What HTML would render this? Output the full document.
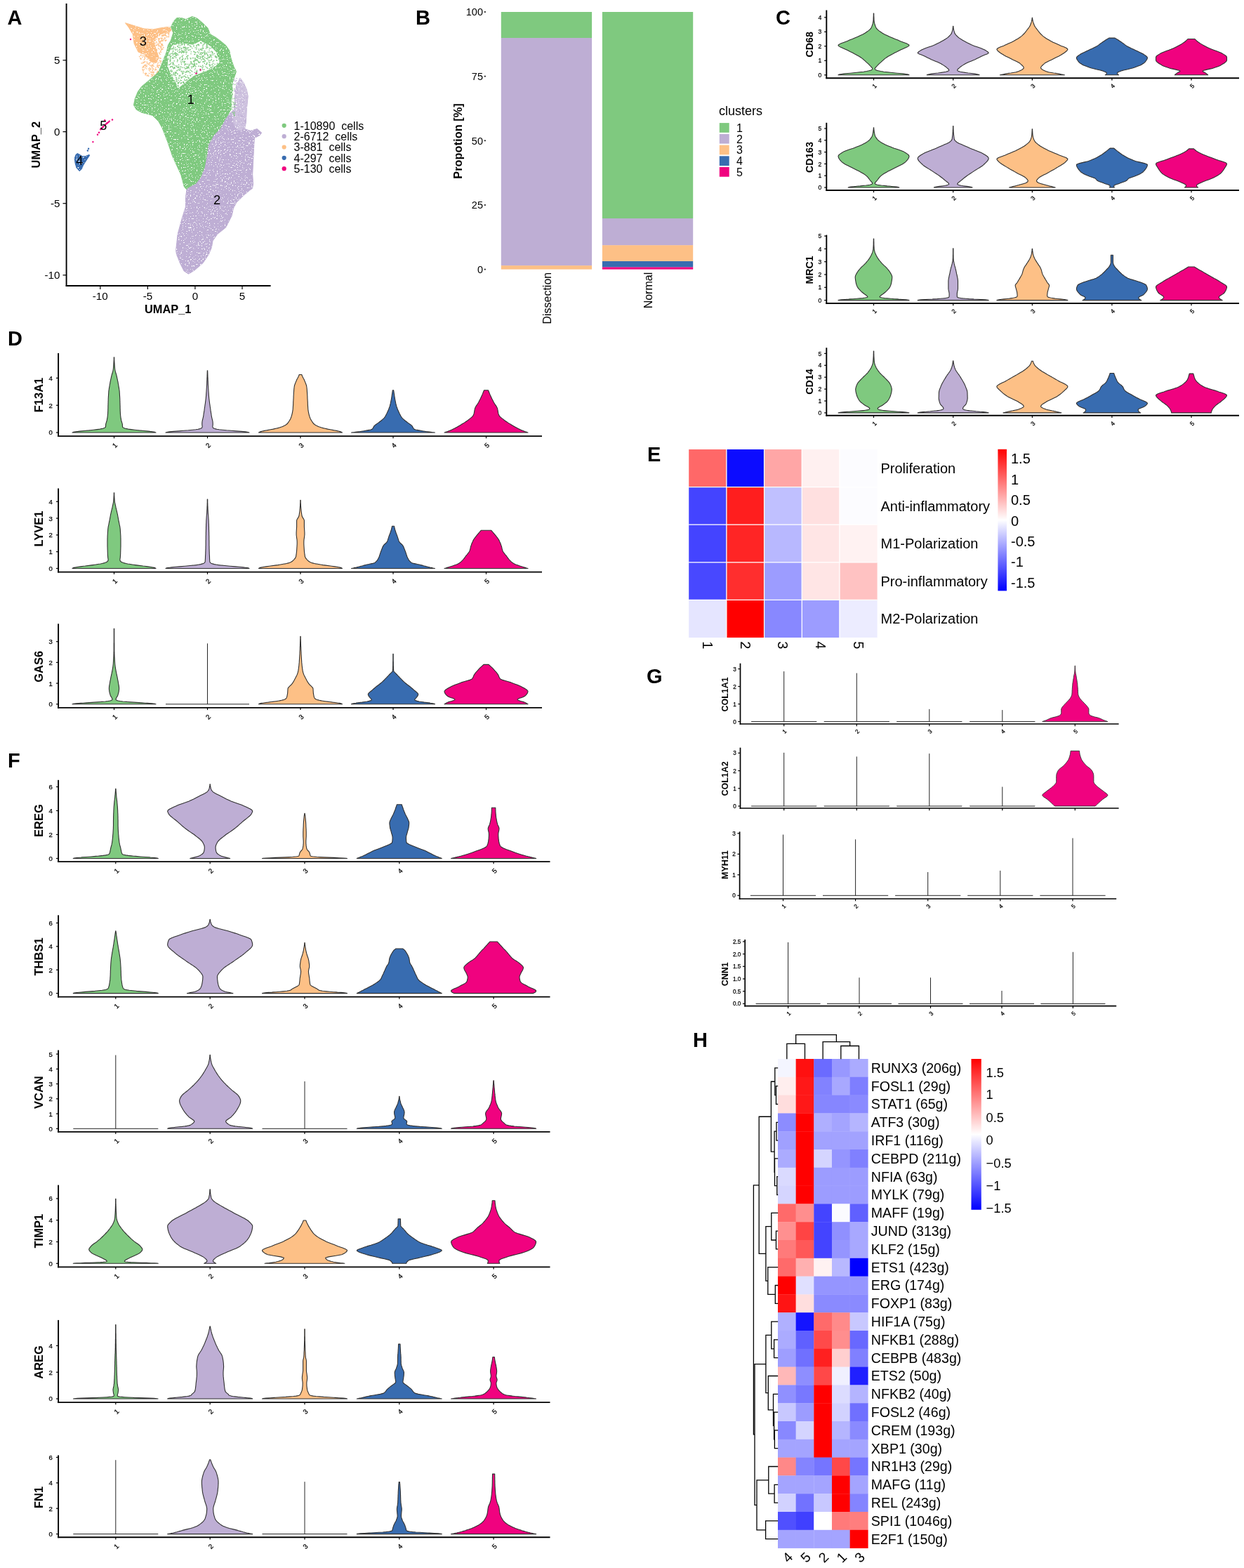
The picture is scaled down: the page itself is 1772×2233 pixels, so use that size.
<!DOCTYPE html><html><head><meta charset="utf-8"><title>Figure</title><style>html,body{margin:0;padding:0;background:#fff;}svg{display:block;}</style></head><body><svg width="1772" height="2233" viewBox="0 0 1772 2233" font-family="'Liberation Sans', Arial, Helvetica, sans-serif"><rect width="1772" height="2233" fill="#fff"/>
<text x="10.5" y="35" font-size="29" font-weight="bold">A</text>
<text x="592" y="35" font-size="29" font-weight="bold">B</text>
<text x="1105" y="35" font-size="29" font-weight="bold">C</text>
<text x="11" y="492" font-size="29" font-weight="bold">D</text>
<text x="922" y="656.5" font-size="29" font-weight="bold">E</text>
<text x="11" y="1093" font-size="29" font-weight="bold">F</text>
<text x="921" y="973" font-size="29" font-weight="bold">G</text>
<text x="987" y="1491" font-size="29" font-weight="bold">H</text>
<defs><filter id="spkf" x="0" y="0" width="1" height="1" color-interpolation-filters="sRGB"><feTurbulence type="fractalNoise" baseFrequency="0.55" numOctaves="2" seed="5"/><feColorMatrix type="matrix" values="0 0 0 0 1  0 0 0 0 1  0 0 0 0 1  14 0 0 0 -9.0"/></filter></defs>
<path d="M223.8 62.5h1.4v1.4h-1.4zM217.6 98.0h1.4v1.4h-1.4zM226.0 64.8h1.4v1.4h-1.4zM211.3 97.1h1.4v1.4h-1.4zM204.2 79.1h1.4v1.4h-1.4zM229.4 63.0h1.4v1.4h-1.4zM231.7 67.2h1.4v1.4h-1.4zM219.2 57.4h1.4v1.4h-1.4zM223.2 101.7h1.4v1.4h-1.4zM234.4 56.5h1.4v1.4h-1.4zM217.3 92.6h1.4v1.4h-1.4zM226.2 69.4h1.4v1.4h-1.4zM215.8 101.4h1.4v1.4h-1.4zM224.5 102.3h1.4v1.4h-1.4zM214.0 102.4h1.4v1.4h-1.4zM226.7 54.5h1.4v1.4h-1.4zM200.0 83.1h1.4v1.4h-1.4zM239.9 46.7h1.4v1.4h-1.4zM203.5 93.7h1.4v1.4h-1.4zM223.6 94.3h1.4v1.4h-1.4zM208.6 87.6h1.4v1.4h-1.4zM204.1 95.1h1.4v1.4h-1.4zM212.6 96.0h1.4v1.4h-1.4zM216.4 107.2h1.4v1.4h-1.4zM234.2 47.4h1.4v1.4h-1.4zM202.3 97.9h1.4v1.4h-1.4zM223.3 106.2h1.4v1.4h-1.4zM218.2 101.4h1.4v1.4h-1.4zM239.7 50.6h1.4v1.4h-1.4zM207.5 79.5h1.4v1.4h-1.4zM217.4 105.0h1.4v1.4h-1.4zM224.8 94.7h1.4v1.4h-1.4zM200.1 77.4h1.4v1.4h-1.4zM225.2 92.8h1.4v1.4h-1.4zM228.0 73.2h1.4v1.4h-1.4zM222.5 87.6h1.4v1.4h-1.4zM220.6 106.8h1.4v1.4h-1.4zM225.1 106.9h1.4v1.4h-1.4zM240.5 44.9h1.4v1.4h-1.4zM202.8 89.4h1.4v1.4h-1.4zM222.7 60.4h1.4v1.4h-1.4zM224.8 68.2h1.4v1.4h-1.4zM228.6 73.7h1.4v1.4h-1.4zM217.5 104.5h1.4v1.4h-1.4zM225.7 88.2h1.4v1.4h-1.4zM232.2 67.0h1.4v1.4h-1.4zM219.3 60.4h1.4v1.4h-1.4zM224.7 105.7h1.4v1.4h-1.4zM223.3 52.7h1.4v1.4h-1.4zM236.1 56.6h1.4v1.4h-1.4zM221.5 98.6h1.4v1.4h-1.4zM213.1 98.4h1.4v1.4h-1.4zM226.5 75.0h1.4v1.4h-1.4zM222.0 98.6h1.4v1.4h-1.4zM225.0 82.6h1.4v1.4h-1.4zM228.7 86.7h1.4v1.4h-1.4zM234.8 53.7h1.4v1.4h-1.4zM234.4 50.1h1.4v1.4h-1.4zM221.5 63.8h1.4v1.4h-1.4zM235.2 57.7h1.4v1.4h-1.4zM231.5 56.7h1.4v1.4h-1.4zM222.7 70.1h1.4v1.4h-1.4zM205.9 79.1h1.4v1.4h-1.4zM207.0 103.4h1.4v1.4h-1.4zM219.1 57.6h1.4v1.4h-1.4zM211.7 99.0h1.4v1.4h-1.4zM210.0 106.3h1.4v1.4h-1.4zM214.8 107.9h1.4v1.4h-1.4zM245.3 44.1h1.4v1.4h-1.4zM220.3 60.8h1.4v1.4h-1.4zM210.7 91.2h1.4v1.4h-1.4zM230.4 57.5h1.4v1.4h-1.4zM225.0 64.7h1.4v1.4h-1.4zM205.7 104.1h1.4v1.4h-1.4zM225.6 102.6h1.4v1.4h-1.4zM215.8 105.7h1.4v1.4h-1.4zM223.0 86.8h1.4v1.4h-1.4zM207.1 105.1h1.4v1.4h-1.4zM229.8 57.7h1.4v1.4h-1.4zM231.8 49.6h1.4v1.4h-1.4zM239.4 52.1h1.4v1.4h-1.4zM206.5 92.9h1.4v1.4h-1.4zM210.5 107.6h1.4v1.4h-1.4zM230.8 63.5h1.4v1.4h-1.4zM213.9 97.6h1.4v1.4h-1.4zM214.8 105.1h1.4v1.4h-1.4zM216.9 96.8h1.4v1.4h-1.4zM208.7 89.5h1.4v1.4h-1.4zM227.7 59.5h1.4v1.4h-1.4zM205.2 92.3h1.4v1.4h-1.4zM228.4 86.2h1.4v1.4h-1.4zM225.5 63.0h1.4v1.4h-1.4zM234.9 49.6h1.4v1.4h-1.4zM226.1 59.4h1.4v1.4h-1.4zM222.2 52.1h1.4v1.4h-1.4zM220.4 97.4h1.4v1.4h-1.4zM208.6 94.2h1.4v1.4h-1.4zM227.1 82.0h1.4v1.4h-1.4zM208.3 80.5h1.4v1.4h-1.4zM230.1 50.0h1.4v1.4h-1.4zM231.6 48.6h1.4v1.4h-1.4zM203.3 87.8h1.4v1.4h-1.4zM211.2 107.7h1.4v1.4h-1.4zM234.3 50.0h1.4v1.4h-1.4zM217.6 97.5h1.4v1.4h-1.4zM216.6 102.3h1.4v1.4h-1.4zM199.2 82.2h1.4v1.4h-1.4zM223.0 105.6h1.4v1.4h-1.4zM239.7 46.6h1.4v1.4h-1.4zM237.5 51.4h1.4v1.4h-1.4zM216.5 99.5h1.4v1.4h-1.4zM239.9 48.4h1.4v1.4h-1.4zM222.8 63.8h1.4v1.4h-1.4zM227.3 76.7h1.4v1.4h-1.4zM228.8 57.9h1.4v1.4h-1.4zM222.0 63.4h1.4v1.4h-1.4zM235.9 46.5h1.4v1.4h-1.4zM239.2 45.4h1.4v1.4h-1.4zM221.9 105.1h1.4v1.4h-1.4zM222.1 58.9h1.4v1.4h-1.4zM203.6 94.7h1.4v1.4h-1.4zM200.6 75.2h1.4v1.4h-1.4zM229.3 62.0h1.4v1.4h-1.4zM226.2 102.3h1.4v1.4h-1.4zM228.9 64.7h1.4v1.4h-1.4zM214.1 93.2h1.4v1.4h-1.4zM226.5 85.4h1.4v1.4h-1.4zM228.2 67.6h1.4v1.4h-1.4zM222.5 103.3h1.4v1.4h-1.4zM206.6 79.2h1.4v1.4h-1.4zM226.7 50.0h1.4v1.4h-1.4zM228.6 70.9h1.4v1.4h-1.4zM199.6 83.4h1.4v1.4h-1.4zM225.2 61.3h1.4v1.4h-1.4zM229.8 68.5h1.4v1.4h-1.4zM208.0 103.9h1.4v1.4h-1.4zM205.3 81.1h1.4v1.4h-1.4zM239.0 47.7h1.4v1.4h-1.4zM212.8 92.0h1.4v1.4h-1.4zM233.4 54.8h1.4v1.4h-1.4zM224.8 67.9h1.4v1.4h-1.4zM208.9 83.7h1.4v1.4h-1.4zM207.5 104.2h1.4v1.4h-1.4zM220.1 99.0h1.4v1.4h-1.4zM218.3 90.1h1.4v1.4h-1.4zM225.7 58.0h1.4v1.4h-1.4zM206.0 82.2h1.4v1.4h-1.4zM197.9 79.8h1.4v1.4h-1.4zM214.3 97.3h1.4v1.4h-1.4zM229.0 56.4h1.4v1.4h-1.4zM236.0 50.1h1.4v1.4h-1.4zM209.8 89.4h1.4v1.4h-1.4zM218.3 93.8h1.4v1.4h-1.4zM213.4 88.6h1.4v1.4h-1.4zM223.9 51.0h1.4v1.4h-1.4zM239.4 47.4h1.4v1.4h-1.4zM221.3 95.7h1.4v1.4h-1.4zM213.4 98.4h1.4v1.4h-1.4zM208.6 107.0h1.4v1.4h-1.4zM200.3 83.3h1.4v1.4h-1.4zM228.8 61.7h1.4v1.4h-1.4zM243.3 40.9h1.4v1.4h-1.4zM215.2 102.4h1.4v1.4h-1.4zM223.5 92.4h1.4v1.4h-1.4zM202.8 99.2h1.4v1.4h-1.4zM205.1 83.4h1.4v1.4h-1.4zM216.2 95.2h1.4v1.4h-1.4zM229.1 70.0h1.4v1.4h-1.4zM202.1 80.8h1.4v1.4h-1.4zM216.6 91.4h1.4v1.4h-1.4zM225.9 92.0h1.4v1.4h-1.4zM229.6 69.3h1.4v1.4h-1.4zM228.9 53.6h1.4v1.4h-1.4zM228.5 65.8h1.4v1.4h-1.4zM204.4 84.7h1.4v1.4h-1.4zM203.1 94.5h1.4v1.4h-1.4zM199.9 78.5h1.4v1.4h-1.4zM224.1 89.5h1.4v1.4h-1.4zM216.9 107.3h1.4v1.4h-1.4zM205.9 87.0h1.4v1.4h-1.4zM215.9 93.0h1.4v1.4h-1.4zM217.4 88.1h1.4v1.4h-1.4zM206.6 91.4h1.4v1.4h-1.4zM206.3 96.0h1.4v1.4h-1.4zM220.0 57.0h1.4v1.4h-1.4zM230.6 62.2h1.4v1.4h-1.4zM230.4 53.6h1.4v1.4h-1.4zM207.2 94.1h1.4v1.4h-1.4zM203.5 102.9h1.4v1.4h-1.4zM205.2 87.6h1.4v1.4h-1.4zM223.5 91.4h1.4v1.4h-1.4zM218.4 102.3h1.4v1.4h-1.4zM224.8 54.7h1.4v1.4h-1.4zM224.0 100.7h1.4v1.4h-1.4zM222.4 71.6h1.4v1.4h-1.4zM212.9 100.7h1.4v1.4h-1.4zM223.2 93.6h1.4v1.4h-1.4zM222.0 55.2h1.4v1.4h-1.4zM228.2 82.6h1.4v1.4h-1.4zM231.8 50.7h1.4v1.4h-1.4zM231.0 69.6h1.4v1.4h-1.4zM230.4 62.7h1.4v1.4h-1.4zM225.2 54.2h1.4v1.4h-1.4zM229.7 50.6h1.4v1.4h-1.4zM233.9 53.0h1.4v1.4h-1.4zM234.6 48.7h1.4v1.4h-1.4zM219.6 106.1h1.4v1.4h-1.4zM211.4 90.5h1.4v1.4h-1.4zM203.4 100.6h1.4v1.4h-1.4zM202.3 95.7h1.4v1.4h-1.4zM228.9 66.5h1.4v1.4h-1.4zM215.5 94.8h1.4v1.4h-1.4zM225.5 56.8h1.4v1.4h-1.4zM227.4 58.1h1.4v1.4h-1.4zM217.9 102.7h1.4v1.4h-1.4zM225.8 55.4h1.4v1.4h-1.4zM224.8 95.7h1.4v1.4h-1.4zM205.3 92.1h1.4v1.4h-1.4zM227.7 86.5h1.4v1.4h-1.4zM208.3 92.1h1.4v1.4h-1.4zM236.8 52.2h1.4v1.4h-1.4zM204.2 88.3h1.4v1.4h-1.4zM200.1 83.0h1.4v1.4h-1.4zM237.6 46.3h1.4v1.4h-1.4zM227.1 60.9h1.4v1.4h-1.4zM225.5 54.4h1.4v1.4h-1.4zM225.0 101.3h1.4v1.4h-1.4zM219.5 107.2h1.4v1.4h-1.4zM244.3 39.2h1.4v1.4h-1.4zM227.2 64.9h1.4v1.4h-1.4zM231.1 64.6h1.4v1.4h-1.4zM231.5 57.3h1.4v1.4h-1.4zM226.8 92.7h1.4v1.4h-1.4zM233.7 49.3h1.4v1.4h-1.4zM206.4 106.2h1.4v1.4h-1.4zM219.2 60.5h1.4v1.4h-1.4zM211.8 103.8h1.4v1.4h-1.4zM231.1 50.6h1.4v1.4h-1.4zM220.6 56.3h1.4v1.4h-1.4zM243.6 38.7h1.4v1.4h-1.4zM234.3 56.9h1.4v1.4h-1.4zM204.2 93.6h1.4v1.4h-1.4zM233.4 49.4h1.4v1.4h-1.4zM227.8 72.5h1.4v1.4h-1.4zM228.0 88.8h1.4v1.4h-1.4zM204.5 98.3h1.4v1.4h-1.4zM200.9 89.3h1.4v1.4h-1.4zM212.0 89.1h1.4v1.4h-1.4zM215.3 92.2h1.4v1.4h-1.4zM208.1 97.2h1.4v1.4h-1.4zM232.7 49.3h1.4v1.4h-1.4zM226.0 74.6h1.4v1.4h-1.4zM202.4 78.4h1.4v1.4h-1.4zM235.4 47.0h1.4v1.4h-1.4zM216.1 106.8h1.4v1.4h-1.4zM229.1 62.4h1.4v1.4h-1.4zM229.6 54.8h1.4v1.4h-1.4zM231.6 55.4h1.4v1.4h-1.4zM224.1 105.5h1.4v1.4h-1.4zM228.5 53.6h1.4v1.4h-1.4z" fill="#FDC086"/>
<path d="M247.8 29.7 L252 25.5 L258.4 25.5 L264.7 27.6 L274.1 23.4 L281.5 26.6 L289.9 33.9 L296.2 40.2 L299.4 48.7 L306.8 52.9 L315.2 59.2 L321.5 64.4 L326.7 71.8 L328.8 82.3 L333 95 L336.5 102 L333 112 L330.9 118.6 L330 137.1 L329 155.7 L321.6 169.6 L314.2 183.5 L305 192.8 L297.5 206.7 L295.7 220.6 L292 239.1 L286.4 253 L279 262.3 L269 267.5 L266 270 L262.3 265.8 L257.9 249.1 L245.6 222.3 L238.9 202.3 L231.1 182.3 L225.8 172.8 L217.3 164.4 L210 162.3 L201.6 160.2 L194.2 156 L190.5 149.7 L192.1 141.2 L196.3 130.7 L201.6 123.4 L207.9 118.1 L214.2 112.8 L220.5 107.6 L225.8 102.3 L228.9 95 L233.1 84.4 L237.3 73.9 L239.4 64.4 L243.6 57.1 L246.8 46.6 L243.6 38.1Z" fill="#7FC97F" stroke="#7FC97F" stroke-width="1.0" stroke-linejoin="round"/>
<path d="M342 111.1 L347 118 L351.3 127.8 L353.2 137.1 L351.3 155.7 L350.4 174.2 L348.5 183.5 L356.9 186.3 L366.2 183.5 L372.7 189.1 L369.9 192.8 L362.4 196.5 L361.5 211.3 L360.6 229.9 L359.7 248.4 L360.6 262 L359.5 268.2 L349 276.4 L336.6 288.6 L332.5 296.8 L330 307.5 L321.8 323.8 L309.6 333.6 L303 343 L301.4 352.5 L297.3 362.3 L289.1 374.6 L276.8 385.2 L268.6 390.1 L262.1 386 L256.4 374.6 L251.5 362.3 L250.6 356.6 L253.1 333.6 L258.8 312.4 L264.5 294.4 L264.5 280.5 L266 270 L269 267.5 L279 262.3 L286.4 253 L292 239.1 L295.7 220.6 L297.5 206.7 L305 192.8 L314.2 183.5 L321.6 169.6 L329 160 L333.7 155.7 L334.6 137.1 L336.5 123.2Z" fill="#BEAED4" stroke="#BEAED4" stroke-width="1.0" stroke-linejoin="round"/>
<path d="M178.5 32.7 L189.2 36 L204.8 40.9 L218.4 41.9 L228.2 39.9 L241.8 38 L243.8 43.8 L234 46.8 L224.3 50.7 L218.4 58.4 L222.3 70.1 L226.2 81.8 L222.3 89.6 L214.5 87.7 L206.8 77.9 L197 74 L191.2 62.3 L189.2 48.7 L183.4 39Z" fill="#FDC086" stroke="#FDC086" stroke-width="1.0" stroke-linejoin="round"/>
<path d="M110 218.4 L113.7 220.3 L117 222.6 L121.2 222.6 L127.3 220.3 L127.7 221.2 L121.2 231.1 L118.4 235.7 L116.5 240.4 L113.2 243.7 L109 239 L107.2 232.9 L106.2 225.5 L108.1 220.3Z" fill="#386CB0" stroke="#386CB0" stroke-width="1.0" stroke-linejoin="round"/>
<clipPath id="clc"><path d="M247.8 29.7 L252 25.5 L258.4 25.5 L264.7 27.6 L274.1 23.4 L281.5 26.6 L289.9 33.9 L296.2 40.2 L299.4 48.7 L306.8 52.9 L315.2 59.2 L321.5 64.4 L326.7 71.8 L328.8 82.3 L333 95 L336.5 102 L333 112 L330.9 118.6 L330 137.1 L329 155.7 L321.6 169.6 L314.2 183.5 L305 192.8 L297.5 206.7 L295.7 220.6 L292 239.1 L286.4 253 L279 262.3 L269 267.5 L266 270 L262.3 265.8 L257.9 249.1 L245.6 222.3 L238.9 202.3 L231.1 182.3 L225.8 172.8 L217.3 164.4 L210 162.3 L201.6 160.2 L194.2 156 L190.5 149.7 L192.1 141.2 L196.3 130.7 L201.6 123.4 L207.9 118.1 L214.2 112.8 L220.5 107.6 L225.8 102.3 L228.9 95 L233.1 84.4 L237.3 73.9 L239.4 64.4 L243.6 57.1 L246.8 46.6 L243.6 38.1Z"/><path d="M342 111.1 L347 118 L351.3 127.8 L353.2 137.1 L351.3 155.7 L350.4 174.2 L348.5 183.5 L356.9 186.3 L366.2 183.5 L372.7 189.1 L369.9 192.8 L362.4 196.5 L361.5 211.3 L360.6 229.9 L359.7 248.4 L360.6 262 L359.5 268.2 L349 276.4 L336.6 288.6 L332.5 296.8 L330 307.5 L321.8 323.8 L309.6 333.6 L303 343 L301.4 352.5 L297.3 362.3 L289.1 374.6 L276.8 385.2 L268.6 390.1 L262.1 386 L256.4 374.6 L251.5 362.3 L250.6 356.6 L253.1 333.6 L258.8 312.4 L264.5 294.4 L264.5 280.5 L266 270 L269 267.5 L279 262.3 L286.4 253 L292 239.1 L295.7 220.6 L297.5 206.7 L305 192.8 L314.2 183.5 L321.6 169.6 L329 160 L333.7 155.7 L334.6 137.1 L336.5 123.2Z"/><path d="M178.5 32.7 L189.2 36 L204.8 40.9 L218.4 41.9 L228.2 39.9 L241.8 38 L243.8 43.8 L234 46.8 L224.3 50.7 L218.4 58.4 L222.3 70.1 L226.2 81.8 L222.3 89.6 L214.5 87.7 L206.8 77.9 L197 74 L191.2 62.3 L189.2 48.7 L183.4 39Z"/><path d="M110 218.4 L113.7 220.3 L117 222.6 L121.2 222.6 L127.3 220.3 L127.7 221.2 L121.2 231.1 L118.4 235.7 L116.5 240.4 L113.2 243.7 L109 239 L107.2 232.9 L106.2 225.5 L108.1 220.3Z"/></clipPath>
<rect x="100" y="15" width="280" height="385" fill="#fff" filter="url(#spkf)" clip-path="url(#clc)"/>
<path d="M245.7 65.5 L259.4 62.3 L275.2 64.4 L285.7 59.2 L296.2 64.4 L306.8 73.9 L312 88.6 L301.5 97.1 L291 101.3 L275.2 107.6 L264.7 116 L254.2 124.4 L250 115 L243.6 104.4 L239.5 93.9 L240.5 78.1Z" fill="#fff" stroke="#fff" stroke-width="1.5" stroke-linejoin="round"/>
<path d="M276.3 86.4h1.4v1.4h-1.4zM260.2 100.7h1.4v1.4h-1.4zM246.3 97.1h1.4v1.4h-1.4zM257.4 88.5h1.4v1.4h-1.4zM277.3 67.2h1.4v1.4h-1.4zM246.6 66.1h1.4v1.4h-1.4zM259.3 84.5h1.4v1.4h-1.4zM258.9 73.6h1.4v1.4h-1.4zM243.9 93.9h1.4v1.4h-1.4zM280.1 100.9h1.4v1.4h-1.4zM252.4 104.9h1.4v1.4h-1.4zM271.9 94.0h1.4v1.4h-1.4zM283.3 88.7h1.4v1.4h-1.4zM260.6 73.5h1.4v1.4h-1.4zM253.9 91.6h1.4v1.4h-1.4zM266.0 96.5h1.4v1.4h-1.4zM301.9 73.3h1.4v1.4h-1.4zM279.0 90.2h1.4v1.4h-1.4zM259.5 109.0h1.4v1.4h-1.4zM302.6 86.8h1.4v1.4h-1.4zM242.0 83.3h1.4v1.4h-1.4zM270.3 106.6h1.4v1.4h-1.4zM245.5 72.4h1.4v1.4h-1.4zM248.9 79.9h1.4v1.4h-1.4zM263.7 102.5h1.4v1.4h-1.4zM298.9 92.0h1.4v1.4h-1.4zM294.3 89.1h1.4v1.4h-1.4zM294.7 96.6h1.4v1.4h-1.4zM280.2 85.3h1.4v1.4h-1.4zM282.9 82.7h1.4v1.4h-1.4zM271.2 88.0h1.4v1.4h-1.4zM291.5 76.9h1.4v1.4h-1.4zM266.6 94.5h1.4v1.4h-1.4zM266.1 78.9h1.4v1.4h-1.4zM274.8 87.1h1.4v1.4h-1.4zM251.1 77.7h1.4v1.4h-1.4zM248.2 95.9h1.4v1.4h-1.4zM280.9 63.2h1.4v1.4h-1.4zM306.3 79.0h1.4v1.4h-1.4zM279.7 90.6h1.4v1.4h-1.4zM276.1 92.0h1.4v1.4h-1.4zM288.7 83.4h1.4v1.4h-1.4zM264.1 97.1h1.4v1.4h-1.4zM288.0 92.5h1.4v1.4h-1.4zM244.7 82.4h1.4v1.4h-1.4zM267.4 94.9h1.4v1.4h-1.4zM270.3 99.1h1.4v1.4h-1.4zM250.1 78.6h1.4v1.4h-1.4zM275.7 64.7h1.4v1.4h-1.4zM303.9 85.5h1.4v1.4h-1.4zM249.0 76.7h1.4v1.4h-1.4zM275.7 91.1h1.4v1.4h-1.4zM251.4 69.5h1.4v1.4h-1.4zM284.6 97.7h1.4v1.4h-1.4zM285.0 60.1h1.4v1.4h-1.4zM268.2 110.1h1.4v1.4h-1.4zM260.3 103.6h1.4v1.4h-1.4zM287.4 70.5h1.4v1.4h-1.4zM274.6 94.4h1.4v1.4h-1.4zM257.3 100.6h1.4v1.4h-1.4zM280.4 84.8h1.4v1.4h-1.4zM246.4 67.8h1.4v1.4h-1.4zM294.3 64.4h1.4v1.4h-1.4zM244.8 68.7h1.4v1.4h-1.4zM295.1 78.9h1.4v1.4h-1.4zM291.0 81.0h1.4v1.4h-1.4zM250.0 75.2h1.4v1.4h-1.4zM281.0 80.7h1.4v1.4h-1.4zM271.0 83.1h1.4v1.4h-1.4zM270.3 98.9h1.4v1.4h-1.4zM260.9 117.5h1.4v1.4h-1.4zM298.5 77.6h1.4v1.4h-1.4zM255.5 83.4h1.4v1.4h-1.4zM291.2 72.1h1.4v1.4h-1.4zM260.5 115.9h1.4v1.4h-1.4zM255.6 68.9h1.4v1.4h-1.4zM264.2 69.8h1.4v1.4h-1.4zM279.4 65.0h1.4v1.4h-1.4zM277.3 83.1h1.4v1.4h-1.4zM263.6 73.7h1.4v1.4h-1.4zM251.6 76.3h1.4v1.4h-1.4zM287.1 80.2h1.4v1.4h-1.4zM249.0 104.6h1.4v1.4h-1.4zM244.2 75.4h1.4v1.4h-1.4zM297.7 68.0h1.4v1.4h-1.4zM263.8 105.7h1.4v1.4h-1.4zM252.9 121.0h1.4v1.4h-1.4zM275.2 72.5h1.4v1.4h-1.4zM271.3 66.1h1.4v1.4h-1.4zM290.3 74.8h1.4v1.4h-1.4zM264.9 73.8h1.4v1.4h-1.4zM282.9 71.5h1.4v1.4h-1.4zM275.8 93.7h1.4v1.4h-1.4zM257.6 109.0h1.4v1.4h-1.4zM266.2 101.4h1.4v1.4h-1.4zM279.9 78.1h1.4v1.4h-1.4zM266.5 63.1h1.4v1.4h-1.4zM250.6 114.3h1.4v1.4h-1.4zM261.4 101.7h1.4v1.4h-1.4zM245.5 95.0h1.4v1.4h-1.4zM264.4 90.8h1.4v1.4h-1.4zM259.6 61.7h1.4v1.4h-1.4zM260.6 72.5h1.4v1.4h-1.4zM246.8 105.3h1.4v1.4h-1.4zM258.5 84.3h1.4v1.4h-1.4zM247.2 75.8h1.4v1.4h-1.4zM287.1 80.8h1.4v1.4h-1.4zM268.2 101.5h1.4v1.4h-1.4zM289.7 73.9h1.4v1.4h-1.4zM300.8 80.9h1.4v1.4h-1.4zM284.5 69.5h1.4v1.4h-1.4zM249.5 70.6h1.4v1.4h-1.4zM260.0 82.8h1.4v1.4h-1.4zM240.2 78.1h1.4v1.4h-1.4zM285.2 69.3h1.4v1.4h-1.4zM300.3 95.5h1.4v1.4h-1.4zM291.0 74.4h1.4v1.4h-1.4zM269.9 103.1h1.4v1.4h-1.4zM253.1 118.6h1.4v1.4h-1.4zM293.5 63.1h1.4v1.4h-1.4zM289.4 83.7h1.4v1.4h-1.4zM258.4 63.3h1.4v1.4h-1.4zM308.3 85.7h1.4v1.4h-1.4zM284.4 87.6h1.4v1.4h-1.4zM269.4 91.6h1.4v1.4h-1.4zM256.9 93.9h1.4v1.4h-1.4zM278.1 74.0h1.4v1.4h-1.4zM241.8 81.3h1.4v1.4h-1.4zM268.2 70.8h1.4v1.4h-1.4zM260.6 66.4h1.4v1.4h-1.4zM255.1 73.5h1.4v1.4h-1.4zM276.0 87.1h1.4v1.4h-1.4zM307.5 80.8h1.4v1.4h-1.4zM259.8 116.6h1.4v1.4h-1.4zM247.9 95.0h1.4v1.4h-1.4zM262.3 111.9h1.4v1.4h-1.4zM250.0 102.0h1.4v1.4h-1.4zM282.2 88.2h1.4v1.4h-1.4zM245.9 76.7h1.4v1.4h-1.4zM264.3 71.1h1.4v1.4h-1.4zM241.8 76.1h1.4v1.4h-1.4zM252.1 104.3h1.4v1.4h-1.4zM270.9 64.9h1.4v1.4h-1.4zM261.6 88.7h1.4v1.4h-1.4zM264.5 68.6h1.4v1.4h-1.4zM245.5 90.1h1.4v1.4h-1.4zM269.9 70.0h1.4v1.4h-1.4zM286.2 74.1h1.4v1.4h-1.4zM255.7 66.6h1.4v1.4h-1.4zM300.3 77.2h1.4v1.4h-1.4zM251.2 100.1h1.4v1.4h-1.4zM249.9 109.9h1.4v1.4h-1.4zM261.8 69.7h1.4v1.4h-1.4zM299.2 78.8h1.4v1.4h-1.4zM264.9 94.2h1.4v1.4h-1.4zM265.0 113.0h1.4v1.4h-1.4zM279.8 99.4h1.4v1.4h-1.4zM274.4 90.8h1.4v1.4h-1.4zM249.1 77.4h1.4v1.4h-1.4zM280.9 62.7h1.4v1.4h-1.4zM288.9 68.3h1.4v1.4h-1.4zM270.3 70.1h1.4v1.4h-1.4zM296.3 85.8h1.4v1.4h-1.4zM258.5 101.6h1.4v1.4h-1.4zM275.9 85.5h1.4v1.4h-1.4zM262.7 86.7h1.4v1.4h-1.4zM259.5 87.0h1.4v1.4h-1.4zM279.6 80.6h1.4v1.4h-1.4zM261.6 88.2h1.4v1.4h-1.4zM288.0 98.1h1.4v1.4h-1.4zM259.6 95.6h1.4v1.4h-1.4zM308.8 89.5h1.4v1.4h-1.4zM285.9 77.4h1.4v1.4h-1.4zM288.2 87.3h1.4v1.4h-1.4zM243.7 101.6h1.4v1.4h-1.4zM265.2 96.2h1.4v1.4h-1.4zM268.5 92.8h1.4v1.4h-1.4zM279.7 83.9h1.4v1.4h-1.4zM245.9 69.4h1.4v1.4h-1.4zM256.3 63.7h1.4v1.4h-1.4zM277.1 74.2h1.4v1.4h-1.4zM274.0 94.4h1.4v1.4h-1.4zM254.3 95.7h1.4v1.4h-1.4zM245.8 91.7h1.4v1.4h-1.4zM281.4 62.7h1.4v1.4h-1.4zM278.6 105.2h1.4v1.4h-1.4zM294.1 65.0h1.4v1.4h-1.4zM266.7 68.8h1.4v1.4h-1.4zM295.4 66.5h1.4v1.4h-1.4zM255.1 82.2h1.4v1.4h-1.4zM253.3 77.4h1.4v1.4h-1.4zM290.4 85.8h1.4v1.4h-1.4zM249.9 107.2h1.4v1.4h-1.4zM262.9 108.5h1.4v1.4h-1.4zM246.5 82.3h1.4v1.4h-1.4zM282.6 64.0h1.4v1.4h-1.4zM287.9 74.4h1.4v1.4h-1.4zM251.8 87.2h1.4v1.4h-1.4zM300.2 96.3h1.4v1.4h-1.4zM251.2 94.4h1.4v1.4h-1.4zM259.1 103.3h1.4v1.4h-1.4zM265.9 67.0h1.4v1.4h-1.4zM303.0 93.4h1.4v1.4h-1.4zM263.0 67.4h1.4v1.4h-1.4zM251.0 112.1h1.4v1.4h-1.4zM288.3 83.6h1.4v1.4h-1.4zM273.0 67.9h1.4v1.4h-1.4zM300.7 83.7h1.4v1.4h-1.4zM243.0 79.4h1.4v1.4h-1.4zM253.5 117.2h1.4v1.4h-1.4zM250.0 81.5h1.4v1.4h-1.4zM272.4 96.0h1.4v1.4h-1.4zM266.4 81.0h1.4v1.4h-1.4zM287.6 75.6h1.4v1.4h-1.4zM257.8 90.8h1.4v1.4h-1.4zM257.0 95.4h1.4v1.4h-1.4zM284.8 99.8h1.4v1.4h-1.4zM264.5 76.2h1.4v1.4h-1.4zM260.1 108.4h1.4v1.4h-1.4zM292.8 91.4h1.4v1.4h-1.4zM284.9 80.8h1.4v1.4h-1.4zM278.6 84.5h1.4v1.4h-1.4zM241.8 79.9h1.4v1.4h-1.4zM273.4 81.9h1.4v1.4h-1.4zM255.6 73.0h1.4v1.4h-1.4zM263.5 66.4h1.4v1.4h-1.4zM271.3 87.1h1.4v1.4h-1.4zM280.0 77.6h1.4v1.4h-1.4zM259.9 78.0h1.4v1.4h-1.4zM291.8 94.2h1.4v1.4h-1.4zM307.6 80.1h1.4v1.4h-1.4zM243.3 69.3h1.4v1.4h-1.4zM264.1 109.2h1.4v1.4h-1.4zM242.4 89.8h1.4v1.4h-1.4zM304.7 75.8h1.4v1.4h-1.4zM249.6 75.3h1.4v1.4h-1.4zM290.1 71.9h1.4v1.4h-1.4zM267.3 70.7h1.4v1.4h-1.4zM285.9 70.5h1.4v1.4h-1.4zM282.4 62.6h1.4v1.4h-1.4zM262.9 66.5h1.4v1.4h-1.4zM251.4 93.3h1.4v1.4h-1.4zM261.8 107.5h1.4v1.4h-1.4zM286.0 84.5h1.4v1.4h-1.4zM288.2 79.9h1.4v1.4h-1.4zM241.6 85.1h1.4v1.4h-1.4zM262.4 90.4h1.4v1.4h-1.4zM282.1 74.5h1.4v1.4h-1.4zM262.0 63.6h1.4v1.4h-1.4zM249.0 66.9h1.4v1.4h-1.4zM298.4 85.7h1.4v1.4h-1.4zM277.7 96.7h1.4v1.4h-1.4zM278.9 101.3h1.4v1.4h-1.4zM282.4 79.5h1.4v1.4h-1.4zM292.9 74.6h1.4v1.4h-1.4zM295.5 78.0h1.4v1.4h-1.4zM271.3 75.9h1.4v1.4h-1.4zM273.0 101.2h1.4v1.4h-1.4zM295.4 81.6h1.4v1.4h-1.4zM294.0 63.3h1.4v1.4h-1.4zM241.8 90.9h1.4v1.4h-1.4zM278.9 69.5h1.4v1.4h-1.4zM307.8 81.8h1.4v1.4h-1.4zM248.5 69.2h1.4v1.4h-1.4zM295.7 73.6h1.4v1.4h-1.4zM285.0 80.4h1.4v1.4h-1.4zM297.3 88.1h1.4v1.4h-1.4zM245.4 106.4h1.4v1.4h-1.4zM242.2 100.5h1.4v1.4h-1.4zM241.8 95.1h1.4v1.4h-1.4zM254.1 74.2h1.4v1.4h-1.4zM257.0 86.4h1.4v1.4h-1.4zM254.7 70.9h1.4v1.4h-1.4zM253.5 95.5h1.4v1.4h-1.4zM302.5 75.2h1.4v1.4h-1.4zM258.5 79.5h1.4v1.4h-1.4zM249.4 103.0h1.4v1.4h-1.4zM282.1 87.7h1.4v1.4h-1.4zM253.0 116.5h1.4v1.4h-1.4zM264.3 109.5h1.4v1.4h-1.4zM248.6 106.6h1.4v1.4h-1.4zM244.6 68.6h1.4v1.4h-1.4zM288.5 63.3h1.4v1.4h-1.4zM254.9 110.4h1.4v1.4h-1.4zM275.2 72.8h1.4v1.4h-1.4zM269.6 64.3h1.4v1.4h-1.4zM261.0 116.2h1.4v1.4h-1.4zM246.3 90.0h1.4v1.4h-1.4zM247.5 86.0h1.4v1.4h-1.4zM250.7 103.2h1.4v1.4h-1.4zM248.4 106.8h1.4v1.4h-1.4zM274.9 64.8h1.4v1.4h-1.4zM263.8 90.5h1.4v1.4h-1.4zM306.2 80.7h1.4v1.4h-1.4zM253.4 122.1h1.4v1.4h-1.4zM257.8 69.2h1.4v1.4h-1.4zM240.5 91.4h1.4v1.4h-1.4zM267.9 94.6h1.4v1.4h-1.4zM288.9 101.1h1.4v1.4h-1.4zM278.1 94.1h1.4v1.4h-1.4zM267.2 78.6h1.4v1.4h-1.4zM266.3 83.1h1.4v1.4h-1.4zM268.0 66.9h1.4v1.4h-1.4zM256.4 98.2h1.4v1.4h-1.4zM265.6 73.4h1.4v1.4h-1.4zM252.2 65.1h1.4v1.4h-1.4zM289.4 79.0h1.4v1.4h-1.4zM285.8 94.1h1.4v1.4h-1.4zM301.3 91.5h1.4v1.4h-1.4zM254.9 99.5h1.4v1.4h-1.4zM293.0 82.7h1.4v1.4h-1.4zM290.7 83.7h1.4v1.4h-1.4zM276.8 98.4h1.4v1.4h-1.4zM288.1 78.9h1.4v1.4h-1.4zM284.5 93.7h1.4v1.4h-1.4zM254.0 98.3h1.4v1.4h-1.4zM257.2 118.2h1.4v1.4h-1.4zM272.8 105.6h1.4v1.4h-1.4zM276.5 89.2h1.4v1.4h-1.4zM253.9 66.8h1.4v1.4h-1.4zM276.6 92.6h1.4v1.4h-1.4zM298.3 73.3h1.4v1.4h-1.4zM250.2 112.4h1.4v1.4h-1.4zM271.8 100.2h1.4v1.4h-1.4zM265.9 113.1h1.4v1.4h-1.4zM248.8 74.1h1.4v1.4h-1.4zM245.0 81.2h1.4v1.4h-1.4zM297.5 92.2h1.4v1.4h-1.4zM289.4 87.4h1.4v1.4h-1.4zM294.2 67.3h1.4v1.4h-1.4zM288.3 81.9h1.4v1.4h-1.4zM276.4 73.2h1.4v1.4h-1.4zM265.1 80.1h1.4v1.4h-1.4zM252.4 95.5h1.4v1.4h-1.4zM291.2 75.7h1.4v1.4h-1.4zM261.6 73.5h1.4v1.4h-1.4zM252.4 85.7h1.4v1.4h-1.4zM270.5 81.9h1.4v1.4h-1.4zM290.7 77.1h1.4v1.4h-1.4zM267.9 100.7h1.4v1.4h-1.4zM298.1 80.9h1.4v1.4h-1.4zM266.2 96.1h1.4v1.4h-1.4zM265.2 101.9h1.4v1.4h-1.4zM262.0 62.0h1.4v1.4h-1.4zM294.0 82.7h1.4v1.4h-1.4zM276.7 90.6h1.4v1.4h-1.4zM272.0 88.3h1.4v1.4h-1.4zM300.3 85.1h1.4v1.4h-1.4zM270.3 90.2h1.4v1.4h-1.4zM288.3 94.4h1.4v1.4h-1.4zM246.2 72.1h1.4v1.4h-1.4zM293.8 95.1h1.4v1.4h-1.4zM290.6 89.6h1.4v1.4h-1.4zM268.6 96.4h1.4v1.4h-1.4zM262.4 92.0h1.4v1.4h-1.4zM257.9 74.9h1.4v1.4h-1.4zM260.8 74.4h1.4v1.4h-1.4zM301.7 94.5h1.4v1.4h-1.4zM275.6 85.5h1.4v1.4h-1.4zM241.1 77.7h1.4v1.4h-1.4zM301.5 74.5h1.4v1.4h-1.4zM277.6 82.3h1.4v1.4h-1.4zM272.1 90.1h1.4v1.4h-1.4zM281.1 81.8h1.4v1.4h-1.4zM297.4 70.7h1.4v1.4h-1.4zM241.1 78.4h1.4v1.4h-1.4zM277.3 84.7h1.4v1.4h-1.4zM279.7 79.0h1.4v1.4h-1.4zM257.8 110.6h1.4v1.4h-1.4zM259.2 104.9h1.4v1.4h-1.4zM297.5 97.0h1.4v1.4h-1.4zM241.6 86.4h1.4v1.4h-1.4zM285.2 60.6h1.4v1.4h-1.4zM282.0 69.4h1.4v1.4h-1.4zM297.4 90.7h1.4v1.4h-1.4zM259.4 71.4h1.4v1.4h-1.4zM268.4 101.4h1.4v1.4h-1.4zM256.6 118.0h1.4v1.4h-1.4zM288.7 67.7h1.4v1.4h-1.4zM259.3 72.9h1.4v1.4h-1.4zM281.0 78.7h1.4v1.4h-1.4zM279.3 67.6h1.4v1.4h-1.4zM305.7 79.0h1.4v1.4h-1.4zM265.8 100.2h1.4v1.4h-1.4zM254.1 93.9h1.4v1.4h-1.4zM244.3 88.4h1.4v1.4h-1.4zM291.9 86.1h1.4v1.4h-1.4zM288.2 65.0h1.4v1.4h-1.4zM259.1 80.6h1.4v1.4h-1.4zM293.6 90.6h1.4v1.4h-1.4zM282.1 93.5h1.4v1.4h-1.4zM257.6 117.1h1.4v1.4h-1.4zM300.7 72.5h1.4v1.4h-1.4zM286.5 60.7h1.4v1.4h-1.4zM262.3 87.4h1.4v1.4h-1.4zM255.9 107.0h1.4v1.4h-1.4zM250.7 110.1h1.4v1.4h-1.4zM259.7 62.0h1.4v1.4h-1.4zM279.2 63.7h1.4v1.4h-1.4zM282.0 88.2h1.4v1.4h-1.4zM239.8 91.7h1.4v1.4h-1.4zM244.6 100.6h1.4v1.4h-1.4zM247.2 96.0h1.4v1.4h-1.4zM263.8 82.4h1.4v1.4h-1.4zM287.0 68.3h1.4v1.4h-1.4zM262.2 113.7h1.4v1.4h-1.4zM302.8 89.5h1.4v1.4h-1.4zM274.5 93.2h1.4v1.4h-1.4zM246.1 88.6h1.4v1.4h-1.4zM249.6 93.2h1.4v1.4h-1.4zM275.3 81.9h1.4v1.4h-1.4zM252.1 84.3h1.4v1.4h-1.4zM252.6 65.8h1.4v1.4h-1.4zM255.3 115.7h1.4v1.4h-1.4zM280.1 103.5h1.4v1.4h-1.4zM254.5 107.6h1.4v1.4h-1.4zM248.8 75.0h1.4v1.4h-1.4zM239.6 83.6h1.4v1.4h-1.4zM276.2 76.9h1.4v1.4h-1.4zM280.7 73.0h1.4v1.4h-1.4zM290.6 61.5h1.4v1.4h-1.4zM255.7 97.4h1.4v1.4h-1.4zM298.4 80.2h1.4v1.4h-1.4zM298.1 88.2h1.4v1.4h-1.4zM307.8 84.9h1.4v1.4h-1.4zM267.8 63.2h1.4v1.4h-1.4zM255.7 106.5h1.4v1.4h-1.4zM288.2 67.4h1.4v1.4h-1.4zM263.1 66.7h1.4v1.4h-1.4zM252.2 72.0h1.4v1.4h-1.4zM273.3 90.6h1.4v1.4h-1.4zM252.2 99.2h1.4v1.4h-1.4zM244.2 105.4h1.4v1.4h-1.4zM263.5 68.2h1.4v1.4h-1.4zM293.2 66.3h1.4v1.4h-1.4zM281.6 86.5h1.4v1.4h-1.4zM302.6 77.3h1.4v1.4h-1.4zM256.2 113.5h1.4v1.4h-1.4zM254.7 70.6h1.4v1.4h-1.4zM271.6 73.2h1.4v1.4h-1.4zM266.7 109.8h1.4v1.4h-1.4zM267.8 63.1h1.4v1.4h-1.4zM262.8 97.2h1.4v1.4h-1.4zM298.2 85.4h1.4v1.4h-1.4zM282.7 88.0h1.4v1.4h-1.4zM262.5 71.6h1.4v1.4h-1.4zM263.8 113.9h1.4v1.4h-1.4zM283.7 76.9h1.4v1.4h-1.4zM243.9 75.5h1.4v1.4h-1.4zM289.9 86.9h1.4v1.4h-1.4zM246.4 103.1h1.4v1.4h-1.4zM251.1 75.5h1.4v1.4h-1.4zM254.1 116.9h1.4v1.4h-1.4zM266.9 90.8h1.4v1.4h-1.4zM299.6 68.2h1.4v1.4h-1.4zM256.1 80.9h1.4v1.4h-1.4zM244.9 94.3h1.4v1.4h-1.4zM302.0 91.7h1.4v1.4h-1.4zM243.0 99.1h1.4v1.4h-1.4zM264.4 101.6h1.4v1.4h-1.4zM284.7 82.5h1.4v1.4h-1.4zM276.5 102.6h1.4v1.4h-1.4zM305.3 90.7h1.4v1.4h-1.4zM288.6 94.6h1.4v1.4h-1.4zM270.9 107.6h1.4v1.4h-1.4zM261.7 66.5h1.4v1.4h-1.4zM248.1 96.7h1.4v1.4h-1.4zM266.7 107.4h1.4v1.4h-1.4zM285.4 76.1h1.4v1.4h-1.4zM294.5 76.8h1.4v1.4h-1.4zM278.1 85.5h1.4v1.4h-1.4zM258.1 68.1h1.4v1.4h-1.4zM296.8 80.6h1.4v1.4h-1.4zM247.8 91.9h1.4v1.4h-1.4zM292.7 68.7h1.4v1.4h-1.4zM259.6 83.0h1.4v1.4h-1.4zM251.3 78.0h1.4v1.4h-1.4zM261.4 86.7h1.4v1.4h-1.4zM245.4 74.7h1.4v1.4h-1.4zM266.8 83.1h1.4v1.4h-1.4zM252.6 118.2h1.4v1.4h-1.4zM260.9 67.5h1.4v1.4h-1.4zM294.1 88.8h1.4v1.4h-1.4zM279.2 102.2h1.4v1.4h-1.4zM293.7 75.8h1.4v1.4h-1.4zM277.0 76.6h1.4v1.4h-1.4zM284.6 74.7h1.4v1.4h-1.4zM299.3 95.3h1.4v1.4h-1.4zM257.2 73.6h1.4v1.4h-1.4zM242.5 94.1h1.4v1.4h-1.4zM268.3 111.4h1.4v1.4h-1.4zM245.6 77.9h1.4v1.4h-1.4zM295.4 83.7h1.4v1.4h-1.4zM262.9 83.6h1.4v1.4h-1.4zM297.7 80.7h1.4v1.4h-1.4zM251.2 115.7h1.4v1.4h-1.4zM277.2 92.2h1.4v1.4h-1.4zM247.3 80.0h1.4v1.4h-1.4zM242.2 85.0h1.4v1.4h-1.4zM287.4 96.0h1.4v1.4h-1.4zM267.6 95.7h1.4v1.4h-1.4zM257.8 113.9h1.4v1.4h-1.4zM248.6 102.3h1.4v1.4h-1.4zM293.9 90.8h1.4v1.4h-1.4zM247.1 104.5h1.4v1.4h-1.4zM290.1 98.3h1.4v1.4h-1.4zM257.9 61.8h1.4v1.4h-1.4zM257.8 71.6h1.4v1.4h-1.4zM254.1 63.6h1.4v1.4h-1.4zM297.5 81.4h1.4v1.4h-1.4zM289.8 62.1h1.4v1.4h-1.4zM300.2 79.1h1.4v1.4h-1.4zM247.7 75.7h1.4v1.4h-1.4zM241.7 87.2h1.4v1.4h-1.4zM245.6 72.3h1.4v1.4h-1.4zM284.5 80.1h1.4v1.4h-1.4zM262.1 95.4h1.4v1.4h-1.4zM253.6 110.5h1.4v1.4h-1.4zM253.0 113.5h1.4v1.4h-1.4zM298.0 93.3h1.4v1.4h-1.4z" fill="#7FC97F"/>
<path d="M342 111.1 L347 118 L351.3 127.8 L353.2 137.1 L351.3 155.7 L350.4 174.2 L348.5 183.5 L340 186 L333 178 L329 160 L333.7 155.7 L334.6 137.1 L336.5 123.2Z" fill="#fff" opacity="0.25"/>
<path d="M343.7 165.1h1.3v1.3h-1.3zM342.6 140.2h1.3v1.3h-1.3zM340.7 154.7h1.3v1.3h-1.3zM333.2 176.2h1.3v1.3h-1.3zM339.8 119.6h1.3v1.3h-1.3zM339.2 161.9h1.3v1.3h-1.3zM345.8 144.4h1.3v1.3h-1.3zM336.2 124.0h1.3v1.3h-1.3zM337.8 131.1h1.3v1.3h-1.3zM332.4 166.0h1.3v1.3h-1.3zM340.8 143.1h1.3v1.3h-1.3zM332.5 163.5h1.3v1.3h-1.3zM341.9 163.3h1.3v1.3h-1.3zM346.1 164.8h1.3v1.3h-1.3zM346.1 157.9h1.3v1.3h-1.3zM334.2 136.7h1.3v1.3h-1.3zM331.6 158.0h1.3v1.3h-1.3zM336.6 178.6h1.3v1.3h-1.3zM348.3 144.4h1.3v1.3h-1.3zM331.4 169.2h1.3v1.3h-1.3zM339.7 172.6h1.3v1.3h-1.3zM342.0 148.5h1.3v1.3h-1.3zM345.8 182.1h1.3v1.3h-1.3zM346.4 138.9h1.3v1.3h-1.3zM348.5 174.1h1.3v1.3h-1.3zM348.9 169.9h1.3v1.3h-1.3zM350.5 150.5h1.3v1.3h-1.3zM343.6 177.5h1.3v1.3h-1.3zM339.9 158.6h1.3v1.3h-1.3zM350.9 138.8h1.3v1.3h-1.3zM339.2 154.4h1.3v1.3h-1.3zM343.9 163.8h1.3v1.3h-1.3zM339.6 140.2h1.3v1.3h-1.3zM344.8 164.3h1.3v1.3h-1.3zM333.6 159.4h1.3v1.3h-1.3zM345.3 145.7h1.3v1.3h-1.3zM342.9 114.2h1.3v1.3h-1.3zM347.8 172.8h1.3v1.3h-1.3zM343.8 166.5h1.3v1.3h-1.3zM333.1 161.1h1.3v1.3h-1.3zM332.2 171.5h1.3v1.3h-1.3zM341.8 172.6h1.3v1.3h-1.3zM340.4 157.1h1.3v1.3h-1.3zM342.8 170.9h1.3v1.3h-1.3zM341.5 131.8h1.3v1.3h-1.3zM348.9 171.8h1.3v1.3h-1.3zM339.3 118.8h1.3v1.3h-1.3zM344.3 125.3h1.3v1.3h-1.3zM338.5 117.9h1.3v1.3h-1.3zM346.3 174.8h1.3v1.3h-1.3zM336.9 132.7h1.3v1.3h-1.3zM347.2 120.7h1.3v1.3h-1.3zM345.4 155.5h1.3v1.3h-1.3zM340.9 144.4h1.3v1.3h-1.3zM337.9 156.4h1.3v1.3h-1.3zM344.2 179.9h1.3v1.3h-1.3zM346.4 170.7h1.3v1.3h-1.3zM345.1 174.8h1.3v1.3h-1.3zM338.6 177.0h1.3v1.3h-1.3zM338.8 163.7h1.3v1.3h-1.3z" fill="#BEAED4"/>
<path d="M330.6 127.3h1.25v1.25h-1.25zM331.1 128.6h1.25v1.25h-1.25zM329.8 134.8h1.25v1.25h-1.25zM334.3 146.0h1.25v1.25h-1.25zM334.0 151.8h1.25v1.25h-1.25zM333.6 164.1h1.25v1.25h-1.25zM333.1 125.9h1.25v1.25h-1.25zM330.6 133.2h1.25v1.25h-1.25zM329.5 123.6h1.25v1.25h-1.25zM333.8 160.2h1.25v1.25h-1.25zM331.0 152.2h1.25v1.25h-1.25zM333.2 158.5h1.25v1.25h-1.25zM333.3 139.6h1.25v1.25h-1.25zM329.9 155.1h1.25v1.25h-1.25zM330.9 144.6h1.25v1.25h-1.25zM331.2 139.9h1.25v1.25h-1.25zM334.2 119.9h1.25v1.25h-1.25zM332.0 145.8h1.25v1.25h-1.25zM332.1 161.1h1.25v1.25h-1.25zM331.4 159.8h1.25v1.25h-1.25zM332.8 162.6h1.25v1.25h-1.25zM329.8 122.6h1.25v1.25h-1.25zM330.8 159.4h1.25v1.25h-1.25zM329.4 125.2h1.25v1.25h-1.25zM333.0 163.8h1.25v1.25h-1.25zM330.3 134.6h1.25v1.25h-1.25zM332.8 148.0h1.25v1.25h-1.25zM333.1 151.3h1.25v1.25h-1.25zM330.6 125.0h1.25v1.25h-1.25zM329.5 148.0h1.25v1.25h-1.25zM330.4 125.1h1.25v1.25h-1.25zM334.2 145.5h1.25v1.25h-1.25zM332.3 146.1h1.25v1.25h-1.25zM332.4 148.2h1.25v1.25h-1.25zM330.9 114.8h1.25v1.25h-1.25zM329.7 112.1h1.25v1.25h-1.25zM331.2 118.9h1.25v1.25h-1.25zM329.9 137.5h1.25v1.25h-1.25zM334.2 147.8h1.25v1.25h-1.25zM330.7 152.2h1.25v1.25h-1.25z" fill="#7FC97F"/>
<path d="M333.3 114.4h1.25v1.25h-1.25zM333.9 129.8h1.25v1.25h-1.25zM335.8 131.6h1.25v1.25h-1.25zM336.0 114.1h1.25v1.25h-1.25zM337.0 126.5h1.25v1.25h-1.25zM336.5 110.9h1.25v1.25h-1.25zM336.5 120.7h1.25v1.25h-1.25zM336.7 149.5h1.25v1.25h-1.25zM335.7 123.3h1.25v1.25h-1.25zM332.4 118.9h1.25v1.25h-1.25zM336.9 117.3h1.25v1.25h-1.25zM335.7 138.7h1.25v1.25h-1.25zM335.7 118.4h1.25v1.25h-1.25zM333.1 114.2h1.25v1.25h-1.25zM337.3 128.5h1.25v1.25h-1.25zM335.6 137.9h1.25v1.25h-1.25zM333.5 112.6h1.25v1.25h-1.25zM332.4 152.0h1.25v1.25h-1.25zM333.0 157.5h1.25v1.25h-1.25zM334.2 145.5h1.25v1.25h-1.25zM333.1 148.8h1.25v1.25h-1.25zM333.6 127.7h1.25v1.25h-1.25zM335.0 114.9h1.25v1.25h-1.25zM333.6 149.2h1.25v1.25h-1.25zM333.8 128.4h1.25v1.25h-1.25z" fill="#BEAED4"/>
<g fill="#F0027F"><circle cx="132.4" cy="202.1" r="1.2"/><circle cx="139" cy="191.8" r="1.2"/><circle cx="141" cy="188.8" r="1.2"/><circle cx="143.2" cy="184.3" r="1.2"/><circle cx="145" cy="182.5" r="1.2"/><circle cx="147" cy="180.5" r="1.2"/><circle cx="148.5" cy="179" r="1.2"/><circle cx="150" cy="177.5" r="1.2"/><circle cx="151.5" cy="176.3" r="1.2"/><circle cx="153" cy="175" r="1.2"/><circle cx="154.5" cy="174" r="1.2"/><circle cx="155.8" cy="172.6" r="1.2"/><circle cx="149.2" cy="171.2" r="1.2"/><circle cx="160" cy="170.5" r="1.2"/><circle cx="146" cy="181.2" r="1.2"/><circle cx="152.2" cy="175.5" r="1.2"/><circle cx="144.3" cy="183.5" r="1.2"/><circle cx="285.5" cy="99.5" r="1.2"/><circle cx="279.5" cy="104.5" r="1.2"/><circle cx="186" cy="56" r="1.2"/></g>
<g fill="#386CB0"><circle cx="126.1" cy="211.7" r="1.2"/><circle cx="124.9" cy="214.5" r="1.2"/></g>
<text x="271.9" y="148.3" font-size="18.2" text-anchor="middle">1</text>
<text x="309.1" y="291.2" font-size="18.2" text-anchor="middle">2</text>
<text x="203.7" y="65.4" font-size="18.2" text-anchor="middle">3</text>
<text x="113.2" y="235.2" font-size="18.2" text-anchor="middle">4</text>
<text x="147.4" y="185.2" font-size="18.2" text-anchor="middle">5</text>
<line x1="94.6" y1="5" x2="94.6" y2="408" stroke="#000" stroke-width="1.9"/>
<line x1="93.7" y1="407" x2="385.6" y2="407" stroke="#000" stroke-width="1.9"/>
<line x1="142.8" y1="407" x2="142.8" y2="412" stroke="#000" stroke-width="1.2"/>
<text x="142.8" y="426.9" font-size="15.2" text-anchor="middle">-10</text>
<line x1="210.4" y1="407" x2="210.4" y2="412" stroke="#000" stroke-width="1.2"/>
<text x="210.4" y="426.9" font-size="15.2" text-anchor="middle">-5</text>
<line x1="277.9" y1="407" x2="277.9" y2="412" stroke="#000" stroke-width="1.2"/>
<text x="277.9" y="426.9" font-size="15.2" text-anchor="middle">0</text>
<line x1="345" y1="407" x2="345" y2="412" stroke="#000" stroke-width="1.2"/>
<text x="345" y="426.9" font-size="15.2" text-anchor="middle">5</text>
<line x1="89.5" y1="85.8" x2="94.6" y2="85.8" stroke="#000" stroke-width="1.2"/>
<text x="85.5" y="91.4" font-size="15.2" text-anchor="end">5</text>
<line x1="89.5" y1="187.6" x2="94.6" y2="187.6" stroke="#000" stroke-width="1.2"/>
<text x="85.5" y="193.2" font-size="15.2" text-anchor="end">0</text>
<line x1="89.5" y1="289.7" x2="94.6" y2="289.7" stroke="#000" stroke-width="1.2"/>
<text x="85.5" y="295.3" font-size="15.2" text-anchor="end">-5</text>
<line x1="89.5" y1="391.8" x2="94.6" y2="391.8" stroke="#000" stroke-width="1.2"/>
<text x="85.5" y="397.4" font-size="15.2" text-anchor="end">-10</text>
<text x="239.2" y="446.3" font-size="16.4" text-anchor="middle" font-weight="bold">UMAP_1</text>
<text x="51.5" y="206.2" font-size="16.4" text-anchor="middle" font-weight="bold" transform="rotate(-90 51.5 206.2)" dominant-baseline="central">UMAP_2</text>
<circle cx="404.7" cy="178.8" r="3.1" fill="#7FC97F"/>
<text x="418.6" y="184.5" font-size="16">1-10890  cells</text>
<circle cx="404.7" cy="194.15" r="3.1" fill="#BEAED4"/>
<text x="418.6" y="199.85" font-size="16">2-6712  cells</text>
<circle cx="404.7" cy="209.5" r="3.1" fill="#FDC086"/>
<text x="418.6" y="215.2" font-size="16">3-881  cells</text>
<circle cx="404.7" cy="224.85" r="3.1" fill="#386CB0"/>
<text x="418.6" y="230.55" font-size="16">4-297  cells</text>
<circle cx="404.7" cy="240.2" r="3.1" fill="#F0027F"/>
<text x="418.6" y="245.9" font-size="16">5-130  cells</text>
<rect x="713.8" y="378.1" width="129.3" height="5.5" fill="#FDC086"/>
<rect x="713.8" y="54.03" width="129.3" height="324.07" fill="#BEAED4"/>
<rect x="713.8" y="17" width="129.3" height="37.03" fill="#7FC97F"/>
<rect x="857.9" y="380.3" width="129.3" height="3.3" fill="#F0027F"/>
<rect x="857.9" y="371.87" width="129.3" height="8.43" fill="#386CB0"/>
<rect x="857.9" y="349.14" width="129.3" height="22.73" fill="#FDC086"/>
<rect x="857.9" y="311.01" width="129.3" height="38.13" fill="#BEAED4"/>
<rect x="857.9" y="17" width="129.3" height="294.01" fill="#7FC97F"/>
<line x1="689.8" y1="383.6" x2="691.8" y2="383.6" stroke="#111" stroke-width="1.7"/>
<text x="688" y="388.8" font-size="14.5" text-anchor="end">0</text>
<line x1="689.8" y1="291.95" x2="691.8" y2="291.95" stroke="#111" stroke-width="1.7"/>
<text x="688" y="297.15" font-size="14.5" text-anchor="end">25</text>
<line x1="689.8" y1="200.3" x2="691.8" y2="200.3" stroke="#111" stroke-width="1.7"/>
<text x="688" y="205.5" font-size="14.5" text-anchor="end">50</text>
<line x1="689.8" y1="108.65" x2="691.8" y2="108.65" stroke="#111" stroke-width="1.7"/>
<text x="688" y="113.85" font-size="14.5" text-anchor="end">75</text>
<line x1="689.8" y1="17" x2="691.8" y2="17" stroke="#111" stroke-width="1.7"/>
<text x="688" y="22.2" font-size="14.5" text-anchor="end">100</text>
<text x="652.3" y="201" font-size="16.4" text-anchor="middle" font-weight="bold" transform="rotate(-90 652.3 201)" dominant-baseline="central">Propotion [%]</text>
<text x="779.3" y="387.8" font-size="16" text-anchor="end" transform="rotate(-90 779.3 387.8)" dominant-baseline="central">Dissection</text>
<text x="923.3" y="387.8" font-size="16" text-anchor="end" transform="rotate(-90 923.3 387.8)" dominant-baseline="central">Normal</text>
<text x="1024" y="163.7" font-size="18">clusters</text>
<rect x="1024.8" y="175.1" width="13.9" height="13.7" fill="#7FC97F"/>
<text x="1049" y="187.9" font-size="16">1</text>
<rect x="1024.8" y="190.9" width="13.9" height="13.7" fill="#BEAED4"/>
<text x="1049" y="203.7" font-size="16">2</text>
<rect x="1024.8" y="206.6" width="13.9" height="13.7" fill="#FDC086"/>
<text x="1049" y="219.4" font-size="16">3</text>
<rect x="1024.8" y="222.3" width="13.9" height="13.7" fill="#386CB0"/>
<text x="1049" y="235.1" font-size="16">4</text>
<rect x="1024.8" y="238" width="13.9" height="13.7" fill="#F0027F"/>
<text x="1049" y="250.8" font-size="16">5</text>
<path d="M1194 106.8 1195.3 106.1 1199 105.5 1201.6 105.1 1204.5 104.8 1211.2 104.2 1218 103.5 1218.1 103.5 1224.5 102.8 1230.1 102.2 1232.4 101.8 1234.5 101.5 1237.8 100.8 1240 100.2 1240 100.2 1241.5 99.5 1242.4 98.9 1242.5 98.8 1242.7 98.5 1242.8 98.2 1242.4 96.9 1240.9 95.2 1240.5 94.7 1239.4 93.6 1237.8 91.9 1236 90.2 1234.4 88.8 1234.2 88.6 1232.4 86.9 1230.6 85.3 1228.7 83.6 1227.3 82.6 1226.4 82 1223.8 80.3 1220.9 78.7 1217.8 77 1217.2 76.7 1214.7 75.3 1211.4 73.7 1208.1 72 1205.1 70.5 1204.8 70.4 1201 68.7 1197.1 67.1 1194.4 65.4 1194 64.6 1194.4 63.8 1197.3 62.1 1201.7 60.4 1206.3 58.8 1207.1 58.4 1210.1 57.1 1214.2 55.5 1218.2 53.8 1221.3 52.5 1221.9 52.2 1225.5 50.5 1228.9 48.9 1232 47.2 1233.4 46.3 1234.5 45.5 1236.9 43.9 1238.9 42.2 1240.3 40.6 1240.5 40.4 1241.3 38.9 1242 37.3 1242.6 35.6 1243 34.2 1243.1 34 1243.5 32.3 1243.8 30.6 1243.9 30.1 1244 29 1244.1 27.3 1244.1 25.7 1244.2 24 1244.3 22.4 1244.3 20.7 1244.3 19.1 1244.7 19.1 1244.7 20.7 1244.7 22.4 1244.8 24 1244.9 25.7 1244.9 27.3 1245 29 1245.1 30.1 1245.2 30.6 1245.5 32.3 1245.9 34 1246 34.2 1246.4 35.6 1247 37.3 1247.7 38.9 1248.5 40.4 1248.7 40.6 1250.1 42.2 1252.1 43.9 1254.5 45.5 1255.6 46.3 1257 47.2 1260.1 48.9 1263.5 50.5 1267.1 52.2 1267.7 52.5 1270.8 53.8 1274.8 55.5 1278.9 57.1 1281.9 58.4 1282.7 58.8 1287.3 60.4 1291.7 62.1 1294.6 63.8 1295 64.6 1294.6 65.4 1291.9 67.1 1288 68.7 1284.2 70.4 1283.9 70.5 1280.9 72 1277.6 73.7 1274.3 75.3 1271.8 76.7 1271.2 77 1268.1 78.7 1265.2 80.3 1262.6 82 1261.7 82.6 1260.3 83.6 1258.4 85.3 1256.6 86.9 1254.8 88.6 1254.6 88.8 1253 90.2 1251.2 91.9 1249.6 93.6 1248.5 94.7 1248.1 95.2 1246.6 96.9 1246.2 98.2 1246.3 98.5 1246.5 98.8 1246.6 98.9 1247.5 99.5 1249 100.2 1249 100.2 1251.2 100.8 1254.5 101.5 1256.6 101.8 1258.9 102.2 1264.5 102.8 1270.9 103.5 1271 103.5 1277.8 104.2 1284.5 104.8 1287.4 105.1 1290 105.5 1293.7 106.1 1295 106.8Z" fill="#7FC97F" stroke="#303030" stroke-width="1.1" stroke-linejoin="round"/>
<path d="M1320.3 106.8 1321.2 106.2 1323.6 105.7 1327 105.1 1327.3 105.1 1331.7 104.5 1336.3 104 1339.9 103.5 1340.6 103.4 1344.3 102.8 1347.2 102.3 1348.9 101.8 1349.4 101.7 1349.4 101.7 1350.8 101.1 1351.5 100.6 1351.7 100.2 1351.7 100 1351.6 99.4 1351 98.5 1349.2 96.9 1349.1 96.8 1347.3 95.2 1345 93.6 1342.3 91.9 1340 90.6 1339.4 90.3 1335.8 88.6 1331.8 86.9 1327.8 85.3 1326.4 84.7 1324.2 83.6 1320.9 82 1317.6 80.3 1314.1 78.7 1313.8 78.5 1309.5 77 1307.2 75.6 1307.2 75.4 1308.5 73.7 1311 72.1 1313.8 70.5 1314 70.4 1317.9 68.7 1322.8 67.1 1327.7 65.4 1329.9 64.6 1331.7 63.8 1335.2 62.1 1338.4 60.5 1341.4 58.8 1342 58.4 1344.2 57.2 1347 55.5 1349.5 53.9 1351.1 52.5 1351.4 52.2 1353.1 50.5 1354.5 48.9 1355.4 47.4 1355.4 47.2 1356 45.6 1356.5 43.9 1356.9 42.3 1357.2 40.6 1357.4 39 1357.5 37.3 1357.9 37.3 1358 39 1358.2 40.6 1358.5 42.3 1358.9 43.9 1359.4 45.6 1360 47.2 1360 47.4 1360.9 48.9 1362.3 50.5 1364 52.2 1364.3 52.5 1365.9 53.9 1368.4 55.5 1371.2 57.2 1373.4 58.4 1374 58.8 1377 60.5 1380.2 62.1 1383.7 63.8 1385.5 64.6 1387.7 65.4 1392.6 67.1 1397.5 68.7 1401.4 70.4 1401.6 70.5 1404.4 72.1 1406.9 73.7 1408.2 75.4 1408.2 75.6 1405.9 77 1401.6 78.5 1401.3 78.7 1397.8 80.3 1394.5 82 1391.2 83.6 1389 84.7 1387.6 85.3 1383.6 86.9 1379.6 88.6 1376 90.3 1375.4 90.6 1373.1 91.9 1370.4 93.6 1368.1 95.2 1366.3 96.8 1366.2 96.9 1364.4 98.5 1363.8 99.4 1363.7 100 1363.7 100.2 1363.9 100.6 1364.6 101.1 1366 101.7 1366 101.7 1366.5 101.8 1368.2 102.3 1371.1 102.8 1374.8 103.4 1375.5 103.5 1379.1 104 1383.7 104.5 1388.1 105.1 1388.4 105.1 1391.8 105.7 1394.2 106.2 1395.1 106.8Z" fill="#BEAED4" stroke="#303030" stroke-width="1.1" stroke-linejoin="round"/>
<path d="M1424.4 106.8 1426.8 106.3 1429.2 105.9 1431.6 105.4 1432.9 105.1 1434.2 104.9 1435.1 104.8 1436.9 104.4 1440 104 1443.1 103.5 1443.2 103.5 1445.8 103 1447.2 102.7 1447.8 102.5 1449.4 102.1 1450.2 101.8 1450.9 101.6 1452.2 101.1 1453.3 100.6 1454.4 100.1 1455.2 99.6 1456.9 98.5 1458.3 96.8 1458.3 96.8 1457.8 95.1 1456.4 93.5 1454.6 91.8 1453.2 90.6 1452.7 90.1 1449.9 88.5 1446.5 86.8 1443.1 85.2 1442.1 84.7 1439.8 83.5 1436.4 81.8 1433 80.2 1429.9 78.5 1427.2 76.8 1427 76.7 1424.8 75.2 1422.5 73.5 1420.7 71.8 1419.9 70.2 1419.9 70.1 1421.5 68.5 1425.3 66.8 1429.7 65.2 1431 64.6 1433.3 63.5 1437 61.8 1440.7 60.2 1444 58.5 1444.1 58.4 1446.9 56.8 1449.7 55.2 1452.3 53.5 1454.6 51.9 1456.3 50.4 1456.5 50.2 1458.2 48.5 1459.7 46.9 1461.1 45.2 1462.3 43.5 1463.3 42.2 1463.6 41.9 1464.9 40.2 1466.1 38.5 1467.1 36.9 1467.4 36.3 1467.8 35.2 1468.4 33.5 1469 31.9 1469.5 30.2 1469.9 28.5 1470.1 26.9 1470.2 25.2 1470.6 25.2 1470.7 26.9 1470.9 28.5 1471.3 30.2 1471.8 31.9 1472.4 33.5 1473 35.2 1473.4 36.3 1473.7 36.9 1474.7 38.5 1475.9 40.2 1477.2 41.9 1477.5 42.2 1478.5 43.5 1479.7 45.2 1481.1 46.9 1482.6 48.5 1484.3 50.2 1484.5 50.4 1486.2 51.9 1488.5 53.5 1491.1 55.2 1493.9 56.8 1496.7 58.4 1496.8 58.5 1500.1 60.2 1503.8 61.8 1507.5 63.5 1509.8 64.6 1511.1 65.2 1515.5 66.8 1519.3 68.5 1520.9 70.1 1520.9 70.2 1520.1 71.8 1518.3 73.5 1516 75.2 1513.8 76.7 1513.6 76.8 1510.9 78.5 1507.8 80.2 1504.4 81.8 1501 83.5 1498.7 84.7 1497.7 85.2 1494.3 86.8 1490.9 88.5 1488.1 90.1 1487.6 90.6 1486.2 91.8 1484.4 93.5 1483 95.1 1482.5 96.8 1482.5 96.8 1483.9 98.5 1485.6 99.6 1486.4 100.1 1487.5 100.6 1488.6 101.1 1489.9 101.6 1490.6 101.8 1491.4 102.1 1493 102.5 1493.6 102.7 1495 103 1497.6 103.5 1497.7 103.5 1500.8 104 1503.9 104.4 1505.8 104.8 1506.6 104.9 1507.9 105.1 1509.2 105.4 1511.6 105.9 1514 106.3 1516.4 106.8Z" fill="#FDC086" stroke="#303030" stroke-width="1.1" stroke-linejoin="round"/>
<path d="M1574.3 106.8 1575.1 106.3 1575.7 105.9 1576 105.4 1576 105.4 1576.2 104.9 1576.3 104.4 1576.3 104.1 1576.3 104 1576.3 103.9 1576.1 103.5 1575.5 103 1574.9 102.7 1574.5 102.5 1573.3 102.1 1572.1 101.6 1571.6 101.4 1571.3 101.3 1570.9 101.1 1569.5 100.6 1567.3 100 1561.5 98.7 1555.9 97.3 1554.6 97 1551.6 96 1547.7 94.6 1544.4 93.3 1543.5 92.9 1541.7 91.9 1539.4 90.6 1537.6 89.2 1536.9 88.6 1536.4 87.9 1535.3 86.5 1534.4 85.2 1533.7 83.8 1533.4 82.5 1533.4 82.2 1533.8 81.1 1535.2 79.8 1537.2 78.4 1539 77.3 1539.2 77.1 1541.6 75.7 1544.4 74.4 1547.3 73 1550.1 71.7 1550.2 71.7 1553.1 70.3 1556.1 69 1559 67.6 1561.6 66.3 1561.7 66.2 1563.7 64.9 1565.6 63.6 1567.3 62.2 1569.2 60.9 1569.8 60.5 1571.2 59.5 1573.2 58.2 1575.3 56.8 1577.5 55.5 1579.7 54.1 1588.1 54.1 1590.3 55.5 1592.5 56.8 1594.6 58.2 1596.6 59.5 1598 60.5 1598.6 60.9 1600.5 62.2 1602.2 63.6 1604.1 64.9 1606.1 66.2 1606.2 66.3 1608.8 67.6 1611.7 69 1614.7 70.3 1617.6 71.7 1617.7 71.7 1620.5 73 1623.4 74.4 1626.2 75.7 1628.6 77.1 1628.8 77.3 1630.6 78.4 1632.6 79.8 1634 81.1 1634.4 82.2 1634.4 82.5 1634.1 83.8 1633.4 85.2 1632.5 86.5 1631.4 87.9 1630.9 88.6 1630.2 89.2 1628.4 90.6 1626.1 91.9 1624.3 92.9 1623.4 93.3 1620.1 94.6 1616.2 96 1613.2 97 1611.9 97.3 1606.3 98.7 1600.5 100 1598.3 100.6 1596.9 101.1 1596.5 101.3 1596.2 101.4 1595.7 101.6 1594.5 102.1 1593.3 102.5 1592.9 102.7 1592.3 103 1591.7 103.5 1591.5 103.9 1591.5 104 1591.5 104.1 1591.5 104.4 1591.6 104.9 1591.8 105.4 1591.8 105.4 1592.1 105.9 1592.7 106.3 1593.5 106.8Z" fill="#386CB0" stroke="#303030" stroke-width="1.1" stroke-linejoin="round"/>
<path d="M1673.3 106.8 1673.8 106.3 1674.3 105.9 1674.8 105.5 1674.9 105.4 1675.5 104.9 1676.1 104.4 1676.5 104.2 1676.8 104 1676.8 103.9 1677.5 103.5 1678.4 103 1678.8 102.9 1679.4 102.5 1680.2 102.1 1680.7 101.6 1680.8 101.5 1680.8 101.3 1680.8 101.1 1680.2 100.6 1679.2 100.2 1674 98.9 1668 97.6 1665.7 97 1663.7 96.3 1659.9 95 1656.6 93.7 1655.1 92.9 1654.2 92.3 1652 91 1649.9 89.7 1648.2 88.4 1647 87.1 1646.5 85.8 1646.5 85.7 1646.5 84.5 1646.5 83.1 1646.5 81.8 1646.5 81.6 1646.9 80.5 1648.2 79.2 1650.1 77.9 1652.3 76.6 1653.6 75.8 1654.7 75.3 1657.8 73.9 1661.5 72.6 1665.2 71.3 1667.7 70.3 1668.4 70 1671.4 68.7 1674.2 67.4 1676.9 66.1 1679.3 64.8 1679.4 64.7 1681.7 63.4 1683.9 62.1 1685.9 60.8 1686.4 60.5 1687.7 59.5 1689.3 58.2 1690.7 56.9 1692 55.5 1702 55.5 1703.3 56.9 1704.7 58.2 1706.3 59.5 1707.6 60.5 1708.1 60.8 1710.1 62.1 1712.3 63.4 1714.6 64.7 1714.7 64.8 1717.1 66.1 1719.8 67.4 1722.6 68.7 1725.6 70 1726.3 70.3 1728.8 71.3 1732.5 72.6 1736.2 73.9 1739.3 75.3 1740.4 75.8 1741.7 76.6 1743.9 77.9 1745.8 79.2 1747.1 80.5 1747.5 81.6 1747.5 81.8 1747.5 83.1 1747.5 84.5 1747.5 85.7 1747.5 85.8 1747 87.1 1745.8 88.4 1744.1 89.7 1742 91 1739.8 92.3 1738.9 92.9 1737.4 93.7 1734.1 95 1730.3 96.3 1728.3 97 1726 97.6 1720 98.9 1714.8 100.2 1713.8 100.6 1713.2 101.1 1713.2 101.3 1713.2 101.5 1713.3 101.6 1713.8 102.1 1714.6 102.5 1715.2 102.9 1715.6 103 1716.5 103.5 1717.2 103.9 1717.2 104 1717.5 104.2 1717.9 104.4 1718.5 104.9 1719.1 105.4 1719.2 105.5 1719.7 105.9 1720.2 106.3 1720.7 106.8Z" fill="#F0027F" stroke="#303030" stroke-width="1.1" stroke-linejoin="round"/>
<line x1="1177.3" y1="14.5" x2="1177.3" y2="112.15" stroke="#000" stroke-width="1.9"/>
<line x1="1176.35" y1="111.2" x2="1765" y2="111.2" stroke="#000" stroke-width="1.9"/>
<line x1="1174.1" y1="106.8" x2="1177.3" y2="106.8" stroke="#000" stroke-width="1.2"/>
<text x="1170.3" y="109.9" font-size="8.6" text-anchor="end" stroke="#000" stroke-width="0.25">0</text>
<line x1="1174.1" y1="86.3" x2="1177.3" y2="86.3" stroke="#000" stroke-width="1.2"/>
<text x="1170.3" y="89.4" font-size="8.6" text-anchor="end" stroke="#000" stroke-width="0.25">1</text>
<line x1="1174.1" y1="65.8" x2="1177.3" y2="65.8" stroke="#000" stroke-width="1.2"/>
<text x="1170.3" y="68.9" font-size="8.6" text-anchor="end" stroke="#000" stroke-width="0.25">2</text>
<line x1="1174.1" y1="45.3" x2="1177.3" y2="45.3" stroke="#000" stroke-width="1.2"/>
<text x="1170.3" y="48.4" font-size="8.6" text-anchor="end" stroke="#000" stroke-width="0.25">3</text>
<line x1="1174.1" y1="24.8" x2="1177.3" y2="24.8" stroke="#000" stroke-width="1.2"/>
<text x="1170.3" y="27.9" font-size="8.6" text-anchor="end" stroke="#000" stroke-width="0.25">4</text>
<line x1="1244.5" y1="111.2" x2="1244.5" y2="114.4" stroke="#000" stroke-width="1.2"/>
<text x="1245.5" y="122.5" font-size="8.6" text-anchor="middle" transform="rotate(-45 1245.5 122.5)" dominant-baseline="central" stroke="#000" stroke-width="0.25">1</text>
<line x1="1357.7" y1="111.2" x2="1357.7" y2="114.4" stroke="#000" stroke-width="1.2"/>
<text x="1358.7" y="122.5" font-size="8.6" text-anchor="middle" transform="rotate(-45 1358.7 122.5)" dominant-baseline="central" stroke="#000" stroke-width="0.25">2</text>
<line x1="1470.4" y1="111.2" x2="1470.4" y2="114.4" stroke="#000" stroke-width="1.2"/>
<text x="1471.4" y="122.5" font-size="8.6" text-anchor="middle" transform="rotate(-45 1471.4 122.5)" dominant-baseline="central" stroke="#000" stroke-width="0.25">3</text>
<line x1="1583.9" y1="111.2" x2="1583.9" y2="114.4" stroke="#000" stroke-width="1.2"/>
<text x="1584.9" y="122.5" font-size="8.6" text-anchor="middle" transform="rotate(-45 1584.9 122.5)" dominant-baseline="central" stroke="#000" stroke-width="0.25">4</text>
<line x1="1697" y1="111.2" x2="1697" y2="114.4" stroke="#000" stroke-width="1.2"/>
<text x="1698" y="122.5" font-size="8.6" text-anchor="middle" transform="rotate(-45 1698 122.5)" dominant-baseline="central" stroke="#000" stroke-width="0.25">5</text>
<text x="1153.4" y="63.3" font-size="14.2" text-anchor="middle" font-weight="bold" transform="rotate(-90 1153.4 63.3)" dominant-baseline="central">CD68</text>
<path d="M1208.2 267 1209.2 266.6 1211.8 266.1 1215.7 265.7 1219.6 265.4 1220.3 265.3 1225.2 264.9 1229.7 264.4 1233.6 264 1235.9 263.7 1236.7 263.6 1239.1 263.2 1240.7 262.7 1241.7 262.3 1242.1 262.1 1242.3 261.9 1242.4 261.8 1242.7 261.5 1242.6 260.4 1241.3 258.8 1239.8 257.2 1239.4 256.8 1238.5 255.5 1237.3 253.9 1235.9 252.2 1234.4 250.7 1234.3 250.6 1232.2 248.9 1229.8 247.3 1227 245.7 1225.3 244.7 1224.2 244 1220.9 242.4 1217.5 240.7 1214.1 239.1 1213.2 238.6 1211 237.5 1207.6 235.8 1204.4 234.2 1201.6 232.5 1199.4 230.9 1199 230.5 1197.9 229.3 1196.4 227.6 1195.2 226 1194.4 224.3 1194 222.7 1194 222.5 1194.6 221 1196.4 219.4 1198.9 217.8 1201.1 216.4 1201.6 216.1 1205.4 214.5 1210.2 212.8 1215.1 211.2 1217.2 210.4 1219.3 209.6 1223.5 207.9 1227.5 206.3 1230.8 204.6 1231.4 204.3 1233.6 203 1236 201.4 1238.1 199.7 1239.5 198.3 1239.6 198.1 1240.8 196.4 1241.9 194.8 1242.6 193.1 1242.9 192.2 1243 191.5 1243.4 189.9 1243.7 188.2 1243.9 186.6 1244.1 184.9 1244.3 183.3 1244.3 181.7 1244.7 181.7 1244.7 183.3 1244.9 184.9 1245.1 186.6 1245.3 188.2 1245.6 189.9 1246 191.5 1246.1 192.2 1246.4 193.1 1247.1 194.8 1248.2 196.4 1249.4 198.1 1249.5 198.3 1250.9 199.7 1253 201.4 1255.4 203 1257.6 204.3 1258.2 204.6 1261.5 206.3 1265.5 207.9 1269.7 209.6 1271.8 210.4 1273.9 211.2 1278.8 212.8 1283.6 214.5 1287.4 216.1 1287.9 216.4 1290.1 217.8 1292.6 219.4 1294.4 221 1295 222.5 1295 222.7 1294.6 224.3 1293.8 226 1292.6 227.6 1291.1 229.3 1290 230.5 1289.6 230.9 1287.4 232.5 1284.6 234.2 1281.4 235.8 1278 237.5 1275.8 238.6 1274.9 239.1 1271.5 240.7 1268.1 242.4 1264.8 244 1263.7 244.7 1262 245.7 1259.2 247.3 1256.8 248.9 1254.7 250.6 1254.6 250.7 1253.1 252.2 1251.7 253.9 1250.5 255.5 1249.6 256.8 1249.2 257.2 1247.7 258.8 1246.4 260.4 1246.3 261.5 1246.6 261.8 1246.7 261.9 1246.9 262.1 1247.3 262.3 1248.3 262.7 1249.9 263.2 1252.3 263.6 1253.1 263.7 1255.4 264 1259.3 264.4 1263.8 264.9 1268.7 265.3 1269.4 265.4 1273.3 265.7 1277.2 266.1 1279.8 266.6 1280.8 267Z" fill="#7FC97F" stroke="#303030" stroke-width="1.1" stroke-linejoin="round"/>
<path d="M1330.4 267 1331 266.6 1332.6 266.2 1335.1 265.8 1338 265.4 1338.7 265.4 1341 265.1 1343.8 264.7 1346.3 264.3 1348.2 263.9 1349 263.7 1349.6 263.5 1350.6 263.1 1351.2 262.8 1351.3 262.7 1351.6 262.3 1351.7 262.1 1351.7 262 1350.7 260.4 1348.6 258.8 1346.5 257.1 1346.1 256.8 1344.6 255.5 1342.6 253.8 1340.5 252.2 1338.5 250.7 1338.3 250.5 1335.9 248.9 1333.4 247.2 1330.9 245.6 1328.3 243.9 1326.4 242.6 1325.8 242.3 1323.2 240.6 1320.5 239 1317.8 237.3 1315.5 235.7 1314.3 234.6 1313.7 234 1311.9 232.4 1310.2 230.7 1308.8 229.1 1307.7 227.4 1307.2 225.8 1307.2 225.5 1307.7 224.1 1309.3 222.5 1311.8 220.8 1314.5 219.2 1315.8 218.4 1317.5 217.6 1321.3 215.9 1325.7 214.3 1329.9 212.6 1330.4 212.4 1333.8 211 1337.5 209.3 1341.2 207.7 1344.1 206.4 1344.8 206 1348.8 204.4 1352.1 202.7 1352.7 202.3 1354.1 201.1 1355.6 199.4 1356.1 198.3 1356.2 197.8 1356.4 196.1 1356.6 194.5 1356.8 192.8 1357 191.2 1357.1 189.5 1357.3 187.9 1357.3 186.2 1357.4 184.6 1357.5 182.9 1357.5 181.3 1357.5 179.6 1357.9 179.6 1357.9 181.3 1357.9 182.9 1358 184.6 1358.1 186.2 1358.1 187.9 1358.3 189.5 1358.4 191.2 1358.6 192.8 1358.8 194.5 1359 196.1 1359.2 197.8 1359.3 198.3 1359.8 199.4 1361.3 201.1 1362.8 202.3 1363.3 202.7 1366.6 204.4 1370.6 206 1371.3 206.4 1374.2 207.7 1377.9 209.3 1381.6 211 1385 212.4 1385.5 212.6 1389.7 214.3 1394.1 215.9 1397.9 217.6 1399.6 218.4 1400.9 219.2 1403.6 220.8 1406.1 222.5 1407.7 224.1 1408.2 225.5 1408.2 225.8 1407.7 227.4 1406.6 229.1 1405.2 230.7 1403.5 232.4 1401.7 234 1401.1 234.6 1399.9 235.7 1397.6 237.3 1394.9 239 1392.2 240.6 1389.6 242.3 1389 242.6 1387.1 243.9 1384.5 245.6 1382 247.2 1379.5 248.9 1377.1 250.5 1376.9 250.7 1374.9 252.2 1372.8 253.8 1370.8 255.5 1369.3 256.8 1368.9 257.1 1366.8 258.8 1364.7 260.4 1363.7 262 1363.7 262.1 1363.8 262.3 1364.1 262.7 1364.2 262.8 1364.8 263.1 1365.8 263.5 1366.4 263.7 1367.2 263.9 1369.1 264.3 1371.6 264.7 1374.4 265.1 1376.7 265.4 1377.4 265.4 1380.3 265.8 1382.8 266.2 1384.4 266.6 1385 267Z" fill="#BEAED4" stroke="#303030" stroke-width="1.1" stroke-linejoin="round"/>
<path d="M1437.6 267 1439.1 266.6 1440.6 266.2 1442.1 265.8 1443.6 265.4 1444 265.4 1444.1 265.3 1445.1 265.1 1446.7 264.7 1448.2 264.3 1449.7 263.9 1450.3 263.7 1451.2 263.5 1452.6 263.1 1453.7 262.8 1454 262.7 1455.4 262.3 1456.3 262.1 1456.8 262 1461.5 260.5 1461.8 260.3 1463.8 258.8 1464.3 257.8 1464.3 257.2 1463.3 255.6 1461.7 253.9 1460.3 252.7 1459.8 252.3 1457.2 250.7 1453.9 249 1450.5 247.4 1449.2 246.7 1447.5 245.8 1444.6 244.1 1441.7 242.5 1438.8 240.9 1436.1 239.2 1435.1 238.6 1433.4 237.6 1430.6 236 1427.9 234.3 1425.5 232.7 1423.5 231.1 1422.9 230.5 1421.8 229.4 1420.4 227.8 1419.9 226.5 1420 226.2 1422.2 224.5 1426.4 222.9 1431.1 221.3 1433 220.5 1435 219.6 1438.9 218 1442.9 216.3 1446.6 214.7 1447.2 214.4 1449.8 213.1 1453 211.4 1456 209.8 1458.7 208.2 1461.1 206.5 1461.3 206.4 1463.1 204.9 1465 203.3 1466.5 201.6 1467.4 200.3 1467.5 200 1468.2 198.4 1468.8 196.7 1469.3 195.1 1469.6 193.5 1469.6 193.1 1469.8 191.8 1469.9 190.2 1470 188.6 1470.1 186.9 1470.2 185.3 1470.2 183.7 1470.6 183.7 1470.6 185.3 1470.7 186.9 1470.8 188.6 1470.9 190.2 1471 191.8 1471.2 193.1 1471.2 193.5 1471.5 195.1 1472 196.7 1472.6 198.4 1473.3 200 1473.4 200.3 1474.3 201.6 1475.8 203.3 1477.7 204.9 1479.5 206.4 1479.7 206.5 1482.1 208.2 1484.8 209.8 1487.8 211.4 1491 213.1 1493.6 214.4 1494.2 214.7 1497.9 216.3 1501.9 218 1505.8 219.6 1507.8 220.5 1509.7 221.3 1514.4 222.9 1518.6 224.5 1520.8 226.2 1520.9 226.5 1520.4 227.8 1519 229.4 1517.9 230.5 1517.3 231.1 1515.3 232.7 1512.9 234.3 1510.2 236 1507.4 237.6 1505.8 238.6 1504.7 239.2 1502 240.9 1499.1 242.5 1496.2 244.1 1493.3 245.8 1491.6 246.7 1490.3 247.4 1486.9 249 1483.6 250.7 1481 252.3 1480.5 252.7 1479.1 253.9 1477.5 255.6 1476.5 257.2 1476.5 257.8 1477 258.8 1479 260.3 1479.3 260.5 1484 262 1484.5 262.1 1485.4 262.3 1486.8 262.7 1487.1 262.8 1488.2 263.1 1489.6 263.5 1490.5 263.7 1491.1 263.9 1492.6 264.3 1494.1 264.7 1495.7 265.1 1496.7 265.3 1496.8 265.4 1497.2 265.4 1498.7 265.8 1500.2 266.2 1501.7 266.6 1503.2 267Z" fill="#FDC086" stroke="#303030" stroke-width="1.1" stroke-linejoin="round"/>
<path d="M1580.4 267 1580.7 266.6 1580.9 266.2 1581 265.8 1581.1 265.6 1581.1 265.4 1581.1 265.1 1581.1 264.7 1581.1 264.6 1581 264.3 1580.8 264.1 1580.5 263.9 1579.7 263.5 1578.7 263.1 1577.6 262.7 1577.4 262.7 1576.4 262.3 1575.1 262 1573.1 261.3 1572.8 261.1 1569.4 259.8 1565.6 258.4 1562.7 257 1562.7 256.9 1561.4 255.5 1560.2 254.2 1560 254.1 1556.6 252.7 1552.2 251.2 1549.1 250 1548.5 249.8 1545.5 248.4 1542.6 246.9 1540.3 245.5 1539 244.3 1538.7 244 1537.5 242.6 1536.3 241.2 1535.3 239.7 1534.4 238.3 1533.8 236.9 1533.5 235.4 1533.4 234.6 1533.8 234 1537.6 232.6 1543.6 231.1 1549.5 229.7 1551.6 229 1553.5 228.3 1557 226.8 1560.1 225.4 1563 224 1564.2 223.3 1565.6 222.5 1568 221.1 1570.1 219.7 1572.2 218.2 1572.8 217.8 1574.1 216.8 1576 215.4 1577.8 213.9 1579.5 212.5 1581.1 211.1 1586.7 211.1 1588.3 212.5 1590 213.9 1591.8 215.4 1593.7 216.8 1595 217.8 1595.6 218.2 1597.7 219.7 1599.8 221.1 1602.2 222.5 1603.6 223.3 1604.8 224 1607.7 225.4 1610.8 226.8 1614.3 228.3 1616.2 229 1618.3 229.7 1624.2 231.1 1630.2 232.6 1634 234 1634.4 234.6 1634.3 235.4 1634 236.9 1633.4 238.3 1632.5 239.7 1631.5 241.2 1630.3 242.6 1629.1 244 1628.8 244.3 1627.5 245.5 1625.2 246.9 1622.3 248.4 1619.3 249.8 1618.7 250 1615.6 251.2 1611.2 252.7 1607.8 254.1 1607.6 254.2 1606.4 255.5 1605.1 256.9 1605.1 257 1602.2 258.4 1598.4 259.8 1595 261.1 1594.7 261.3 1592.7 262 1591.4 262.3 1590.4 262.7 1590.2 262.7 1589.1 263.1 1588.1 263.5 1587.3 263.9 1587 264.1 1586.8 264.3 1586.7 264.6 1586.7 264.7 1586.7 265.1 1586.7 265.4 1586.7 265.6 1586.8 265.8 1586.9 266.2 1587.1 266.6 1587.4 267Z" fill="#386CB0" stroke="#303030" stroke-width="1.1" stroke-linejoin="round"/>
<path d="M1687.4 267 1688 266.6 1688.4 266.2 1688.8 265.8 1689 265.6 1689.1 265.4 1689.2 265.1 1689.4 264.7 1689.4 264.3 1689.4 264.2 1689.4 264 1689.4 263.9 1689.3 263.5 1688.9 263.1 1688.5 262.8 1688.5 262.7 1687.8 262.3 1687.1 262 1685.8 261.3 1682.7 259.9 1682.4 259.8 1679.5 258.5 1675.7 257.1 1671.8 255.7 1668.3 254.3 1668.2 254.2 1665.3 252.9 1662.5 251.5 1659.8 250 1657.5 248.6 1655.6 247.2 1655.6 247.2 1654.2 245.8 1653 244.4 1651.9 243 1650.9 241.6 1650.1 240.2 1650 240.1 1649.1 238.7 1648.2 237.3 1647.3 235.9 1646.7 234.5 1646.5 233.1 1646.5 233.1 1648 231.7 1651.9 230.3 1656.6 228.9 1660.6 227.5 1660.9 227.4 1664.6 226 1668.5 224.6 1672.2 223.2 1675.3 222 1675.7 221.8 1679.2 220.4 1682.5 219 1685.6 217.5 1687.9 216.3 1688.1 216.1 1690.2 214.7 1692 213.3 1693.5 211.9 1700.5 211.9 1702 213.3 1703.8 214.7 1705.9 216.1 1706.1 216.3 1708.4 217.5 1711.5 219 1714.8 220.4 1718.3 221.8 1718.7 222 1721.8 223.2 1725.5 224.6 1729.4 226 1733.1 227.4 1733.4 227.5 1737.4 228.9 1742.1 230.3 1746 231.7 1747.5 233.1 1747.5 233.1 1747.3 234.5 1746.7 235.9 1745.8 237.3 1744.9 238.7 1744 240.1 1743.9 240.2 1743.1 241.6 1742.1 243 1741 244.4 1739.8 245.8 1738.4 247.2 1738.4 247.2 1736.5 248.6 1734.2 250 1731.5 251.5 1728.7 252.9 1725.8 254.2 1725.7 254.3 1722.2 255.7 1718.3 257.1 1714.5 258.5 1711.6 259.8 1711.3 259.9 1708.2 261.3 1706.9 262 1706.2 262.3 1705.5 262.7 1705.5 262.8 1705.1 263.1 1704.7 263.5 1704.6 263.9 1704.6 264 1704.6 264.2 1704.6 264.3 1704.6 264.7 1704.8 265.1 1704.9 265.4 1705 265.6 1705.2 265.8 1705.6 266.2 1706 266.6 1706.6 267Z" fill="#F0027F" stroke="#303030" stroke-width="1.1" stroke-linejoin="round"/>
<line x1="1177.3" y1="174.8" x2="1177.3" y2="271.95" stroke="#000" stroke-width="1.9"/>
<line x1="1176.35" y1="271" x2="1765" y2="271" stroke="#000" stroke-width="1.9"/>
<line x1="1174.1" y1="267" x2="1177.3" y2="267" stroke="#000" stroke-width="1.2"/>
<text x="1170.3" y="270.1" font-size="8.6" text-anchor="end" stroke="#000" stroke-width="0.25">0</text>
<line x1="1174.1" y1="250.2" x2="1177.3" y2="250.2" stroke="#000" stroke-width="1.2"/>
<text x="1170.3" y="253.3" font-size="8.6" text-anchor="end" stroke="#000" stroke-width="0.25">1</text>
<line x1="1174.1" y1="233.4" x2="1177.3" y2="233.4" stroke="#000" stroke-width="1.2"/>
<text x="1170.3" y="236.5" font-size="8.6" text-anchor="end" stroke="#000" stroke-width="0.25">2</text>
<line x1="1174.1" y1="216.6" x2="1177.3" y2="216.6" stroke="#000" stroke-width="1.2"/>
<text x="1170.3" y="219.7" font-size="8.6" text-anchor="end" stroke="#000" stroke-width="0.25">3</text>
<line x1="1174.1" y1="199.8" x2="1177.3" y2="199.8" stroke="#000" stroke-width="1.2"/>
<text x="1170.3" y="202.9" font-size="8.6" text-anchor="end" stroke="#000" stroke-width="0.25">4</text>
<line x1="1174.1" y1="183" x2="1177.3" y2="183" stroke="#000" stroke-width="1.2"/>
<text x="1170.3" y="186.1" font-size="8.6" text-anchor="end" stroke="#000" stroke-width="0.25">5</text>
<line x1="1244.5" y1="271" x2="1244.5" y2="274.2" stroke="#000" stroke-width="1.2"/>
<text x="1245.5" y="282.3" font-size="8.6" text-anchor="middle" transform="rotate(-45 1245.5 282.3)" dominant-baseline="central" stroke="#000" stroke-width="0.25">1</text>
<line x1="1357.7" y1="271" x2="1357.7" y2="274.2" stroke="#000" stroke-width="1.2"/>
<text x="1358.7" y="282.3" font-size="8.6" text-anchor="middle" transform="rotate(-45 1358.7 282.3)" dominant-baseline="central" stroke="#000" stroke-width="0.25">2</text>
<line x1="1470.4" y1="271" x2="1470.4" y2="274.2" stroke="#000" stroke-width="1.2"/>
<text x="1471.4" y="282.3" font-size="8.6" text-anchor="middle" transform="rotate(-45 1471.4 282.3)" dominant-baseline="central" stroke="#000" stroke-width="0.25">3</text>
<line x1="1583.9" y1="271" x2="1583.9" y2="274.2" stroke="#000" stroke-width="1.2"/>
<text x="1584.9" y="282.3" font-size="8.6" text-anchor="middle" transform="rotate(-45 1584.9 282.3)" dominant-baseline="central" stroke="#000" stroke-width="0.25">4</text>
<line x1="1697" y1="271" x2="1697" y2="274.2" stroke="#000" stroke-width="1.2"/>
<text x="1698" y="282.3" font-size="8.6" text-anchor="middle" transform="rotate(-45 1698 282.3)" dominant-baseline="central" stroke="#000" stroke-width="0.25">5</text>
<text x="1153.4" y="224" font-size="14.2" text-anchor="middle" font-weight="bold" transform="rotate(-90 1153.4 224)" dominant-baseline="central">CD163</text>
<path d="M1194 427.6 1195.1 427.2 1198.4 426.8 1203.2 426.5 1208.9 426.1 1211 425.9 1214.9 425.7 1220.5 425.3 1225.3 424.9 1229.1 424.6 1231.1 424.3 1231.8 424.2 1233.7 423.8 1234.9 423.4 1235.6 423 1235.8 422.8 1235.9 422.7 1235.9 422.6 1234.6 421 1232.1 419.3 1231.4 418.8 1230 417.7 1227.9 416 1226.3 414.6 1226.1 414.4 1224.5 412.7 1223 411.1 1221.8 409.4 1221.3 408.6 1220.9 407.8 1220.2 406.1 1219.7 404.5 1219.3 402.8 1219.2 402.5 1219 401.2 1218.7 399.5 1218.5 397.9 1218.3 396.2 1218.2 394.6 1218.2 394.5 1218.5 392.9 1219.2 391.3 1220.1 389.6 1220.8 388.4 1221 388 1222.1 386.3 1223.4 384.7 1224.8 383 1225.3 382.4 1226.2 381.4 1227.9 379.7 1229.7 378.1 1231.4 376.4 1233 374.8 1233.4 374.3 1234.4 373.1 1235.8 371.5 1237.1 369.8 1238.3 368.2 1239.3 366.5 1239.5 366.3 1240.2 364.9 1241.1 363.2 1241.9 361.6 1242.6 359.9 1243.1 358.3 1243.1 358.2 1243.5 356.6 1243.8 355 1243.9 354.2 1243.9 353.3 1244 351.7 1244.1 350 1244.2 348.4 1244.2 346.7 1244.2 345.1 1244.3 343.4 1244.3 341.8 1244.3 340.1 1244.7 340.1 1244.7 341.8 1244.7 343.4 1244.8 345.1 1244.8 346.7 1244.8 348.4 1244.9 350 1245 351.7 1245.1 353.3 1245.1 354.2 1245.2 355 1245.5 356.6 1245.9 358.2 1245.9 358.3 1246.4 359.9 1247.1 361.6 1247.9 363.2 1248.8 364.9 1249.5 366.3 1249.7 366.5 1250.7 368.2 1251.9 369.8 1253.2 371.5 1254.6 373.1 1255.6 374.3 1256 374.8 1257.6 376.4 1259.3 378.1 1261.1 379.7 1262.8 381.4 1263.7 382.4 1264.2 383 1265.6 384.7 1266.9 386.3 1268 388 1268.2 388.4 1268.9 389.6 1269.8 391.3 1270.5 392.9 1270.8 394.5 1270.8 394.6 1270.7 396.2 1270.5 397.9 1270.3 399.5 1270 401.2 1269.8 402.5 1269.7 402.8 1269.3 404.5 1268.8 406.1 1268.1 407.8 1267.7 408.6 1267.2 409.4 1266 411.1 1264.5 412.7 1262.9 414.4 1262.7 414.6 1261.1 416 1259 417.7 1257.6 418.8 1256.9 419.3 1254.4 421 1253.1 422.6 1253.1 422.7 1253.2 422.8 1253.4 423 1254.1 423.4 1255.3 423.8 1257.2 424.2 1257.9 424.3 1259.9 424.6 1263.7 424.9 1268.5 425.3 1274.1 425.7 1278 425.9 1280.1 426.1 1285.8 426.5 1290.6 426.8 1293.9 427.2 1295 427.6Z" fill="#7FC97F" stroke="#303030" stroke-width="1.1" stroke-linejoin="round"/>
<path d="M1307.2 427.6 1308.4 427.3 1311.7 426.9 1316.8 426.6 1322.8 426.2 1328.1 426 1329 425.9 1334.9 425.6 1340 425.2 1344 424.9 1346.9 424.6 1348.5 424.3 1349 424.2 1350.4 423.9 1351.2 423.5 1351.6 423.2 1351.9 422.8 1352 422.7 1352.1 421 1352.1 419.4 1352.1 418.8 1352.1 417.8 1351.8 416.1 1351.5 414.5 1351.1 412.9 1350.9 411.2 1350.9 410.6 1350.9 409.6 1350.9 407.9 1350.9 406.3 1350.9 404.7 1350.9 403 1350.9 401.4 1350.9 400.5 1350.9 399.7 1351.1 398.1 1351.3 396.5 1351.7 394.8 1352 393.2 1352.4 391.5 1352.7 390.5 1352.8 389.9 1353.1 388.3 1353.4 386.6 1353.8 385 1354.1 383.4 1354.4 382.4 1354.5 381.7 1355 380.1 1355.5 378.4 1355.9 376.8 1356.3 375.2 1356.5 374.3 1356.6 373.5 1357 371.9 1357.2 370.2 1357.3 369 1357.3 368.6 1357.4 367 1357.4 365.3 1357.4 363.7 1357.5 362 1357.5 360.4 1357.5 358.8 1357.5 357.1 1357.5 355.5 1357.5 353.9 1357.9 353.9 1357.9 355.5 1357.9 357.1 1357.9 358.8 1357.9 360.4 1357.9 362 1358 363.7 1358 365.3 1358 367 1358.1 368.6 1358.1 369 1358.2 370.2 1358.4 371.9 1358.8 373.5 1358.9 374.3 1359.1 375.2 1359.5 376.8 1359.9 378.4 1360.4 380.1 1360.9 381.7 1361 382.4 1361.3 383.4 1361.6 385 1362 386.6 1362.3 388.3 1362.6 389.9 1362.8 390.5 1363 391.5 1363.4 393.2 1363.7 394.8 1364.1 396.5 1364.3 398.1 1364.5 399.7 1364.5 400.5 1364.5 401.4 1364.5 403 1364.5 404.7 1364.5 406.3 1364.5 407.9 1364.5 409.6 1364.5 410.6 1364.5 411.2 1364.3 412.9 1363.9 414.5 1363.6 416.1 1363.3 417.8 1363.3 418.8 1363.3 419.4 1363.3 421 1363.4 422.7 1363.5 422.8 1363.8 423.2 1364.2 423.5 1365 423.9 1366.4 424.2 1366.9 424.3 1368.5 424.6 1371.4 424.9 1375.4 425.2 1380.5 425.6 1386.4 425.9 1387.3 426 1392.6 426.2 1398.6 426.6 1403.7 426.9 1407 427.3 1408.2 427.6Z" fill="#BEAED4" stroke="#303030" stroke-width="1.1" stroke-linejoin="round"/>
<path d="M1419.9 427.6 1420.8 427.2 1423.1 426.8 1426.4 426.3 1430 425.9 1430.2 425.9 1434.2 425.5 1438 425.1 1441.2 424.6 1443.6 424.3 1443.8 424.2 1445.8 423.8 1447.1 423.4 1448 423 1448.5 422.6 1448.6 422.5 1448.9 422.1 1449 421.7 1449.1 420.9 1449 419.3 1448.8 417.6 1448.7 416.6 1448.6 415.9 1448.2 414.3 1447.7 412.6 1447.3 410.9 1447.2 410.6 1446.8 409.3 1446.3 407.6 1446.2 406.6 1446.3 405.9 1447.3 404.3 1448.8 402.6 1449.2 402 1449.8 400.9 1450.8 399.2 1451.2 398.5 1451.8 397.6 1452.8 395.9 1453.8 394.2 1454.7 392.6 1455.6 390.9 1455.8 390.5 1456.2 389.2 1456.7 387.6 1457.1 385.9 1457.6 384.2 1458.2 382.6 1458.3 382.4 1459 380.9 1460 379.2 1461.2 377.6 1462.3 375.9 1463.3 374.3 1463.4 374.2 1464.4 372.6 1465.5 370.9 1466.5 369.2 1467.3 367.6 1467.9 366.3 1468 365.9 1468.6 364.2 1469.1 362.6 1469.5 360.9 1469.6 359.9 1469.7 359.2 1470 357.6 1470.1 355.9 1470.2 354.2 1470.6 354.2 1470.7 355.9 1470.8 357.6 1471.1 359.2 1471.2 359.9 1471.3 360.9 1471.7 362.6 1472.2 364.2 1472.8 365.9 1472.9 366.3 1473.5 367.6 1474.3 369.2 1475.3 370.9 1476.4 372.6 1477.4 374.2 1477.5 374.3 1478.5 375.9 1479.6 377.6 1480.8 379.2 1481.8 380.9 1482.5 382.4 1482.6 382.6 1483.2 384.2 1483.7 385.9 1484.1 387.6 1484.6 389.2 1485 390.5 1485.2 390.9 1486.1 392.6 1487 394.2 1488 395.9 1489 397.6 1489.6 398.5 1490 399.2 1491 400.9 1491.6 402 1492 402.6 1493.5 404.3 1494.5 405.9 1494.6 406.6 1494.5 407.6 1494 409.3 1493.6 410.6 1493.5 410.9 1493.1 412.6 1492.6 414.3 1492.2 415.9 1492.1 416.6 1492 417.6 1491.8 419.3 1491.7 420.9 1491.8 421.7 1491.9 422.1 1492.2 422.5 1492.3 422.6 1492.8 423 1493.7 423.4 1495 423.8 1497 424.2 1497.2 424.3 1499.6 424.6 1502.8 425.1 1506.6 425.5 1510.6 425.9 1510.8 425.9 1514.4 426.3 1517.7 426.8 1520 427.2 1520.9 427.6Z" fill="#FDC086" stroke="#303030" stroke-width="1.1" stroke-linejoin="round"/>
<path d="M1542 427.6 1542.9 427.2 1543.7 426.8 1544.4 426.3 1544.9 425.9 1544.9 425.9 1545.4 425.5 1545.7 425.1 1545.9 424.6 1546 424.3 1546 424.2 1546 423.9 1546 423.8 1545.7 423.4 1545.2 423 1544.7 422.6 1544.5 422.5 1543.6 422.1 1541.1 421 1539 419.7 1538.6 419.3 1537 417.7 1535.5 416 1534.4 414.4 1533.6 412.7 1533.4 411.3 1533.4 411.1 1533.7 409.4 1534.3 407.8 1535.2 406.1 1535.4 405.8 1537.3 404.5 1541.3 402.8 1544.5 401.6 1545.7 401.2 1550.9 399.5 1556.5 397.9 1561.1 396.2 1561.7 395.9 1564.1 394.6 1566.5 392.9 1568.6 391.3 1569.8 390.3 1570.5 389.6 1572.3 388 1573.9 386.3 1575.3 384.8 1575.4 384.7 1577.1 383 1578.7 381.4 1580 379.7 1580.4 379.1 1580.9 378 1581.7 376.4 1582.2 374.7 1582.4 373.4 1582.4 373.1 1582.4 371.4 1582.4 369.8 1582.4 368.1 1582.4 366.5 1582.4 364.8 1582.4 363.2 1585.4 363.2 1585.4 364.8 1585.4 366.5 1585.4 368.1 1585.4 369.8 1585.4 371.4 1585.4 373.1 1585.4 373.4 1585.6 374.7 1586.1 376.4 1586.9 378 1587.4 379.1 1587.8 379.7 1589.1 381.4 1590.7 383 1592.4 384.7 1592.5 384.8 1593.9 386.3 1595.5 388 1597.3 389.6 1598 390.3 1599.2 391.3 1601.3 392.9 1603.7 394.6 1606.1 395.9 1606.7 396.2 1611.3 397.9 1616.9 399.5 1622.1 401.2 1623.3 401.6 1626.5 402.8 1630.5 404.5 1632.4 405.8 1632.6 406.1 1633.5 407.8 1634.1 409.4 1634.4 411.1 1634.4 411.3 1634.2 412.7 1633.4 414.4 1632.3 416 1630.8 417.7 1629.2 419.3 1628.8 419.7 1626.7 421 1624.2 422.1 1623.3 422.5 1623.1 422.6 1622.6 423 1622.1 423.4 1621.8 423.8 1621.8 423.9 1621.8 424.2 1621.8 424.3 1621.9 424.6 1622.1 425.1 1622.4 425.5 1622.9 425.9 1622.9 425.9 1623.4 426.3 1624.1 426.8 1624.9 427.2 1625.8 427.6Z" fill="#386CB0" stroke="#303030" stroke-width="1.1" stroke-linejoin="round"/>
<path d="M1652.8 427.6 1653.6 427.2 1654.4 426.8 1655 426.4 1655.1 426.3 1655.7 425.9 1656.2 425.5 1656.6 425.2 1656.7 425.1 1657.1 424.6 1657.3 424.2 1657.5 423.9 1657.5 423.8 1657.6 423.4 1657.6 423.2 1657.6 423 1657.5 422.7 1657.4 422.5 1657.1 422.1 1656.4 421.5 1654.6 420.3 1652.6 419.1 1650.8 417.8 1650 417 1649.8 416.6 1649 415.4 1648.3 414.2 1647.7 413 1647.2 411.7 1646.8 410.5 1646.5 409.3 1646.5 408.6 1646.6 408.1 1647.4 406.9 1648.9 405.6 1650.9 404.4 1653 403.2 1655 402 1655.6 401.6 1656.9 400.8 1658.9 399.5 1661 398.3 1663.2 397.1 1665.2 395.9 1665.3 395.9 1667.4 394.7 1669.6 393.4 1671.8 392.2 1674 391 1675.3 390.3 1676.1 389.8 1678.3 388.6 1680.4 387.3 1682.5 386.1 1683.9 385.3 1684.6 384.9 1686.7 383.7 1688.7 382.5 1690.8 381.2 1692.8 380 1701.2 380 1703.2 381.2 1705.3 382.5 1707.3 383.7 1709.4 384.9 1710.1 385.3 1711.5 386.1 1713.6 387.3 1715.7 388.6 1717.9 389.8 1718.7 390.3 1720 391 1722.2 392.2 1724.4 393.4 1726.6 394.7 1728.7 395.9 1728.8 395.9 1730.8 397.1 1733 398.3 1735.1 399.5 1737.1 400.8 1738.4 401.6 1739 402 1741 403.2 1743.1 404.4 1745.1 405.6 1746.6 406.9 1747.4 408.1 1747.5 408.6 1747.5 409.3 1747.2 410.5 1746.8 411.7 1746.3 413 1745.7 414.2 1745 415.4 1744.2 416.6 1744 417 1743.2 417.8 1741.4 419.1 1739.4 420.3 1737.6 421.5 1736.9 422.1 1736.6 422.5 1736.5 422.7 1736.4 423 1736.4 423.2 1736.4 423.4 1736.5 423.8 1736.5 423.9 1736.7 424.2 1736.9 424.6 1737.3 425.1 1737.4 425.2 1737.8 425.5 1738.3 425.9 1738.9 426.3 1739 426.4 1739.6 426.8 1740.4 427.2 1741.2 427.6Z" fill="#F0027F" stroke="#303030" stroke-width="1.1" stroke-linejoin="round"/>
<line x1="1177.3" y1="334.6" x2="1177.3" y2="432.95" stroke="#000" stroke-width="1.9"/>
<line x1="1176.35" y1="432" x2="1765" y2="432" stroke="#000" stroke-width="1.9"/>
<line x1="1174.1" y1="427.6" x2="1177.3" y2="427.6" stroke="#000" stroke-width="1.2"/>
<text x="1170.3" y="430.7" font-size="8.6" text-anchor="end" stroke="#000" stroke-width="0.25">0</text>
<line x1="1174.1" y1="409.3" x2="1177.3" y2="409.3" stroke="#000" stroke-width="1.2"/>
<text x="1170.3" y="412.4" font-size="8.6" text-anchor="end" stroke="#000" stroke-width="0.25">1</text>
<line x1="1174.1" y1="391" x2="1177.3" y2="391" stroke="#000" stroke-width="1.2"/>
<text x="1170.3" y="394.1" font-size="8.6" text-anchor="end" stroke="#000" stroke-width="0.25">2</text>
<line x1="1174.1" y1="372.7" x2="1177.3" y2="372.7" stroke="#000" stroke-width="1.2"/>
<text x="1170.3" y="375.8" font-size="8.6" text-anchor="end" stroke="#000" stroke-width="0.25">3</text>
<line x1="1174.1" y1="354.4" x2="1177.3" y2="354.4" stroke="#000" stroke-width="1.2"/>
<text x="1170.3" y="357.5" font-size="8.6" text-anchor="end" stroke="#000" stroke-width="0.25">4</text>
<line x1="1174.1" y1="336.1" x2="1177.3" y2="336.1" stroke="#000" stroke-width="1.2"/>
<text x="1170.3" y="339.2" font-size="8.6" text-anchor="end" stroke="#000" stroke-width="0.25">5</text>
<line x1="1244.5" y1="432" x2="1244.5" y2="435.2" stroke="#000" stroke-width="1.2"/>
<text x="1245.5" y="443.3" font-size="8.6" text-anchor="middle" transform="rotate(-45 1245.5 443.3)" dominant-baseline="central" stroke="#000" stroke-width="0.25">1</text>
<line x1="1357.7" y1="432" x2="1357.7" y2="435.2" stroke="#000" stroke-width="1.2"/>
<text x="1358.7" y="443.3" font-size="8.6" text-anchor="middle" transform="rotate(-45 1358.7 443.3)" dominant-baseline="central" stroke="#000" stroke-width="0.25">2</text>
<line x1="1470.4" y1="432" x2="1470.4" y2="435.2" stroke="#000" stroke-width="1.2"/>
<text x="1471.4" y="443.3" font-size="8.6" text-anchor="middle" transform="rotate(-45 1471.4 443.3)" dominant-baseline="central" stroke="#000" stroke-width="0.25">3</text>
<line x1="1583.9" y1="432" x2="1583.9" y2="435.2" stroke="#000" stroke-width="1.2"/>
<text x="1584.9" y="443.3" font-size="8.6" text-anchor="middle" transform="rotate(-45 1584.9 443.3)" dominant-baseline="central" stroke="#000" stroke-width="0.25">4</text>
<line x1="1697" y1="432" x2="1697" y2="435.2" stroke="#000" stroke-width="1.2"/>
<text x="1698" y="443.3" font-size="8.6" text-anchor="middle" transform="rotate(-45 1698 443.3)" dominant-baseline="central" stroke="#000" stroke-width="0.25">5</text>
<text x="1153.4" y="384.4" font-size="14.2" text-anchor="middle" font-weight="bold" transform="rotate(-90 1153.4 384.4)" dominant-baseline="central">MRC1</text>
<path d="M1194 587.9 1195.2 587.5 1198.6 587 1203.7 586.6 1208.9 586.2 1209.7 586.2 1216 585.8 1221.9 585.3 1227 584.9 1230.1 584.6 1231.1 584.5 1234 584 1236.1 583.6 1237.4 583.2 1237.9 582.9 1238.2 582.8 1238.6 582.3 1238.8 581.8 1238.7 581.3 1236.6 579.6 1233.4 578 1231.4 576.7 1230.8 576.3 1228.6 574.6 1226.5 573 1224.8 571.3 1224.3 570.7 1223.6 569.7 1222.6 568 1221.7 566.3 1221 564.7 1220.4 563 1220.3 562.5 1219.9 561.4 1219.5 559.7 1219.1 558.1 1218.9 556.4 1218.7 554.7 1218.7 554.6 1218.9 553.1 1219.3 551.4 1219.8 549.8 1220.5 548.1 1221.3 546.5 1221.3 546.4 1222.3 544.8 1223.7 543.1 1225.3 541.5 1226.9 539.8 1228.3 538.4 1228.6 538.2 1230.2 536.5 1232 534.8 1233.7 533.2 1235.4 531.5 1236.4 530.3 1236.7 529.9 1238 528.2 1239.1 526.5 1240.2 524.9 1241.1 523.2 1241.5 522.3 1241.8 521.6 1242.5 519.9 1243.1 518.3 1243.4 516.6 1243.5 516.2 1243.6 514.9 1243.8 513.3 1243.9 511.6 1244 510 1244.1 508.3 1244.2 506.7 1244.2 505 1244.3 503.3 1244.3 501.7 1244.3 500 1244.7 500 1244.7 501.7 1244.7 503.3 1244.8 505 1244.8 506.7 1244.9 508.3 1245 510 1245.1 511.6 1245.2 513.3 1245.4 514.9 1245.5 516.2 1245.6 516.6 1245.9 518.3 1246.5 519.9 1247.2 521.6 1247.5 522.3 1247.9 523.2 1248.8 524.9 1249.9 526.5 1251 528.2 1252.3 529.9 1252.6 530.3 1253.6 531.5 1255.3 533.2 1257 534.8 1258.8 536.5 1260.4 538.2 1260.7 538.4 1262.1 539.8 1263.7 541.5 1265.3 543.1 1266.7 544.8 1267.7 546.4 1267.7 546.5 1268.5 548.1 1269.2 549.8 1269.7 551.4 1270.1 553.1 1270.3 554.6 1270.3 554.7 1270.1 556.4 1269.9 558.1 1269.5 559.7 1269.1 561.4 1268.7 562.5 1268.6 563 1268 564.7 1267.3 566.3 1266.4 568 1265.4 569.7 1264.7 570.7 1264.2 571.3 1262.5 573 1260.4 574.6 1258.2 576.3 1257.6 576.7 1255.6 578 1252.4 579.6 1250.3 581.3 1250.2 581.8 1250.4 582.3 1250.8 582.8 1251.1 582.9 1251.6 583.2 1252.9 583.6 1255 584 1257.9 584.5 1258.9 584.6 1262 584.9 1267.1 585.3 1273 585.8 1279.3 586.2 1280.1 586.2 1285.3 586.6 1290.4 587 1293.8 587.5 1295 587.9Z" fill="#7FC97F" stroke="#303030" stroke-width="1.1" stroke-linejoin="round"/>
<path d="M1307.2 587.9 1308.2 587.5 1310.9 587 1315.1 586.6 1319.1 586.3 1320 586.2 1325.1 585.8 1329.9 585.3 1334.1 584.9 1336.4 584.6 1337.4 584.5 1339.8 584 1341.5 583.6 1342.6 583.2 1343 583 1343.3 582.8 1343.7 582.3 1343.9 581.8 1343.9 581.3 1343.1 579.7 1341.6 578 1340 576.4 1339 574.7 1339 574.7 1338.5 573.1 1338 571.5 1337.6 569.8 1337.3 568.2 1337.2 566.6 1337.2 566.5 1337.3 564.9 1337.3 563.2 1337.4 561.6 1337.4 559.9 1337.5 558.5 1337.5 558.3 1337.8 556.6 1338.3 555 1338.9 553.4 1339.6 551.7 1340 550.6 1340.2 550.1 1340.9 548.4 1341.7 546.8 1342.6 545.1 1343.5 543.5 1344.1 542.4 1344.4 541.8 1345.4 540.2 1346.4 538.6 1347.4 536.9 1348.5 535.3 1349.1 534.3 1349.6 533.6 1350.8 532 1352 530.3 1353.1 528.7 1354.1 527 1354.5 526.2 1354.8 525.4 1355.5 523.7 1356 522.1 1356.5 520.5 1356.5 520.3 1356.8 518.8 1357.1 517.2 1357.3 515.5 1357.5 513.9 1357.9 513.9 1358.1 515.5 1358.3 517.2 1358.6 518.8 1358.9 520.3 1358.9 520.5 1359.4 522.1 1359.9 523.7 1360.6 525.4 1360.9 526.2 1361.3 527 1362.3 528.7 1363.4 530.3 1364.6 532 1365.8 533.6 1366.3 534.3 1366.9 535.3 1368 536.9 1369 538.6 1370 540.2 1371 541.8 1371.3 542.4 1371.9 543.5 1372.8 545.1 1373.7 546.8 1374.5 548.4 1375.2 550.1 1375.4 550.6 1375.8 551.7 1376.5 553.4 1377.1 555 1377.6 556.6 1377.9 558.3 1377.9 558.5 1378 559.9 1378 561.6 1378.1 563.2 1378.1 564.9 1378.2 566.5 1378.2 566.6 1378.1 568.2 1377.8 569.8 1377.4 571.5 1376.9 573.1 1376.4 574.7 1376.4 574.7 1375.4 576.4 1373.8 578 1372.3 579.7 1371.5 581.3 1371.5 581.8 1371.7 582.3 1372.1 582.8 1372.4 583 1372.8 583.2 1373.9 583.6 1375.6 584 1378 584.5 1379 584.6 1381.3 584.9 1385.5 585.3 1390.3 585.8 1395.4 586.2 1396.3 586.3 1400.3 586.6 1404.5 587 1407.2 587.5 1408.2 587.9Z" fill="#BEAED4" stroke="#303030" stroke-width="1.1" stroke-linejoin="round"/>
<path d="M1429 587.9 1430.7 587.5 1432.4 587.1 1434.1 586.7 1435.8 586.3 1436.2 586.3 1437.5 585.9 1439.2 585.6 1440.1 585.4 1441 585.2 1442.9 584.8 1443.6 584.6 1444.8 584.4 1446.7 584 1448.5 583.6 1450 583.2 1450.8 583 1451.2 582.8 1451.2 582.8 1454.9 581.4 1457.7 579.7 1458.3 578.8 1458.1 578.1 1456.8 576.4 1454.5 574.8 1451.9 573.2 1451.2 572.7 1449.3 571.5 1446 569.9 1442.4 568.3 1438.8 566.6 1435.7 565 1435.1 564.6 1433.2 563.3 1431 561.7 1428.9 560.1 1427 558.4 1425.3 556.8 1425 556.5 1423.5 555.2 1421.7 553.5 1420.3 551.9 1419.9 550.6 1419.9 550.2 1421.2 548.6 1423.8 547 1427.2 545.3 1430.7 543.7 1433 542.4 1433.7 542.1 1436.5 540.4 1439.4 538.8 1442.3 537.1 1445.2 535.5 1447.2 534.3 1448 533.9 1450.8 532.2 1453.6 530.6 1456.4 529 1458.8 527.3 1460.3 526.2 1461 525.7 1463 524 1464.8 522.4 1466.3 520.8 1467.4 519.3 1467.5 519.1 1468.3 517.5 1469 515.9 1469.4 514.2 1471.4 514.2 1471.8 515.9 1472.5 517.5 1473.3 519.1 1473.4 519.3 1474.5 520.8 1476 522.4 1477.8 524 1479.8 525.7 1480.5 526.2 1482 527.3 1484.4 529 1487.2 530.6 1490 532.2 1492.8 533.9 1493.6 534.3 1495.6 535.5 1498.5 537.1 1501.4 538.8 1504.3 540.4 1507.1 542.1 1507.8 542.4 1510.1 543.7 1513.6 545.3 1517 547 1519.6 548.6 1520.9 550.2 1520.9 550.6 1520.5 551.9 1519.1 553.5 1517.3 555.2 1515.9 556.5 1515.5 556.8 1513.8 558.4 1511.9 560.1 1509.8 561.7 1507.6 563.3 1505.8 564.6 1505.1 565 1502 566.6 1498.4 568.3 1494.8 569.9 1491.5 571.5 1489.6 572.7 1488.9 573.2 1486.3 574.8 1484 576.4 1482.7 578.1 1482.5 578.8 1483.1 579.7 1485.9 581.4 1489.6 582.8 1489.6 582.8 1490 583 1490.8 583.2 1492.3 583.6 1494.1 584 1496 584.4 1497.2 584.6 1497.9 584.8 1499.8 585.2 1500.7 585.4 1501.6 585.6 1503.3 585.9 1504.6 586.3 1505 586.3 1506.7 586.7 1508.4 587.1 1510.1 587.5 1511.8 587.9Z" fill="#FDC086" stroke="#303030" stroke-width="1.1" stroke-linejoin="round"/>
<path d="M1543 587.9 1543.8 587.5 1544.4 587.1 1544.9 586.7 1545.2 586.5 1545.4 586.3 1545.7 585.9 1546 585.6 1546.2 585.2 1546.3 585 1546.3 584.8 1546.4 584.4 1546.5 584 1546.5 583.6 1546.5 583.6 1546.5 583.3 1546.5 583.2 1546.3 582.8 1545.3 582.1 1541.8 580.7 1538.2 579.2 1536.9 578.4 1536.1 577.8 1534.6 576.3 1533.5 574.9 1533.4 574.2 1533.8 573.4 1536.1 572 1539.6 570.5 1543.2 569.1 1544.5 568.5 1546.1 567.6 1548.8 566.2 1551.5 564.7 1554.1 563.3 1556.6 561.8 1557.1 561.5 1559.1 560.4 1561.7 559 1564 557.5 1565.6 556.1 1565.7 556 1566.6 554.6 1567.3 553.2 1567.9 551.7 1568.8 550.4 1568.8 550.3 1570.3 548.8 1572.2 547.4 1574.1 545.9 1575.3 544.6 1575.4 544.5 1576.4 543 1577.1 541.6 1577.8 540.1 1578.4 538.7 1578.9 537.7 1579 537.2 1579.6 535.8 1580.2 534.3 1580.7 532.9 1581.1 531.5 1586.7 531.5 1587.1 532.9 1587.6 534.3 1588.2 535.8 1588.8 537.2 1589 537.7 1589.4 538.7 1590 540.1 1590.7 541.6 1591.4 543 1592.4 544.5 1592.5 544.6 1593.7 545.9 1595.6 547.4 1597.5 548.8 1599 550.3 1599.1 550.4 1599.9 551.7 1600.5 553.2 1601.2 554.6 1602.1 556 1602.2 556.1 1603.8 557.5 1606.1 559 1608.7 560.4 1610.7 561.5 1611.2 561.8 1613.7 563.3 1616.3 564.7 1619 566.2 1621.7 567.6 1623.3 568.5 1624.6 569.1 1628.2 570.5 1631.7 572 1634 573.4 1634.4 574.2 1634.3 574.9 1633.2 576.3 1631.7 577.8 1630.9 578.4 1629.6 579.2 1626 580.7 1622.5 582.1 1621.5 582.8 1621.3 583.2 1621.3 583.3 1621.3 583.6 1621.3 583.6 1621.3 584 1621.4 584.4 1621.5 584.8 1621.5 585 1621.6 585.2 1621.8 585.6 1622.1 585.9 1622.4 586.3 1622.6 586.5 1622.9 586.7 1623.4 587.1 1624 587.5 1624.8 587.9Z" fill="#386CB0" stroke="#303030" stroke-width="1.1" stroke-linejoin="round"/>
<path d="M1668.7 587.9 1668.7 587.5 1668.6 587.1 1668.5 586.7 1668.4 586.5 1668.4 586.3 1668.3 585.9 1668.1 585.6 1668 585.2 1667.9 585 1667.8 584.8 1667.6 584.4 1667.5 584 1667.3 583.6 1667.3 583.6 1667.1 583.2 1666.9 582.8 1666.7 582.5 1666.5 582.2 1665.5 580.8 1664.2 579.3 1662.7 577.9 1661.7 576.9 1661.1 576.5 1659.2 575 1657.1 573.6 1655.1 572.2 1654.1 571.3 1653.4 570.7 1651.7 569.3 1650 567.9 1648.5 566.4 1647.3 565 1646.6 563.6 1646.5 562.9 1646.9 562.2 1649.5 560.7 1653.6 559.3 1658 557.9 1659.6 557.3 1662.2 556.4 1667.1 555 1672.1 553.6 1676.3 552.1 1677.3 551.7 1679.4 550.7 1682 549.3 1684.2 547.9 1686.1 546.4 1686.4 546.2 1687.7 545 1689.2 543.6 1690.4 542.1 1691.4 540.7 1691.4 540.6 1692 539.3 1692.6 537.9 1693 536.4 1693.4 535 1693.5 534.8 1693.8 533.6 1694.2 532.1 1699.8 532.1 1700.2 533.6 1700.5 534.8 1700.6 535 1701 536.4 1701.4 537.9 1702 539.3 1702.6 540.6 1702.6 540.7 1703.6 542.1 1704.8 543.6 1706.3 545 1707.6 546.2 1707.9 546.4 1709.8 547.9 1712 549.3 1714.6 550.7 1716.7 551.7 1717.7 552.1 1721.9 553.6 1726.9 555 1731.8 556.4 1734.4 557.3 1736 557.9 1740.4 559.3 1744.5 560.7 1747.1 562.2 1747.5 562.9 1747.4 563.6 1746.7 565 1745.5 566.4 1744 567.9 1742.3 569.3 1740.6 570.7 1739.9 571.3 1738.9 572.2 1736.9 573.6 1734.8 575 1732.9 576.5 1732.3 576.9 1731.3 577.9 1729.8 579.3 1728.5 580.8 1727.5 582.2 1727.3 582.5 1727.1 582.8 1726.9 583.2 1726.7 583.6 1726.7 583.6 1726.5 584 1726.4 584.4 1726.2 584.8 1726.1 585 1726 585.2 1725.9 585.6 1725.7 585.9 1725.6 586.3 1725.6 586.5 1725.5 586.7 1725.4 587.1 1725.3 587.5 1725.3 587.9Z" fill="#F0027F" stroke="#303030" stroke-width="1.1" stroke-linejoin="round"/>
<line x1="1177.3" y1="495.2" x2="1177.3" y2="592.75" stroke="#000" stroke-width="1.9"/>
<line x1="1176.35" y1="591.8" x2="1765" y2="591.8" stroke="#000" stroke-width="1.9"/>
<line x1="1174.1" y1="587.9" x2="1177.3" y2="587.9" stroke="#000" stroke-width="1.2"/>
<text x="1170.3" y="591" font-size="8.6" text-anchor="end" stroke="#000" stroke-width="0.25">0</text>
<line x1="1174.1" y1="571" x2="1177.3" y2="571" stroke="#000" stroke-width="1.2"/>
<text x="1170.3" y="574.1" font-size="8.6" text-anchor="end" stroke="#000" stroke-width="0.25">1</text>
<line x1="1174.1" y1="554.1" x2="1177.3" y2="554.1" stroke="#000" stroke-width="1.2"/>
<text x="1170.3" y="557.2" font-size="8.6" text-anchor="end" stroke="#000" stroke-width="0.25">2</text>
<line x1="1174.1" y1="537.2" x2="1177.3" y2="537.2" stroke="#000" stroke-width="1.2"/>
<text x="1170.3" y="540.3" font-size="8.6" text-anchor="end" stroke="#000" stroke-width="0.25">3</text>
<line x1="1174.1" y1="520.3" x2="1177.3" y2="520.3" stroke="#000" stroke-width="1.2"/>
<text x="1170.3" y="523.4" font-size="8.6" text-anchor="end" stroke="#000" stroke-width="0.25">4</text>
<line x1="1174.1" y1="503.4" x2="1177.3" y2="503.4" stroke="#000" stroke-width="1.2"/>
<text x="1170.3" y="506.5" font-size="8.6" text-anchor="end" stroke="#000" stroke-width="0.25">5</text>
<line x1="1244.5" y1="591.8" x2="1244.5" y2="595" stroke="#000" stroke-width="1.2"/>
<text x="1245.5" y="603.1" font-size="8.6" text-anchor="middle" transform="rotate(-45 1245.5 603.1)" dominant-baseline="central" stroke="#000" stroke-width="0.25">1</text>
<line x1="1357.7" y1="591.8" x2="1357.7" y2="595" stroke="#000" stroke-width="1.2"/>
<text x="1358.7" y="603.1" font-size="8.6" text-anchor="middle" transform="rotate(-45 1358.7 603.1)" dominant-baseline="central" stroke="#000" stroke-width="0.25">2</text>
<line x1="1470.4" y1="591.8" x2="1470.4" y2="595" stroke="#000" stroke-width="1.2"/>
<text x="1471.4" y="603.1" font-size="8.6" text-anchor="middle" transform="rotate(-45 1471.4 603.1)" dominant-baseline="central" stroke="#000" stroke-width="0.25">3</text>
<line x1="1583.9" y1="591.8" x2="1583.9" y2="595" stroke="#000" stroke-width="1.2"/>
<text x="1584.9" y="603.1" font-size="8.6" text-anchor="middle" transform="rotate(-45 1584.9 603.1)" dominant-baseline="central" stroke="#000" stroke-width="0.25">4</text>
<line x1="1697" y1="591.8" x2="1697" y2="595" stroke="#000" stroke-width="1.2"/>
<text x="1698" y="603.1" font-size="8.6" text-anchor="middle" transform="rotate(-45 1698 603.1)" dominant-baseline="central" stroke="#000" stroke-width="0.25">5</text>
<text x="1153.4" y="543.5" font-size="14.2" text-anchor="middle" font-weight="bold" transform="rotate(-90 1153.4 543.5)" dominant-baseline="central">CD14</text>
<path d="M103 616 104.4 615.4 108.1 614.7 111.3 614.4 113.5 614.1 119.9 613.5 126.6 612.9 128.3 612.7 132.9 612.2 138.2 611.6 142.1 611.1 142.5 611 145.7 610.4 147.1 610 147.9 609.7 148.7 609.4 149.2 609.1 150 608.5 150.4 607.9 150.4 607.8 150.6 606.1 150.6 605.3 150.6 604.5 151 602.8 151.5 601.2 152.1 599.5 152.4 598.2 152.4 597.9 152.7 596.2 153 594.6 153.2 592.9 153.4 591.3 153.5 589.6 153.6 588.8 153.6 588 153.7 586.3 153.8 584.7 153.8 583 153.9 581.4 153.9 579.8 153.9 578.1 154 576.5 154 574.8 154.1 573.2 154.1 571.5 154.2 570.2 154.2 569.9 154.2 568.2 154.3 566.6 154.4 564.9 154.5 563.3 154.6 561.6 154.7 560 154.8 558.6 154.8 558.3 154.9 556.7 155.2 555 155.4 553.4 155.7 551.7 156 550.1 156.2 548.5 156.5 546.8 156.6 546.7 156.8 545.2 157.1 543.5 157.5 541.9 157.8 540.2 158.2 538.6 158.5 536.9 158.9 535.3 158.9 535.1 159.3 533.6 159.8 532 160.3 530.3 160.8 528.7 161.1 527 161.3 525.8 161.4 525.4 161.5 523.7 161.7 522.1 161.8 520.4 161.9 518.8 162 517.1 162.1 515.5 162.2 513.9 162.3 512.2 162.3 510.6 162.3 508.9 162.7 508.9 162.7 510.6 162.7 512.2 162.8 513.9 162.9 515.5 163 517.1 163.1 518.8 163.2 520.4 163.3 522.1 163.5 523.7 163.6 525.4 163.7 525.8 163.9 527 164.2 528.7 164.7 530.3 165.2 532 165.7 533.6 166.1 535.1 166.1 535.3 166.5 536.9 166.8 538.6 167.2 540.2 167.5 541.9 167.9 543.5 168.2 545.2 168.4 546.7 168.5 546.8 168.8 548.5 169 550.1 169.3 551.7 169.6 553.4 169.8 555 170.1 556.7 170.2 558.3 170.2 558.6 170.3 560 170.4 561.6 170.5 563.3 170.6 564.9 170.7 566.6 170.8 568.2 170.8 569.9 170.8 570.2 170.9 571.5 170.9 573.2 171 574.8 171 576.5 171.1 578.1 171.1 579.8 171.1 581.4 171.2 583 171.2 584.7 171.3 586.3 171.4 588 171.4 588.8 171.5 589.6 171.6 591.3 171.8 592.9 172 594.6 172.3 596.2 172.6 597.9 172.6 598.2 172.9 599.5 173.5 601.2 174 602.8 174.4 604.5 174.4 605.3 174.4 606.1 174.6 607.8 174.6 607.9 175 608.5 175.8 609.1 176.3 609.4 177.1 609.7 177.9 610 179.3 610.4 182.5 611 182.9 611.1 186.8 611.6 192.1 612.2 196.7 612.7 198.4 612.9 205.1 613.5 211.5 614.1 213.7 614.4 216.9 614.7 220.6 615.4 222 616Z" fill="#7FC97F" stroke="#303030" stroke-width="1.1" stroke-linejoin="round"/>
<path d="M236 616 237.4 615.5 241.3 614.9 247.2 614.4 247.4 614.4 254.2 613.9 261.5 613.3 268.3 612.8 268.8 612.7 274.2 612.2 278.8 611.7 282.3 611.2 282.7 611.1 284.7 610.6 286.3 610.1 286.5 610 287.2 609.6 287.3 609.5 287.7 609 288.1 607.8 288 606.2 287.8 604.6 287.8 603 287.8 602.9 287.9 601.3 288.1 599.7 288.5 598 288.9 596.4 289.3 594.7 289.6 593.5 289.6 593.1 289.9 591.5 290.1 589.8 290.4 588.2 290.6 586.6 290.9 584.9 291.1 583.3 291.3 581.7 291.6 580 291.6 579.5 291.8 578.4 292 576.8 292.3 575.1 292.5 573.5 292.7 571.9 292.9 570.2 293.1 568.6 293.3 567 293.4 565.6 293.4 565.3 293.6 563.7 293.7 562.1 293.8 560.4 293.9 558.8 294 557.2 294.1 555.5 294.2 553.9 294.3 552.2 294.4 550.6 294.5 549 294.6 547.3 294.6 546.7 294.7 545.7 294.7 544.1 294.8 542.4 294.9 540.8 294.9 539.2 295 537.5 295.1 535.9 295.1 534.3 295.2 532.6 295.2 531 295.3 529.4 295.3 527.7 295.7 527.7 295.7 529.4 295.8 531 295.8 532.6 295.9 534.3 295.9 535.9 296 537.5 296.1 539.2 296.1 540.8 296.2 542.4 296.3 544.1 296.3 545.7 296.4 546.7 296.4 547.3 296.5 549 296.6 550.6 296.7 552.2 296.8 553.9 296.9 555.5 297 557.2 297.1 558.8 297.2 560.4 297.3 562.1 297.4 563.7 297.6 565.3 297.6 565.6 297.7 567 297.9 568.6 298.1 570.2 298.3 571.9 298.5 573.5 298.7 575.1 299 576.8 299.2 578.4 299.4 579.5 299.4 580 299.7 581.7 299.9 583.3 300.1 584.9 300.4 586.6 300.6 588.2 300.9 589.8 301.1 591.5 301.4 593.1 301.4 593.5 301.7 594.7 302.1 596.4 302.5 598 302.9 599.7 303.1 601.3 303.2 602.9 303.2 603 303.2 604.6 303 606.2 302.9 607.8 303.3 609 303.7 609.5 303.8 609.6 304.5 610 304.7 610.1 306.3 610.6 308.3 611.1 308.7 611.2 312.2 611.7 316.8 612.2 322.2 612.7 322.7 612.8 329.5 613.3 336.8 613.9 343.6 614.4 343.8 614.4 349.7 614.9 353.6 615.5 355 616Z" fill="#BEAED4" stroke="#303030" stroke-width="1.1" stroke-linejoin="round"/>
<path d="M368.5 616 370 615.1 372.6 614.4 372.8 614.3 376.6 613.4 380.5 612.7 381 612.6 385.6 611.7 389.2 611.1 390 610.9 393.9 610 394.2 610 396.5 609.4 397.3 609.2 400.1 608.3 401.8 607.8 402.4 607.5 404.4 606.6 405.4 606.1 406 605.8 407.3 604.9 408 604.5 409.5 603 409.7 602.8 410.9 601.2 412 599.5 413 597.9 413.9 596.2 414.5 594.6 414.9 593.5 415.1 592.9 415.6 591.3 416 589.6 416.4 588 416.7 586.3 417 584.7 417.2 583 417.3 581.9 417.3 581.4 417.4 579.7 417.5 578.1 417.6 576.4 417.7 574.8 417.7 573.1 417.8 571.5 417.9 570.2 417.9 569.8 418 568.2 418.1 566.5 418.1 564.9 418.2 563.2 418.3 561.6 418.4 559.9 418.5 558.3 418.6 556.6 418.7 555 418.9 553.3 419 551.7 419.1 551.4 419.3 550 419.7 548.4 420.3 546.7 420.9 545.1 421.6 543.4 422.1 542.3 422.3 541.8 423.1 540.1 424 538.5 424.8 536.8 425 536.5 425.6 535.2 426.2 533.5 429.8 533.5 430.4 535.2 431 536.5 431.2 536.8 432 538.5 432.9 540.1 433.7 541.8 433.9 542.3 434.4 543.4 435.1 545.1 435.7 546.7 436.3 548.4 436.7 550 436.9 551.4 437 551.7 437.1 553.3 437.3 555 437.4 556.6 437.5 558.3 437.6 559.9 437.7 561.6 437.8 563.2 437.9 564.9 437.9 566.5 438 568.2 438.1 569.8 438.1 570.2 438.2 571.5 438.3 573.1 438.3 574.8 438.4 576.4 438.5 578.1 438.6 579.7 438.7 581.4 438.7 581.9 438.8 583 439 584.7 439.3 586.3 439.6 588 440 589.6 440.4 591.3 440.9 592.9 441.1 593.5 441.5 594.6 442.1 596.2 443 597.9 444 599.5 445.1 601.2 446.3 602.8 446.5 603 448 604.5 448.7 604.9 450 605.8 450.6 606.1 451.6 606.6 453.6 607.5 454.2 607.8 455.9 608.3 458.7 609.2 459.5 609.4 461.8 610 462.1 610 466 610.9 466.8 611.1 470.4 611.7 475 612.6 475.5 612.7 479.4 613.4 483.2 614.3 483.4 614.4 486 615.1 487.5 616Z" fill="#FDC086" stroke="#303030" stroke-width="1.1" stroke-linejoin="round"/>
<path d="M500.5 616 504.5 615.6 508.2 615.1 511.7 614.7 513.2 614.5 514.9 614.2 517.8 613.8 518.4 613.7 520.5 613.3 523 612.9 523.3 612.9 525.8 612.4 527.9 612 529.3 611.5 529.6 611.4 529.7 611.3 530 611.1 530.5 610.6 530.9 610.2 531.2 609.8 532 608.3 532.9 606.7 533.2 606.3 534.5 605.2 536.7 603.6 538.9 602.1 539.8 601.5 541 600.5 543 599 544.9 597.4 546.6 595.9 547.5 594.9 547.9 594.3 548.9 592.8 549.7 591.2 550.5 589.7 551.1 588.5 551.2 588.2 552 586.6 552.7 585.1 553.4 583.5 554 582 554 581.9 554.5 580.4 555.1 578.9 555.5 577.3 555.9 575.8 556.3 574.2 556.4 573.7 556.6 572.7 556.9 571.1 557.2 569.6 557.5 568 557.7 566.5 557.9 565.6 558 564.9 558.2 563.4 558.4 561.9 558.7 560.3 558.9 558.8 559.1 557.2 559.3 555.7 560.7 555.7 560.9 557.2 561.1 558.8 561.3 560.3 561.6 561.9 561.8 563.4 562 564.9 562.1 565.6 562.3 566.5 562.5 568 562.8 569.6 563.1 571.1 563.4 572.7 563.6 573.7 563.7 574.2 564.1 575.8 564.5 577.3 564.9 578.9 565.5 580.4 566 581.9 566 582 566.6 583.5 567.3 585.1 568 586.6 568.8 588.2 568.9 588.5 569.5 589.7 570.3 591.2 571.1 592.8 572.1 594.3 572.5 594.9 573.4 595.9 575.1 597.4 577 599 579 600.5 580.2 601.5 581.1 602.1 583.3 603.6 585.5 605.2 586.8 606.3 587.1 606.7 588 608.3 588.8 609.8 589.1 610.2 589.5 610.6 590 611.1 590.3 611.3 590.4 611.4 590.7 611.5 592.1 612 594.2 612.4 596.7 612.9 597 612.9 599.5 613.3 601.6 613.7 602.2 613.8 605.1 614.2 606.8 614.5 608.3 614.7 611.8 615.1 615.5 615.6 619.5 616Z" fill="#386CB0" stroke="#303030" stroke-width="1.1" stroke-linejoin="round"/>
<path d="M633 616 634.3 615.6 635.5 615.1 636.8 614.7 637.3 614.5 638 614.2 639.1 613.8 640.3 613.3 641.3 612.9 641.4 612.9 642.5 612.4 643.5 612 644.5 611.5 644.9 611.4 644.9 611.3 645.5 611.1 646.4 610.6 647.3 610.2 648 609.8 650.9 608.3 653.5 606.7 656.1 605.2 656.8 604.7 658.7 603.6 661.2 602.1 663.6 600.5 665.8 599 666.9 598.2 667.8 597.4 669.8 595.9 671.7 594.3 673.2 592.8 674.1 591.6 674.2 591.2 674.9 589.7 675.2 588.5 675.3 588.2 675.6 586.6 675.8 585.1 676.1 583.5 676.4 582 676.4 581.9 677 580.4 677.8 578.9 678.8 577.3 679.9 575.8 680.9 574.2 681.2 573.7 681.8 572.7 682.6 571.1 683.4 569.6 684.2 568 684.9 566.5 685.4 565.6 685.6 564.9 686.3 563.4 687 561.9 687.7 560.3 688.3 558.8 688.9 557.2 689.5 555.7 695.5 555.7 696.1 557.2 696.7 558.8 697.3 560.3 698 561.9 698.7 563.4 699.4 564.9 699.6 565.6 700.1 566.5 700.8 568 701.6 569.6 702.4 571.1 703.2 572.7 703.8 573.7 704.1 574.2 705.1 575.8 706.2 577.3 707.2 578.9 708 580.4 708.6 581.9 708.6 582 708.9 583.5 709.2 585.1 709.4 586.6 709.7 588.2 709.8 588.5 710.1 589.7 710.8 591.2 710.9 591.6 711.8 592.8 713.3 594.3 715.2 595.9 717.2 597.4 718.1 598.2 719.2 599 721.4 600.5 723.8 602.1 726.3 603.6 728.2 604.7 728.9 605.2 731.5 606.7 734.1 608.3 737 609.8 737.7 610.2 738.6 610.6 739.5 611.1 740.1 611.3 740.1 611.4 740.5 611.5 741.5 612 742.5 612.4 743.6 612.9 743.7 612.9 744.7 613.3 745.9 613.8 747 614.2 747.7 614.5 748.2 614.7 749.5 615.1 750.7 615.6 752 616Z" fill="#F0027F" stroke="#303030" stroke-width="1.1" stroke-linejoin="round"/>
<line x1="83.1" y1="502.9" x2="83.1" y2="622.05" stroke="#000" stroke-width="1.9"/>
<line x1="82.15" y1="621.1" x2="772" y2="621.1" stroke="#000" stroke-width="1.9"/>
<line x1="79.9" y1="616" x2="83.1" y2="616" stroke="#000" stroke-width="1.2"/>
<text x="74.8" y="619.46" font-size="9.6" text-anchor="end" stroke="#000" stroke-width="0.25">0</text>
<line x1="79.9" y1="577.2" x2="83.1" y2="577.2" stroke="#000" stroke-width="1.2"/>
<text x="74.8" y="580.66" font-size="9.6" text-anchor="end" stroke="#000" stroke-width="0.25">2</text>
<line x1="79.9" y1="538.4" x2="83.1" y2="538.4" stroke="#000" stroke-width="1.2"/>
<text x="74.8" y="541.86" font-size="9.6" text-anchor="end" stroke="#000" stroke-width="0.25">4</text>
<line x1="162.5" y1="621.1" x2="162.5" y2="624.3" stroke="#000" stroke-width="1.2"/>
<text x="163.5" y="634.1" font-size="9.6" text-anchor="middle" transform="rotate(-45 163.5 634.1)" dominant-baseline="central" stroke="#000" stroke-width="0.25">1</text>
<line x1="295.5" y1="621.1" x2="295.5" y2="624.3" stroke="#000" stroke-width="1.2"/>
<text x="296.5" y="634.1" font-size="9.6" text-anchor="middle" transform="rotate(-45 296.5 634.1)" dominant-baseline="central" stroke="#000" stroke-width="0.25">2</text>
<line x1="428" y1="621.1" x2="428" y2="624.3" stroke="#000" stroke-width="1.2"/>
<text x="429" y="634.1" font-size="9.6" text-anchor="middle" transform="rotate(-45 429 634.1)" dominant-baseline="central" stroke="#000" stroke-width="0.25">3</text>
<line x1="560" y1="621.1" x2="560" y2="624.3" stroke="#000" stroke-width="1.2"/>
<text x="561" y="634.1" font-size="9.6" text-anchor="middle" transform="rotate(-45 561 634.1)" dominant-baseline="central" stroke="#000" stroke-width="0.25">4</text>
<line x1="692.5" y1="621.1" x2="692.5" y2="624.3" stroke="#000" stroke-width="1.2"/>
<text x="693.5" y="634.1" font-size="9.6" text-anchor="middle" transform="rotate(-45 693.5 634.1)" dominant-baseline="central" stroke="#000" stroke-width="0.25">5</text>
<text x="55.4" y="562.5" font-size="16.5" text-anchor="middle" font-weight="bold" transform="rotate(-90 55.4 562.5)" dominant-baseline="central">F13A1</text>
<path d="M103 809.5 104.6 808.6 107.9 807.9 108.6 807.7 114.4 806.9 119.3 806.2 121.3 806 128.5 805.1 132.4 804.6 135.2 804.2 140.9 803.3 143.1 803 145.5 802.5 148.9 801.6 149.7 801.3 151.2 800.7 152.5 800 152.7 799.8 152.9 799.7 153.6 799 154 798.1 154 798.1 154.1 796.4 153.8 794.8 153.6 793.2 153.6 792.8 153.5 791.5 153.4 789.9 153.3 788.3 153.3 786.6 153.2 785 153.2 783.4 153.1 781.7 153.1 780.1 153 778.5 153 776.8 153 775.2 153 773.6 153 771.9 153 771.9 153 770.3 153 768.7 153 767 153.1 765.4 153.1 763.8 153.2 762.1 153.3 760.5 153.4 758.9 153.5 757.2 153.6 755.6 153.6 755.5 153.7 754 153.9 752.3 154.1 750.7 154.4 749.1 154.8 747.4 155.1 745.8 155.4 744.2 155.8 742.5 156 741.4 156.1 740.9 156.4 739.3 156.7 737.6 157 736 157.3 734.4 157.6 732.7 157.7 732.1 158 731.1 158.3 729.5 158.7 727.8 159.1 726.2 159.5 724.6 159.9 722.9 160.2 721.3 160.4 720.5 160.6 719.7 161 718 161.3 716.4 161.6 714.8 161.8 713.3 161.8 713.1 161.9 711.5 162 709.9 162.1 708.2 162.2 706.6 162.3 705 162.3 703.3 162.3 701.7 162.7 701.7 162.7 703.3 162.7 705 162.8 706.6 162.9 708.2 163 709.9 163.1 711.5 163.2 713.1 163.2 713.3 163.4 714.8 163.7 716.4 164 718 164.4 719.7 164.6 720.5 164.8 721.3 165.1 722.9 165.5 724.6 165.9 726.2 166.3 727.8 166.7 729.5 167 731.1 167.3 732.1 167.4 732.7 167.7 734.4 168 736 168.3 737.6 168.6 739.3 168.9 740.9 169 741.4 169.2 742.5 169.6 744.2 169.9 745.8 170.2 747.4 170.6 749.1 170.9 750.7 171.1 752.3 171.3 754 171.4 755.5 171.4 755.6 171.5 757.2 171.6 758.9 171.7 760.5 171.8 762.1 171.9 763.8 171.9 765.4 172 767 172 768.7 172 770.3 172 771.9 172 771.9 172 773.6 172 775.2 172 776.8 172 778.5 171.9 780.1 171.9 781.7 171.8 783.4 171.8 785 171.7 786.6 171.7 788.3 171.6 789.9 171.5 791.5 171.4 792.8 171.4 793.2 171.2 794.8 170.9 796.4 171 798.1 171 798.1 171.4 799 172.1 799.7 172.3 799.8 172.5 800 173.8 800.7 175.3 801.3 176.1 801.6 179.5 802.5 181.9 803 184.1 803.3 189.8 804.2 192.6 804.6 196.5 805.1 203.7 806 205.7 806.2 210.6 806.9 216.4 807.7 217.1 807.9 220.4 808.6 222 809.5Z" fill="#7FC97F" stroke="#303030" stroke-width="1.1" stroke-linejoin="round"/>
<path d="M236 809.5 237.5 808.8 241.7 808.2 244.6 807.9 248 807.5 255.5 806.9 263.2 806.2 263.4 806.2 270.7 805.5 277.1 804.9 279.6 804.6 282.1 804.2 285.8 803.6 288.3 802.9 288.4 802.9 290.1 802.3 291.1 801.6 291.4 801.3 291.7 800.9 292.1 800 292.2 799.6 292.3 798 292.4 796.4 292.5 794.7 292.5 793.1 292.6 791.4 292.7 789.8 292.8 788.2 292.8 786.5 292.9 784.9 292.9 783.6 292.9 783.2 293 781.6 293 779.9 293 778.3 293.1 776.7 293.1 775 293.1 773.4 293.1 771.7 293.1 770.1 293.2 768.4 293.2 766.8 293.2 765.2 293.2 763.5 293.3 761.9 293.3 760.2 293.3 758.6 293.4 756.9 293.4 755.3 293.5 753.7 293.5 752 293.5 750.4 293.6 748.7 293.6 747.1 293.7 745.5 293.8 743.8 293.8 742.2 293.9 740.5 294 738.9 294.1 737.2 294.1 736.9 294.2 735.6 294.3 734 294.5 732.3 294.6 730.7 294.7 729.8 294.7 729 294.8 727.4 294.9 725.7 295 724.1 295 722.5 295.1 720.8 295.2 719.2 295.2 717.5 295.3 715.9 295.3 714.3 295.3 712.6 295.3 711 295.7 711 295.7 712.6 295.7 714.3 295.7 715.9 295.8 717.5 295.8 719.2 295.9 720.8 296 722.5 296 724.1 296.1 725.7 296.2 727.4 296.3 729 296.3 729.8 296.4 730.7 296.5 732.3 296.7 734 296.8 735.6 296.9 736.9 296.9 737.2 297 738.9 297.1 740.5 297.2 742.2 297.2 743.8 297.3 745.5 297.4 747.1 297.4 748.7 297.5 750.4 297.5 752 297.5 753.7 297.6 755.3 297.6 756.9 297.7 758.6 297.7 760.2 297.7 761.9 297.8 763.5 297.8 765.2 297.8 766.8 297.8 768.4 297.9 770.1 297.9 771.7 297.9 773.4 297.9 775 297.9 776.7 298 778.3 298 779.9 298 781.6 298.1 783.2 298.1 783.6 298.1 784.9 298.2 786.5 298.2 788.2 298.3 789.8 298.4 791.4 298.5 793.1 298.5 794.7 298.6 796.4 298.7 798 298.8 799.6 298.9 800 299.3 800.9 299.6 801.3 299.9 801.6 300.9 802.3 302.6 802.9 302.7 802.9 305.2 803.6 308.9 804.2 311.4 804.6 313.9 804.9 320.3 805.5 327.6 806.2 327.8 806.2 335.5 806.9 343 807.5 346.4 807.9 349.3 808.2 353.5 808.8 355 809.5Z" fill="#BEAED4" stroke="#303030" stroke-width="1.1" stroke-linejoin="round"/>
<path d="M368.5 809.5 369.8 808.6 372.8 807.9 373.4 807.7 378.8 806.9 383.6 806.2 385.2 806 391.9 805.1 396 804.6 398.3 804.2 403.7 803.3 406.1 802.9 408.1 802.5 411.5 801.6 412.5 801.3 413.8 800.7 415.2 800 415.4 799.8 415.8 799.6 416.6 799 417.6 798.1 417.8 798 419.3 796.3 420.6 794.7 421.4 793 421.5 792.8 421.7 791.4 422 789.7 422.2 788.1 422.4 786.4 422.6 784.8 422.6 783.6 422.7 783.1 422.8 781.5 422.9 779.8 423 778.2 423.1 776.5 423.2 774.9 423.2 773.2 423.2 771.9 423.2 771.6 423.1 769.9 423 768.3 422.7 766.6 422.5 765 422.3 763.3 422.1 761.7 422.1 760.2 422.1 760 422.1 758.4 422.2 756.7 422.3 755.1 422.4 753.4 422.5 751.8 422.6 750.1 422.6 748.6 422.6 748.5 422.6 746.8 422.6 745.2 422.6 743.5 422.6 741.9 422.6 741.4 422.9 740.2 423.8 738.6 424.9 736.9 425.7 735.3 425.9 734.5 426.1 733.6 426.3 732 426.6 730.3 426.8 728.7 427 727 427.1 725.4 427.3 723.7 427.4 722.1 427.6 720.4 427.6 718.8 427.7 717.1 427.8 715.5 427.8 713.8 427.8 712.2 428.2 712.2 428.2 713.8 428.2 715.5 428.3 717.1 428.4 718.8 428.4 720.4 428.6 722.1 428.7 723.7 428.9 725.4 429 727 429.2 728.7 429.4 730.3 429.7 732 429.9 733.6 430.1 734.5 430.3 735.3 431.1 736.9 432.2 738.6 433.1 740.2 433.4 741.4 433.4 741.9 433.4 743.5 433.4 745.2 433.4 746.8 433.4 748.5 433.4 748.6 433.4 750.1 433.5 751.8 433.6 753.4 433.7 755.1 433.8 756.7 433.9 758.4 433.9 760 433.9 760.2 433.9 761.7 433.7 763.3 433.5 765 433.3 766.6 433 768.3 432.9 769.9 432.8 771.6 432.8 771.9 432.8 773.2 432.8 774.9 432.9 776.5 433 778.2 433.1 779.8 433.2 781.5 433.3 783.1 433.4 783.6 433.4 784.8 433.6 786.4 433.8 788.1 434 789.7 434.3 791.4 434.5 792.8 434.6 793 435.4 794.7 436.7 796.3 438.2 798 438.4 798.1 439.4 799 440.2 799.6 440.6 799.8 440.8 800 442.2 800.7 443.5 801.3 444.5 801.6 447.9 802.5 449.9 802.9 452.3 803.3 457.7 804.2 460 804.6 464.1 805.1 470.8 806 472.4 806.2 477.2 806.9 482.6 807.7 483.2 807.9 486.2 808.6 487.5 809.5Z" fill="#FDC086" stroke="#303030" stroke-width="1.1" stroke-linejoin="round"/>
<path d="M500.5 809.5 503.2 809 505.7 808.4 507.7 808 508.1 807.9 510.5 807.3 511.2 807.1 512.6 806.8 513.9 806.4 514.6 806.2 516.6 805.7 518.5 805.1 519.3 804.9 520.5 804.6 520.7 804.5 522.9 804 525.6 803.5 526.3 803.3 528.4 802.9 531 802.4 533 801.8 533.8 801.4 535.3 800.2 536.8 798.7 537.9 797.1 538.7 795.6 539.2 794.7 539.5 794.1 540.2 792.5 540.7 791 541.2 789.4 541.7 787.9 542.2 786.3 542.7 785 542.8 784.8 543.4 783.3 544 781.7 544.6 780.2 545.2 778.6 546.1 777.1 546.3 776.7 547.3 775.5 549.1 774 550.7 772.4 551.1 771.9 551.6 770.9 552.2 769.4 552.7 767.8 553.2 766.3 553.7 764.7 554 763.6 554.2 763.2 554.8 761.6 555.4 760.1 556 758.5 556.5 757 557 755.5 557 755.5 557.5 753.9 557.8 752.4 558.2 750.8 558.5 749.3 561.5 749.3 561.8 750.8 562.2 752.4 562.5 753.9 563 755.5 563 755.5 563.5 757 564 758.5 564.6 760.1 565.2 761.6 565.8 763.2 566 763.6 566.3 764.7 566.8 766.3 567.3 767.8 567.8 769.4 568.4 770.9 568.9 771.9 569.3 772.4 570.9 774 572.7 775.5 573.7 776.7 573.9 777.1 574.8 778.6 575.4 780.2 576 781.7 576.6 783.3 577.2 784.8 577.3 785 577.8 786.3 578.3 787.9 578.8 789.4 579.3 791 579.8 792.5 580.5 794.1 580.8 794.7 581.3 795.6 582.1 797.1 583.2 798.7 584.7 800.2 586.2 801.4 587 801.8 589 802.4 591.6 802.9 593.7 803.3 594.4 803.5 597.1 804 599.3 804.5 599.5 804.6 600.7 804.9 601.5 805.1 603.4 805.7 605.4 806.2 606.1 806.4 607.4 806.8 608.8 807.1 609.5 807.3 611.9 807.9 612.3 808 614.3 808.4 616.8 809 619.5 809.5Z" fill="#386CB0" stroke="#303030" stroke-width="1.1" stroke-linejoin="round"/>
<path d="M633 809.5 634.9 809 636.7 808.4 637.7 808.1 638.5 807.9 640.3 807.3 642 806.8 642.1 806.7 643.6 806.2 643.7 806.2 645.2 805.7 646.2 805.3 646.9 805.1 648.5 804.6 650 804 650.2 803.9 651.4 803.5 652.5 802.9 652.6 802.8 653.1 802.5 653.4 802.4 655.2 801.2 656.9 799.8 658.3 798.4 658.6 798.1 659.6 797 660.8 795.6 661.9 794.2 662.9 792.8 663.9 791.4 663.9 791.4 665.1 790 666.2 788.6 667.4 787.2 668.3 785.8 668.7 785 668.9 784.5 669.4 783.1 669.8 781.7 670.1 780.3 670.4 778.9 670.8 777.5 671.1 776.7 671.3 776.1 671.8 774.7 672.3 773.3 673 771.9 673.6 770.5 674.3 769.1 674.6 768.6 675.1 767.8 676.1 766.4 677.1 765 678.2 763.6 679.4 762.2 679.4 762.1 680.5 760.8 681.7 759.4 682.9 758 684.1 756.6 685.4 755.2 699.6 755.2 700.9 756.6 702.1 758 703.3 759.4 704.5 760.8 705.6 762.1 705.6 762.2 706.8 763.6 707.9 765 708.9 766.4 709.9 767.8 710.4 768.6 710.7 769.1 711.4 770.5 712 771.9 712.7 773.3 713.2 774.7 713.7 776.1 713.9 776.7 714.2 777.5 714.6 778.9 714.9 780.3 715.2 781.7 715.6 783.1 716.1 784.5 716.3 785 716.7 785.8 717.6 787.2 718.8 788.6 719.9 790 721.1 791.4 721.1 791.4 722.1 792.8 723.1 794.2 724.2 795.6 725.4 797 726.4 798.1 726.7 798.4 728.1 799.8 729.8 801.2 731.6 802.4 731.9 802.5 732.4 802.8 732.5 802.9 733.6 803.5 734.8 803.9 735 804 736.5 804.6 738.1 805.1 738.8 805.3 739.8 805.7 741.3 806.2 741.4 806.2 742.9 806.7 743 806.8 744.7 807.3 746.5 807.9 747.3 808.1 748.3 808.4 750.1 809 752 809.5Z" fill="#F0027F" stroke="#303030" stroke-width="1.1" stroke-linejoin="round"/>
<line x1="83.1" y1="695.5" x2="83.1" y2="815.55" stroke="#000" stroke-width="1.9"/>
<line x1="82.15" y1="814.6" x2="772" y2="814.6" stroke="#000" stroke-width="1.9"/>
<line x1="79.9" y1="809.5" x2="83.1" y2="809.5" stroke="#000" stroke-width="1.2"/>
<text x="74.8" y="812.96" font-size="9.6" text-anchor="end" stroke="#000" stroke-width="0.25">0</text>
<line x1="79.9" y1="785.7" x2="83.1" y2="785.7" stroke="#000" stroke-width="1.2"/>
<text x="74.8" y="789.16" font-size="9.6" text-anchor="end" stroke="#000" stroke-width="0.25">1</text>
<line x1="79.9" y1="761.9" x2="83.1" y2="761.9" stroke="#000" stroke-width="1.2"/>
<text x="74.8" y="765.36" font-size="9.6" text-anchor="end" stroke="#000" stroke-width="0.25">2</text>
<line x1="79.9" y1="738.1" x2="83.1" y2="738.1" stroke="#000" stroke-width="1.2"/>
<text x="74.8" y="741.56" font-size="9.6" text-anchor="end" stroke="#000" stroke-width="0.25">3</text>
<line x1="79.9" y1="714.3" x2="83.1" y2="714.3" stroke="#000" stroke-width="1.2"/>
<text x="74.8" y="717.76" font-size="9.6" text-anchor="end" stroke="#000" stroke-width="0.25">4</text>
<line x1="162.5" y1="814.6" x2="162.5" y2="817.8" stroke="#000" stroke-width="1.2"/>
<text x="163.5" y="827.6" font-size="9.6" text-anchor="middle" transform="rotate(-45 163.5 827.6)" dominant-baseline="central" stroke="#000" stroke-width="0.25">1</text>
<line x1="295.5" y1="814.6" x2="295.5" y2="817.8" stroke="#000" stroke-width="1.2"/>
<text x="296.5" y="827.6" font-size="9.6" text-anchor="middle" transform="rotate(-45 296.5 827.6)" dominant-baseline="central" stroke="#000" stroke-width="0.25">2</text>
<line x1="428" y1="814.6" x2="428" y2="817.8" stroke="#000" stroke-width="1.2"/>
<text x="429" y="827.6" font-size="9.6" text-anchor="middle" transform="rotate(-45 429 827.6)" dominant-baseline="central" stroke="#000" stroke-width="0.25">3</text>
<line x1="560" y1="814.6" x2="560" y2="817.8" stroke="#000" stroke-width="1.2"/>
<text x="561" y="827.6" font-size="9.6" text-anchor="middle" transform="rotate(-45 561 827.6)" dominant-baseline="central" stroke="#000" stroke-width="0.25">4</text>
<line x1="692.5" y1="814.6" x2="692.5" y2="817.8" stroke="#000" stroke-width="1.2"/>
<text x="693.5" y="827.6" font-size="9.6" text-anchor="middle" transform="rotate(-45 693.5 827.6)" dominant-baseline="central" stroke="#000" stroke-width="0.25">5</text>
<text x="55.4" y="753" font-size="16.5" text-anchor="middle" font-weight="bold" transform="rotate(-90 55.4 753)" dominant-baseline="central">LYVE1</text>
<path d="M103 1002.8 104.5 1002.3 108.8 1001.8 115.3 1001.4 118.2 1001.2 123 1000.9 131 1000.4 138.5 999.9 143.7 999.5 145 999.4 150.1 999 153.9 998.5 156.5 998 156.9 997.9 158.2 997.5 159.2 997 159.8 996.6 159.8 996.6 160 996.3 159.7 994.7 158.8 993 157.7 991.4 157.1 990 157.1 989.8 156.6 988.1 156.2 986.5 155.8 984.9 155.6 983.3 155.4 981.6 155.4 980.5 155.4 980 155.5 978.4 155.7 976.7 156 975.1 156.3 973.7 156.3 973.5 156.6 971.8 156.8 970.2 157.2 968.6 157.5 967 157.8 965.3 158 964.2 158.1 963.7 158.5 962.1 158.8 960.4 159.2 958.8 159.5 957.2 159.8 955.6 159.9 955 160.1 953.9 160.4 952.3 160.7 950.7 160.9 949 161.1 947.4 161.3 945.8 161.3 945.5 161.4 944.2 161.5 942.5 161.6 940.9 161.7 939.3 161.8 937.6 161.9 936 162 934.4 162 932.8 162.1 931.1 162.1 929.5 162.1 928.5 162.2 927.9 162.2 926.2 162.2 924.6 162.2 923 162.2 921.3 162.2 919.7 162.2 918.1 162.2 916.5 162.3 914.8 162.3 913.2 162.3 911.6 162.3 909.9 162.3 908.3 162.3 906.7 162.3 905.1 162.3 903.4 162.3 901.8 162.3 900.2 162.3 898.5 162.3 896.9 162.3 895.3 162.7 895.3 162.7 896.9 162.7 898.5 162.7 900.2 162.7 901.8 162.7 903.4 162.7 905.1 162.7 906.7 162.7 908.3 162.7 909.9 162.7 911.6 162.7 913.2 162.7 914.8 162.8 916.5 162.8 918.1 162.8 919.7 162.8 921.3 162.8 923 162.8 924.6 162.8 926.2 162.8 927.9 162.9 928.5 162.9 929.5 162.9 931.1 163 932.8 163 934.4 163.1 936 163.2 937.6 163.3 939.3 163.4 940.9 163.5 942.5 163.6 944.2 163.7 945.5 163.7 945.8 163.9 947.4 164.1 949 164.3 950.7 164.6 952.3 164.9 953.9 165.1 955 165.2 955.6 165.5 957.2 165.8 958.8 166.2 960.4 166.5 962.1 166.9 963.7 167 964.2 167.2 965.3 167.5 967 167.8 968.6 168.2 970.2 168.4 971.8 168.7 973.5 168.7 973.7 169 975.1 169.3 976.7 169.5 978.4 169.6 980 169.6 980.5 169.6 981.6 169.4 983.3 169.2 984.9 168.8 986.5 168.4 988.1 167.9 989.8 167.9 990 167.3 991.4 166.2 993 165.3 994.7 165 996.3 165.2 996.6 165.2 996.6 165.8 997 166.8 997.5 168.1 997.9 168.5 998 171.1 998.5 174.9 999 180 999.4 181.3 999.5 186.5 999.9 194 1000.4 202 1000.9 206.8 1001.2 209.7 1001.4 216.2 1001.8 220.5 1002.3 222 1002.8Z" fill="#7FC97F" stroke="#303030" stroke-width="1.1" stroke-linejoin="round"/>
<path d="M236 1002.8H355M295.5 1002.8V916.37" stroke="#262626" stroke-width="1.0" fill="none"/>
<path d="M368.5 1002.8 369.5 1002.1 372.5 1001.4 374.1 1001.2 377 1000.7 382.3 1000.1 386.6 999.5 387.9 999.4 393.1 998.7 397.6 998 398.2 997.9 401.1 997.3 403.8 996.6 404.8 996.3 405.6 995.9 406.1 995.7 406.8 995.3 407.5 994.6 407.6 994.6 408 993.9 408.4 993 408.9 991.3 409.2 989.7 409.5 988.1 409.6 987.7 409.7 986.4 409.8 984.8 409.9 983.2 410 981.5 410.1 980.5 410.3 979.9 411.5 978.3 413.2 976.6 415 975 416.1 973.7 416.3 973.4 417.4 971.7 418.4 970.1 419.3 968.4 420.1 966.8 420.3 966.6 421 965.2 421.8 963.5 422.7 961.9 423.4 960.3 424 958.6 424.4 957.1 424.4 957 424.8 955.4 425.1 953.7 425.3 952.1 425.5 950.4 425.7 948.8 425.9 947.2 426 945.5 426 945.5 426.2 943.9 426.3 942.3 426.4 940.6 426.5 939 426.6 937.4 426.7 935.7 426.8 934.1 426.8 933.9 426.9 932.5 427 930.8 427 929.2 427.1 927.5 427.2 925.9 427.3 924.3 427.3 922.6 427.4 921 427.5 919.4 427.5 917.7 427.6 916.1 427.6 914.5 427.7 912.8 427.7 911.2 427.8 909.5 427.8 907.9 427.8 906.3 428.2 906.3 428.2 907.9 428.2 909.5 428.3 911.2 428.3 912.8 428.4 914.5 428.4 916.1 428.5 917.7 428.5 919.4 428.6 921 428.7 922.6 428.7 924.3 428.8 925.9 428.9 927.5 429 929.2 429 930.8 429.1 932.5 429.2 933.9 429.2 934.1 429.3 935.7 429.4 937.4 429.5 939 429.6 940.6 429.7 942.3 429.8 943.9 430 945.5 430 945.5 430.1 947.2 430.3 948.8 430.5 950.4 430.7 952.1 430.9 953.7 431.2 955.4 431.6 957 431.6 957.1 432 958.6 432.6 960.3 433.3 961.9 434.2 963.5 435 965.2 435.7 966.6 435.9 966.8 436.7 968.4 437.6 970.1 438.6 971.7 439.7 973.4 439.9 973.7 441 975 442.8 976.6 444.5 978.3 445.7 979.9 445.9 980.5 446 981.5 446.1 983.2 446.2 984.8 446.3 986.4 446.4 987.7 446.5 988.1 446.8 989.7 447.1 991.3 447.6 993 448 993.9 448.4 994.6 448.5 994.6 449.2 995.3 449.9 995.7 450.4 995.9 451.2 996.3 452.2 996.6 454.9 997.3 457.8 997.9 458.4 998 462.9 998.7 468.1 999.4 469.4 999.5 473.7 1000.1 479 1000.7 481.9 1001.2 483.5 1001.4 486.5 1002.1 487.5 1002.8Z" fill="#FDC086" stroke="#303030" stroke-width="1.1" stroke-linejoin="round"/>
<path d="M500.5 1002.8 501.3 1002.3 503.7 1001.7 507.2 1001.2 507.3 1001.1 511.4 1000.6 515.7 1000.1 519.7 999.5 520 999.5 523.1 999 525.7 998.4 527.5 997.9 527.7 997.8 528.7 997.3 528.9 997.2 529.2 996.8 529.2 996.2 529.2 996.1 528.9 995.7 527.8 994.5 527.8 994.5 526.4 992.8 525.1 991.1 524.4 989.5 524.3 988.8 524.6 987.8 526.1 986.2 528.1 984.5 529.7 983.2 530.1 982.8 531.9 981.2 534 979.5 535.6 978.1 536 977.8 538.1 976.2 540.4 974.5 542.5 972.8 543.9 971.6 544.4 971.2 546.2 969.5 547.8 967.8 549.4 966.2 550.5 965.1 551 964.5 552.6 962.9 554.2 961.2 555.8 959.5 556.7 958.5 557.5 957.9 559.1 956.2 559.1 956.2 559.3 954.5 559.5 952.9 559.6 951.2 559.6 949.5 559.6 949.3 559.7 947.9 559.7 946.2 559.7 944.5 559.7 942.9 559.8 941.2 559.8 939.5 559.8 937.9 559.8 936.2 559.8 934.6 559.8 932.9 559.8 931.2 560.2 931.2 560.2 932.9 560.2 934.6 560.2 936.2 560.2 937.9 560.2 939.5 560.2 941.2 560.3 942.9 560.3 944.5 560.3 946.2 560.3 947.9 560.4 949.3 560.4 949.5 560.4 951.2 560.5 952.9 560.7 954.5 560.9 956.2 560.9 956.2 562.5 957.9 563.3 958.5 564.2 959.5 565.8 961.2 567.4 962.9 569 964.5 569.5 965.1 570.6 966.2 572.2 967.8 573.8 969.5 575.6 971.2 576.1 971.6 577.5 972.8 579.6 974.5 581.9 976.2 584 977.8 584.4 978.1 586 979.5 588.1 981.2 589.9 982.8 590.3 983.2 591.9 984.5 593.9 986.2 595.4 987.8 595.7 988.8 595.6 989.5 594.9 991.1 593.6 992.8 592.2 994.5 592.2 994.5 591.1 995.7 590.8 996.1 590.8 996.2 590.8 996.8 591.1 997.2 591.3 997.3 592.3 997.8 592.5 997.9 594.3 998.4 596.9 999 600 999.5 600.3 999.5 604.3 1000.1 608.6 1000.6 612.7 1001.1 612.8 1001.2 616.3 1001.7 618.7 1002.3 619.5 1002.8Z" fill="#386CB0" stroke="#303030" stroke-width="1.1" stroke-linejoin="round"/>
<path d="M633 1002.8 634.1 1002.1 635.2 1001.4 635.4 1001.4 636.5 1000.7 637.2 1000.4 638 1000.1 638.4 999.9 640.1 999.4 642.4 998.7 643.2 998.5 644.7 998 646.6 997.3 647.2 997 647.7 996.6 647.9 996.3 647.8 995.9 647.4 995.6 646.9 995.3 645.5 994.6 644.2 994.1 643.6 993.9 640.1 992.7 637.2 991.2 637.2 991.2 635.8 989.8 634.5 988.3 633.6 986.9 633.1 985.4 633 984.7 633.2 984 634.4 982.5 636.6 981.1 639.2 979.6 641.8 978.2 641.9 978.1 644.7 976.8 648.1 975.3 651.9 973.9 655.8 972.4 658 971.6 660 971 665.2 969.5 669.9 968.1 672.3 966.9 672.5 966.6 673.5 965.2 674.2 963.7 674.8 962.3 675.5 960.8 675.8 960.3 676.5 959.4 677.6 957.9 678.8 956.5 680.1 955.1 681.2 953.8 681.4 953.6 682.7 952.2 684.2 950.7 685.7 949.3 687.3 947.8 688.9 946.4 696.1 946.4 697.7 947.8 699.3 949.3 700.8 950.7 702.3 952.2 703.6 953.6 703.8 953.8 704.9 955.1 706.2 956.5 707.4 957.9 708.5 959.4 709.2 960.3 709.5 960.8 710.2 962.3 710.8 963.7 711.5 965.2 712.5 966.6 712.7 966.9 715.1 968.1 719.8 969.5 725 971 727 971.6 729.2 972.4 733.1 973.9 736.9 975.3 740.3 976.8 743.1 978.1 743.2 978.2 745.8 979.6 748.4 981.1 750.6 982.5 751.8 984 752 984.7 751.9 985.4 751.4 986.9 750.5 988.3 749.2 989.8 747.8 991.2 747.8 991.2 744.9 992.7 741.4 993.9 740.8 994.1 739.5 994.6 738.1 995.3 737.6 995.6 737.2 995.9 737.1 996.3 737.3 996.6 737.8 997 738.4 997.3 740.3 998 741.8 998.5 742.6 998.7 744.9 999.4 746.6 999.9 747 1000.1 747.8 1000.4 748.5 1000.7 749.6 1001.4 749.8 1001.4 750.9 1002.1 752 1002.8Z" fill="#F0027F" stroke="#303030" stroke-width="1.1" stroke-linejoin="round"/>
<line x1="83.1" y1="888.3" x2="83.1" y2="1008.85" stroke="#000" stroke-width="1.9"/>
<line x1="82.15" y1="1007.9" x2="772" y2="1007.9" stroke="#000" stroke-width="1.9"/>
<line x1="79.9" y1="1002.8" x2="83.1" y2="1002.8" stroke="#000" stroke-width="1.2"/>
<text x="74.8" y="1006.26" font-size="9.6" text-anchor="end" stroke="#000" stroke-width="0.25">0</text>
<line x1="79.9" y1="973.1" x2="83.1" y2="973.1" stroke="#000" stroke-width="1.2"/>
<text x="74.8" y="976.56" font-size="9.6" text-anchor="end" stroke="#000" stroke-width="0.25">1</text>
<line x1="79.9" y1="943.4" x2="83.1" y2="943.4" stroke="#000" stroke-width="1.2"/>
<text x="74.8" y="946.86" font-size="9.6" text-anchor="end" stroke="#000" stroke-width="0.25">2</text>
<line x1="79.9" y1="913.7" x2="83.1" y2="913.7" stroke="#000" stroke-width="1.2"/>
<text x="74.8" y="917.16" font-size="9.6" text-anchor="end" stroke="#000" stroke-width="0.25">3</text>
<line x1="162.5" y1="1007.9" x2="162.5" y2="1011.1" stroke="#000" stroke-width="1.2"/>
<text x="163.5" y="1020.9" font-size="9.6" text-anchor="middle" transform="rotate(-45 163.5 1020.9)" dominant-baseline="central" stroke="#000" stroke-width="0.25">1</text>
<line x1="295.5" y1="1007.9" x2="295.5" y2="1011.1" stroke="#000" stroke-width="1.2"/>
<text x="296.5" y="1020.9" font-size="9.6" text-anchor="middle" transform="rotate(-45 296.5 1020.9)" dominant-baseline="central" stroke="#000" stroke-width="0.25">2</text>
<line x1="428" y1="1007.9" x2="428" y2="1011.1" stroke="#000" stroke-width="1.2"/>
<text x="429" y="1020.9" font-size="9.6" text-anchor="middle" transform="rotate(-45 429 1020.9)" dominant-baseline="central" stroke="#000" stroke-width="0.25">3</text>
<line x1="560" y1="1007.9" x2="560" y2="1011.1" stroke="#000" stroke-width="1.2"/>
<text x="561" y="1020.9" font-size="9.6" text-anchor="middle" transform="rotate(-45 561 1020.9)" dominant-baseline="central" stroke="#000" stroke-width="0.25">4</text>
<line x1="692.5" y1="1007.9" x2="692.5" y2="1011.1" stroke="#000" stroke-width="1.2"/>
<text x="693.5" y="1020.9" font-size="9.6" text-anchor="middle" transform="rotate(-45 693.5 1020.9)" dominant-baseline="central" stroke="#000" stroke-width="0.25">5</text>
<text x="55.4" y="949.3" font-size="16.5" text-anchor="middle" font-weight="bold" transform="rotate(-90 55.4 949.3)" dominant-baseline="central">GAS6</text>
<path d="M104.3 1222.5 105.7 1222 109.6 1221.5 115.4 1221 117 1220.8 122.3 1220.5 129.6 1220 136.4 1219.4 139.3 1219.2 142.2 1218.9 146.9 1218.4 150.3 1217.9 152.1 1217.5 152.7 1217.4 154.3 1216.9 155.2 1216.4 155.4 1216.2 155.7 1215.9 155.8 1215.9 156.4 1214.2 156.8 1212.6 157.1 1210.9 157.5 1209.3 157.5 1209.1 157.8 1207.6 158.2 1206 158.7 1204.3 159.1 1202.7 159.4 1201 159.7 1199.7 159.7 1199.4 159.9 1197.7 160.1 1196.1 160.3 1194.4 160.5 1192.8 160.6 1191.1 160.7 1189.5 160.9 1187.8 160.9 1187.8 161 1186.2 161.1 1184.5 161.2 1182.9 161.3 1181.2 161.4 1179.6 161.4 1177.9 161.5 1176.2 161.5 1175.9 161.5 1174.6 161.5 1172.9 161.5 1171.3 161.5 1169.6 161.5 1168 161.6 1166.3 161.6 1164.7 161.6 1164.2 161.6 1163 161.7 1161.4 161.7 1159.7 161.8 1158.1 161.9 1156.4 161.9 1154.8 162 1153.1 162.1 1152.3 162.1 1151.5 162.2 1149.8 162.3 1148.2 162.5 1146.5 162.6 1144.9 162.8 1143.2 162.8 1142.8 162.9 1141.6 163.1 1139.9 163.3 1138.3 163.5 1136.6 163.6 1135.8 163.7 1135 163.8 1133.3 164 1131.6 164.1 1130 164.3 1128.3 164.4 1126.7 164.5 1125 164.6 1123.4 165 1123.4 165.1 1125 165.2 1126.7 165.3 1128.3 165.5 1130 165.6 1131.6 165.8 1133.3 165.9 1135 166 1135.8 166.1 1136.6 166.3 1138.3 166.5 1139.9 166.7 1141.6 166.8 1142.8 166.8 1143.2 167 1144.9 167.1 1146.5 167.3 1148.2 167.4 1149.8 167.5 1151.5 167.5 1152.3 167.6 1153.1 167.7 1154.8 167.7 1156.4 167.8 1158.1 167.9 1159.7 167.9 1161.4 168 1163 168 1164.2 168 1164.7 168 1166.3 168.1 1168 168.1 1169.6 168.1 1171.3 168.1 1172.9 168.1 1174.6 168.1 1175.9 168.1 1176.2 168.2 1177.9 168.2 1179.6 168.3 1181.2 168.4 1182.9 168.5 1184.5 168.6 1186.2 168.7 1187.8 168.7 1187.8 168.9 1189.5 169 1191.1 169.1 1192.8 169.3 1194.4 169.5 1196.1 169.7 1197.7 169.9 1199.4 169.9 1199.7 170.2 1201 170.5 1202.7 170.9 1204.3 171.4 1206 171.8 1207.6 172.1 1209.1 172.1 1209.3 172.5 1210.9 172.8 1212.6 173.2 1214.2 173.8 1215.9 173.9 1215.9 174.2 1216.2 174.4 1216.4 175.3 1216.9 176.9 1217.4 177.5 1217.5 179.3 1217.9 182.7 1218.4 187.4 1218.9 190.3 1219.2 193.2 1219.4 200 1220 207.3 1220.5 212.6 1220.8 214.2 1221 220 1221.5 223.9 1222 225.3 1222.5Z" fill="#7FC97F" stroke="#303030" stroke-width="1.1" stroke-linejoin="round"/>
<path d="M270.8 1222.5 272.4 1222.1 274 1221.7 275.5 1221.3 276.2 1221.1 277 1220.9 277.2 1220.9 278.4 1220.5 279.9 1220.1 281.2 1219.8 282.5 1219.4 282.8 1219.2 283.6 1219 284.4 1218.6 284.4 1218.6 285.1 1218.2 285.8 1217.8 286.1 1217.6 286.4 1217.4 288.4 1216 289.9 1214.4 290.1 1213.8 290.5 1212.7 290.9 1211.1 291.1 1209.5 291.3 1207.9 291.3 1206.9 291.3 1206.2 291 1204.6 290.5 1203 289.7 1201.4 288.9 1199.7 288.9 1199.7 287.8 1198.1 286.3 1196.5 284.5 1194.8 282.5 1193.2 280.4 1191.6 278.6 1190.2 278.3 1190 276.2 1188.3 273.8 1186.7 271.4 1185.1 269 1183.5 266.6 1181.8 265.3 1180.8 264.5 1180.2 262.5 1178.6 260.5 1177 258.6 1175.3 256.8 1173.7 255 1172.1 253.1 1170.4 251.4 1169 251.2 1168.8 249.2 1167.2 247.1 1165.6 245 1163.9 243 1162.3 241.4 1160.7 240.5 1159.4 240.3 1159.1 239.4 1157.4 238.8 1155.8 238.7 1155.2 239.1 1154.2 241 1152.5 244 1150.9 247.5 1149.3 251.1 1147.7 251.4 1147.5 254.9 1146 259.5 1144.4 264.3 1142.8 268.7 1141.2 270.2 1140.6 272.4 1139.5 275.8 1137.9 279 1136.3 282 1134.7 284.4 1133.4 285.1 1133 288.5 1131.4 291.9 1129.8 294.5 1128.1 295.3 1127.5 296.1 1126.5 297.3 1124.9 297.7 1123.9 297.9 1123.3 298.3 1121.6 298.7 1120 298.9 1118.4 299 1116.8 299.4 1116.8 299.5 1118.4 299.7 1120 300.1 1121.6 300.5 1123.3 300.7 1123.9 301.1 1124.9 302.3 1126.5 303.1 1127.5 303.9 1128.1 306.5 1129.8 309.9 1131.4 313.3 1133 314 1133.4 316.4 1134.7 319.4 1136.3 322.6 1137.9 326 1139.5 328.2 1140.6 329.7 1141.2 334.1 1142.8 338.9 1144.4 343.5 1146 347 1147.5 347.3 1147.7 350.9 1149.3 354.4 1150.9 357.4 1152.5 359.3 1154.2 359.7 1155.2 359.6 1155.8 359 1157.4 358.1 1159.1 357.9 1159.4 357 1160.7 355.4 1162.3 353.4 1163.9 351.3 1165.6 349.2 1167.2 347.2 1168.8 347 1169 345.3 1170.4 343.4 1172.1 341.6 1173.7 339.8 1175.3 337.9 1177 335.9 1178.6 333.9 1180.2 333.1 1180.8 331.8 1181.8 329.4 1183.5 327 1185.1 324.6 1186.7 322.2 1188.3 320.1 1190 319.8 1190.2 318 1191.6 315.9 1193.2 313.9 1194.8 312.1 1196.5 310.6 1198.1 309.5 1199.7 309.5 1199.7 308.7 1201.4 307.9 1203 307.4 1204.6 307.1 1206.2 307.1 1206.9 307.1 1207.9 307.3 1209.5 307.5 1211.1 307.9 1212.7 308.3 1213.8 308.5 1214.4 310 1216 312 1217.4 312.3 1217.6 312.6 1217.8 313.3 1218.2 314 1218.6 314 1218.6 314.8 1219 315.6 1219.2 315.9 1219.4 317.2 1219.8 318.5 1220.1 320 1220.5 321.2 1220.9 321.4 1220.9 322.2 1221.1 322.9 1221.3 324.4 1221.7 326 1222.1 327.6 1222.5Z" fill="#BEAED4" stroke="#303030" stroke-width="1.1" stroke-linejoin="round"/>
<path d="M373.5 1222.5 374.9 1222.2 378.8 1222 384.7 1221.7 391.8 1221.4 399.1 1221.1 406 1220.9 411.9 1220.6 416.6 1220.3 420 1220 422.5 1219.8 424 1219.5 425 1219.2 425.6 1218.9 425.9 1218.6 426.2 1217.6 426.6 1215.9 427.2 1214.3 427.3 1213.8 428.1 1212.6 429.7 1211 430.9 1209.3 431 1209.1 431.3 1207.7 431.6 1206 431.9 1204.4 432 1202.7 432.2 1201.1 432.2 1199.7 432.2 1199.4 432.2 1197.8 432.1 1196.1 432 1194.5 431.9 1192.8 431.8 1191.2 431.8 1189.5 431.8 1187.9 431.8 1187.8 431.8 1186.3 431.8 1184.6 431.9 1183 431.9 1181.3 432 1179.7 432.1 1178 432.2 1176.4 432.2 1175.9 432.2 1174.7 432.3 1173.1 432.4 1171.4 432.5 1169.8 432.7 1168.1 432.8 1166.6 432.8 1166.5 433 1164.8 433.1 1163.2 433.3 1161.5 433.6 1159.9 433.8 1158.2 434.2 1158.2 434.4 1159.9 434.7 1161.5 434.9 1163.2 435 1164.8 435.2 1166.5 435.2 1166.6 435.3 1168.1 435.5 1169.8 435.6 1171.4 435.7 1173.1 435.8 1174.7 435.8 1175.9 435.8 1176.4 435.9 1178 436 1179.7 436.1 1181.3 436.1 1183 436.2 1184.6 436.2 1186.3 436.2 1187.8 436.2 1187.9 436.2 1189.5 436.2 1191.2 436.1 1192.8 436 1194.5 435.9 1196.1 435.8 1197.8 435.8 1199.4 435.8 1199.7 435.8 1201.1 436 1202.7 436.1 1204.4 436.4 1206 436.7 1207.7 437 1209.1 437.1 1209.3 438.3 1211 439.9 1212.6 440.7 1213.8 440.8 1214.3 441.4 1215.9 441.8 1217.6 442.1 1218.6 442.4 1218.9 443 1219.2 444 1219.5 445.5 1219.8 448 1220 451.4 1220.3 456.1 1220.6 462 1220.9 468.9 1221.1 476.2 1221.4 483.3 1221.7 489.2 1222 493.1 1222.2 494.5 1222.5Z" fill="#FDC086" stroke="#303030" stroke-width="1.1" stroke-linejoin="round"/>
<path d="M508.3 1222.5 509.3 1222.1 510.3 1221.7 511.3 1221.3 512.3 1220.9 512.5 1220.8 513.2 1220.5 514.2 1220.1 515.1 1219.8 516.1 1219.4 516.5 1219.2 517 1219 517.9 1218.6 518.6 1218.2 518.7 1218.2 519.6 1217.8 520.2 1217.5 520.4 1217.4 523.5 1215.8 526.7 1214.2 530 1212.5 531.9 1211.6 533.8 1210.8 538.1 1209.2 542.6 1207.5 546.9 1205.8 548.8 1205 550.7 1204.2 554.8 1202.5 557.8 1200.8 558.5 1199.9 558.6 1199.2 558.9 1197.5 559 1195.8 559.1 1194.2 559.1 1193.3 559.1 1192.5 558.9 1190.8 558.5 1189.2 558 1187.5 557.5 1185.8 557.3 1184.9 557.1 1184.2 556.6 1182.5 556.1 1180.8 555.6 1179.2 555.5 1178.3 555.4 1177.5 555.2 1175.8 555 1174.2 554.9 1172.5 554.9 1171.7 555 1170.8 555.5 1169.2 556.3 1167.5 556.7 1166.6 557 1165.8 557.8 1164.2 558.7 1162.5 559.6 1160.8 560 1159.9 560.4 1159.2 561.1 1157.5 561.8 1155.8 562.4 1154.2 562.8 1153.3 563.1 1152.5 563.6 1150.8 564.2 1149.2 564.8 1147.5 565.3 1145.8 572.3 1145.8 572.8 1147.5 573.4 1149.2 574 1150.8 574.5 1152.5 574.8 1153.3 575.2 1154.2 575.8 1155.8 576.5 1157.5 577.2 1159.2 577.6 1159.9 578 1160.8 578.9 1162.5 579.8 1164.2 580.6 1165.8 580.9 1166.6 581.3 1167.5 582.1 1169.2 582.6 1170.8 582.7 1171.7 582.7 1172.5 582.6 1174.2 582.4 1175.8 582.2 1177.5 582.1 1178.3 582 1179.2 581.5 1180.8 581 1182.5 580.5 1184.2 580.3 1184.9 580.1 1185.8 579.6 1187.5 579.1 1189.2 578.7 1190.8 578.5 1192.5 578.5 1193.3 578.5 1194.2 578.6 1195.8 578.7 1197.5 579 1199.2 579.1 1199.9 579.8 1200.8 582.8 1202.5 586.9 1204.2 588.8 1205 590.7 1205.8 595 1207.5 599.5 1209.2 603.8 1210.8 605.7 1211.6 607.6 1212.5 610.9 1214.2 614.1 1215.8 617.2 1217.4 617.4 1217.5 618 1217.8 618.9 1218.2 619 1218.2 619.7 1218.6 620.6 1219 621.1 1219.2 621.5 1219.4 622.5 1219.8 623.4 1220.1 624.4 1220.5 625.1 1220.8 625.3 1220.9 626.3 1221.3 627.3 1221.7 628.3 1222.1 629.3 1222.5Z" fill="#386CB0" stroke="#303030" stroke-width="1.1" stroke-linejoin="round"/>
<path d="M642.6 1222.5 644.3 1222.1 646 1221.7 647.6 1221.3 649.3 1220.9 649.6 1220.9 650.9 1220.5 652.5 1220.1 654 1219.8 655.5 1219.4 656.1 1219.2 657 1219 658.4 1218.6 659.5 1218.2 659.8 1218.2 661.1 1217.8 661.9 1217.6 662.4 1217.4 667.2 1215.9 672.3 1214.3 676.9 1212.6 679.5 1211.6 681.1 1211 685.4 1209.4 689.4 1207.7 692.4 1206.1 693.4 1205 693.7 1204.4 694.4 1202.8 695 1201.2 695.4 1199.5 695.7 1197.9 695.8 1196.7 695.9 1196.2 696.1 1194.6 696.2 1192.9 696.3 1191.3 696.4 1189.7 696.4 1188.3 696.4 1188 696.3 1186.4 696 1184.7 695.6 1183.1 695.3 1181.4 695.2 1180 695.2 1179.8 695.6 1178.2 696.3 1176.5 697.1 1174.9 697.7 1173.4 697.7 1173.2 698.1 1171.6 698.5 1170 698.8 1168.3 699.1 1166.7 699.3 1165 699.4 1165 699.6 1163.4 699.8 1161.7 699.9 1160.1 700.1 1158.5 700.1 1158.2 700.2 1156.8 700.3 1155.2 700.3 1153.5 700.4 1151.9 700.4 1150.2 705.8 1150.2 705.8 1151.9 705.9 1153.5 705.9 1155.2 706 1156.8 706.1 1158.2 706.1 1158.5 706.3 1160.1 706.4 1161.7 706.6 1163.4 706.8 1165 706.9 1165 707.1 1166.7 707.4 1168.3 707.7 1170 708.1 1171.6 708.5 1173.2 708.5 1173.4 709.1 1174.9 709.9 1176.5 710.6 1178.2 711 1179.8 711 1180 710.9 1181.4 710.6 1183.1 710.2 1184.7 709.9 1186.4 709.8 1188 709.8 1188.3 709.8 1189.7 709.9 1191.3 710 1192.9 710.1 1194.6 710.3 1196.2 710.4 1196.7 710.5 1197.9 710.8 1199.5 711.2 1201.2 711.8 1202.8 712.5 1204.4 712.8 1205 713.8 1206.1 716.8 1207.7 720.8 1209.4 725.1 1211 726.7 1211.6 729.3 1212.6 733.9 1214.3 739 1215.9 743.8 1217.4 744.3 1217.6 745.1 1217.8 746.4 1218.2 746.7 1218.2 747.8 1218.6 749.2 1219 750.1 1219.2 750.7 1219.4 752.2 1219.8 753.7 1220.1 755.3 1220.5 756.6 1220.9 756.9 1220.9 758.6 1221.3 760.2 1221.7 761.9 1222.1 763.6 1222.5Z" fill="#F0027F" stroke="#303030" stroke-width="1.1" stroke-linejoin="round"/>
<line x1="83.1" y1="1110.8" x2="83.1" y2="1228.05" stroke="#000" stroke-width="1.9"/>
<line x1="82.15" y1="1227.1" x2="783.5" y2="1227.1" stroke="#000" stroke-width="1.9"/>
<line x1="79.9" y1="1222.5" x2="83.1" y2="1222.5" stroke="#000" stroke-width="1.2"/>
<text x="74.8" y="1225.96" font-size="9.6" text-anchor="end" stroke="#000" stroke-width="0.25">0</text>
<line x1="79.9" y1="1188.5" x2="83.1" y2="1188.5" stroke="#000" stroke-width="1.2"/>
<text x="74.8" y="1191.96" font-size="9.6" text-anchor="end" stroke="#000" stroke-width="0.25">2</text>
<line x1="79.9" y1="1154.5" x2="83.1" y2="1154.5" stroke="#000" stroke-width="1.2"/>
<text x="74.8" y="1157.96" font-size="9.6" text-anchor="end" stroke="#000" stroke-width="0.25">4</text>
<line x1="79.9" y1="1120.5" x2="83.1" y2="1120.5" stroke="#000" stroke-width="1.2"/>
<text x="74.8" y="1123.96" font-size="9.6" text-anchor="end" stroke="#000" stroke-width="0.25">6</text>
<line x1="164.8" y1="1227.1" x2="164.8" y2="1230.3" stroke="#000" stroke-width="1.2"/>
<text x="165.8" y="1240.1" font-size="9.6" text-anchor="middle" transform="rotate(-45 165.8 1240.1)" dominant-baseline="central" stroke="#000" stroke-width="0.25">1</text>
<line x1="299.2" y1="1227.1" x2="299.2" y2="1230.3" stroke="#000" stroke-width="1.2"/>
<text x="300.2" y="1240.1" font-size="9.6" text-anchor="middle" transform="rotate(-45 300.2 1240.1)" dominant-baseline="central" stroke="#000" stroke-width="0.25">2</text>
<line x1="434" y1="1227.1" x2="434" y2="1230.3" stroke="#000" stroke-width="1.2"/>
<text x="435" y="1240.1" font-size="9.6" text-anchor="middle" transform="rotate(-45 435 1240.1)" dominant-baseline="central" stroke="#000" stroke-width="0.25">3</text>
<line x1="568.8" y1="1227.1" x2="568.8" y2="1230.3" stroke="#000" stroke-width="1.2"/>
<text x="569.8" y="1240.1" font-size="9.6" text-anchor="middle" transform="rotate(-45 569.8 1240.1)" dominant-baseline="central" stroke="#000" stroke-width="0.25">4</text>
<line x1="703.1" y1="1227.1" x2="703.1" y2="1230.3" stroke="#000" stroke-width="1.2"/>
<text x="704.1" y="1240.1" font-size="9.6" text-anchor="middle" transform="rotate(-45 704.1 1240.1)" dominant-baseline="central" stroke="#000" stroke-width="0.25">5</text>
<text x="55.4" y="1168.5" font-size="16.5" text-anchor="middle" font-weight="bold" transform="rotate(-90 55.4 1168.5)" dominant-baseline="central">EREG</text>
<path d="M104.3 1414.6 105.6 1414.1 109.4 1413.5 115 1413 115.3 1413 121.7 1412.4 128.7 1411.9 135.3 1411.4 135.8 1411.3 140.9 1410.8 145.4 1410.3 148.7 1409.7 149.1 1409.7 151 1409.2 152.5 1408.7 153.4 1408.1 153.5 1408.1 153.5 1408 154 1407.6 154.6 1406.4 155.1 1404.7 155.6 1403.1 155.7 1402.2 155.8 1401.5 156.1 1399.8 156.3 1398.2 156.6 1396.5 156.8 1394.9 156.9 1393.3 156.9 1392.7 157 1391.6 157.1 1390 157.2 1388.3 157.2 1386.7 157.3 1385 157.3 1383.4 157.4 1381.8 157.5 1380.1 157.5 1378.5 157.5 1378.5 157.6 1376.8 157.7 1375.2 157.8 1373.5 157.9 1371.9 158 1370.3 158.1 1369 158.2 1368.6 158.3 1367 158.5 1365.3 158.7 1363.7 159 1362.1 159.2 1360.4 159.5 1358.8 159.7 1357.2 159.7 1357.1 160 1355.5 160.3 1353.8 160.6 1352.2 160.9 1350.6 161.2 1348.9 161.4 1347.3 161.7 1345.6 161.8 1345.3 162 1344 162.2 1342.3 162.5 1340.7 162.7 1339.1 163 1337.4 163.2 1335.9 163.2 1335.8 163.4 1334.1 163.7 1332.5 163.9 1330.8 164.1 1329.2 164.4 1327.6 164.6 1325.9 165 1325.9 165.2 1327.6 165.5 1329.2 165.7 1330.8 165.9 1332.5 166.2 1334.1 166.4 1335.8 166.4 1335.9 166.6 1337.4 166.9 1339.1 167.1 1340.7 167.4 1342.3 167.6 1344 167.8 1345.3 167.9 1345.6 168.2 1347.3 168.4 1348.9 168.7 1350.6 169 1352.2 169.3 1353.8 169.6 1355.5 169.9 1357.1 169.9 1357.2 170.1 1358.8 170.4 1360.4 170.6 1362.1 170.9 1363.7 171.1 1365.3 171.3 1367 171.4 1368.6 171.5 1369 171.6 1370.3 171.7 1371.9 171.8 1373.5 171.9 1375.2 172 1376.8 172.1 1378.5 172.1 1378.5 172.1 1380.1 172.2 1381.8 172.3 1383.4 172.3 1385 172.4 1386.7 172.4 1388.3 172.5 1390 172.6 1391.6 172.7 1392.7 172.7 1393.3 172.8 1394.9 173 1396.5 173.3 1398.2 173.5 1399.8 173.8 1401.5 173.9 1402.2 174 1403.1 174.5 1404.7 175 1406.4 175.6 1407.6 176.1 1408 176.1 1408.1 176.2 1408.1 177.1 1408.7 178.6 1409.2 180.5 1409.7 180.9 1409.7 184.2 1410.3 188.7 1410.8 193.8 1411.3 194.3 1411.4 200.9 1411.9 207.9 1412.4 214.3 1413 214.6 1413 220.2 1413.5 224 1414.1 225.3 1414.6Z" fill="#7FC97F" stroke="#303030" stroke-width="1.1" stroke-linejoin="round"/>
<path d="M266.5 1414.6 268.3 1414.2 270 1413.8 271.8 1413.4 272.6 1413.3 273.6 1413.1 274.1 1413 275.6 1412.7 277.4 1412.3 278.6 1411.9 278.7 1411.9 279.6 1411.5 280.1 1411.3 280.5 1411.1 281.3 1410.7 282 1410.4 282.6 1410 283.1 1409.7 283.2 1409.6 285.1 1408 285.6 1407.3 286 1406.4 286.7 1404.7 287.3 1403.1 287.7 1401.4 288 1399.8 288.3 1398.2 288.3 1397.9 288.5 1396.5 288.7 1394.9 288.8 1393.2 288.9 1391.6 288.9 1391.2 288.8 1389.9 288.1 1388.3 287.1 1386.7 285.8 1385 284.4 1383.4 282.9 1381.7 282.3 1381 281.3 1380.1 279.5 1378.4 277.3 1376.8 274.9 1375.1 272.4 1373.5 269.9 1371.9 267.4 1370.2 265.9 1369.2 265.1 1368.6 262.7 1366.9 260.3 1365.3 257.9 1363.6 255.6 1362 253.3 1360.4 251.2 1358.7 249.6 1357.3 249.3 1357.1 247.4 1355.4 245.3 1353.8 243.4 1352.1 241.6 1350.5 240.1 1348.8 239.1 1347.2 238.7 1345.6 238.7 1345.5 238.8 1343.9 239.1 1342.3 239.6 1340.6 240.2 1339 240.5 1338.3 241.4 1337.3 244.4 1335.7 248.8 1334 253.6 1332.4 256.9 1331.3 258.2 1330.8 263 1329.1 268.2 1327.5 273.7 1325.8 275.6 1325.3 279.7 1324.2 286.5 1322.5 291.9 1320.9 292.5 1320.6 294.7 1319.3 296.4 1317.6 296.8 1317.1 297.3 1316 298 1314.3 298.5 1312.7 298.8 1311 299 1309.4 299.4 1309.4 299.6 1311 299.9 1312.7 300.4 1314.3 301.1 1316 301.6 1317.1 302 1317.6 303.7 1319.3 305.9 1320.6 306.5 1320.9 311.9 1322.5 318.7 1324.2 322.8 1325.3 324.7 1325.8 330.2 1327.5 335.4 1329.1 340.2 1330.8 341.5 1331.3 344.8 1332.4 349.6 1334 354 1335.7 357 1337.3 357.9 1338.3 358.2 1339 358.8 1340.6 359.3 1342.3 359.6 1343.9 359.7 1345.5 359.7 1345.6 359.3 1347.2 358.3 1348.8 356.8 1350.5 355 1352.1 353.1 1353.8 351 1355.4 349.1 1357.1 348.8 1357.3 347.2 1358.7 345.1 1360.4 342.8 1362 340.5 1363.6 338.1 1365.3 335.7 1366.9 333.3 1368.6 332.5 1369.2 331 1370.2 328.5 1371.9 326 1373.5 323.5 1375.1 321.1 1376.8 318.9 1378.4 317.1 1380.1 316.1 1381 315.5 1381.7 314 1383.4 312.6 1385 311.3 1386.7 310.3 1388.3 309.6 1389.9 309.5 1391.2 309.5 1391.6 309.6 1393.2 309.7 1394.9 309.9 1396.5 310.1 1397.9 310.1 1398.2 310.4 1399.8 310.7 1401.4 311.1 1403.1 311.7 1404.7 312.4 1406.4 312.8 1407.3 313.3 1408 315.2 1409.6 315.3 1409.7 315.8 1410 316.4 1410.4 317.1 1410.7 317.9 1411.1 318.3 1411.3 318.8 1411.5 319.7 1411.9 319.8 1411.9 321 1412.3 322.8 1412.7 324.3 1413 324.8 1413.1 325.8 1413.3 326.6 1413.4 328.4 1413.8 330.1 1414.2 331.9 1414.6Z" fill="#BEAED4" stroke="#303030" stroke-width="1.1" stroke-linejoin="round"/>
<path d="M373.5 1414.6 374.6 1414.2 377.5 1413.8 382 1413.4 387.4 1413.1 389.3 1412.9 393 1412.7 398.3 1412.3 402.9 1411.9 406.6 1411.5 408.7 1411.3 409.5 1411.1 411.5 1410.7 412.9 1410.4 413.9 1410 414.6 1409.6 414.6 1409.6 415 1409.3 416.8 1407.9 420.1 1406.2 423.5 1404.6 425.8 1402.9 426.1 1402.2 426.4 1401.2 426.6 1399.5 426.8 1397.9 427 1396.2 427.1 1394.5 427.3 1392.8 427.3 1392.7 427.6 1391.2 427.8 1389.5 428.1 1387.8 428.4 1386.1 428.5 1384.5 428.6 1383.2 428.5 1382.8 428.3 1381.1 427.9 1379.4 427.5 1377.8 427.3 1376.1 427.3 1376 427.4 1374.4 427.5 1372.8 427.8 1371.1 428 1369.4 428.3 1367.7 428.6 1366.5 428.6 1366.1 429.1 1364.4 429.7 1362.7 430.3 1361 430.8 1359.5 430.8 1359.4 431.3 1357.7 431.7 1356 432.1 1354.3 432.5 1352.7 432.5 1352.5 432.7 1351 433 1349.3 433.3 1347.6 433.5 1346 433.7 1344.3 433.8 1342.6 434.2 1342.6 434.3 1344.3 434.5 1346 434.7 1347.6 435 1349.3 435.3 1351 435.5 1352.5 435.5 1352.7 435.9 1354.3 436.3 1356 436.7 1357.7 437.2 1359.4 437.2 1359.5 437.7 1361 438.3 1362.7 438.9 1364.4 439.4 1366.1 439.4 1366.5 439.7 1367.7 440 1369.4 440.2 1371.1 440.5 1372.8 440.6 1374.4 440.7 1376 440.7 1376.1 440.5 1377.8 440.1 1379.4 439.7 1381.1 439.5 1382.8 439.4 1383.2 439.5 1384.5 439.6 1386.1 439.9 1387.8 440.2 1389.5 440.4 1391.2 440.7 1392.7 440.7 1392.8 440.9 1394.5 441 1396.2 441.2 1397.9 441.4 1399.5 441.6 1401.2 441.9 1402.2 442.2 1402.9 444.5 1404.6 447.9 1406.2 451.2 1407.9 453 1409.3 453.4 1409.6 453.4 1409.6 454.1 1410 455.1 1410.4 456.5 1410.7 458.5 1411.1 459.3 1411.3 461.4 1411.5 465.1 1411.9 469.7 1412.3 475 1412.7 478.7 1412.9 480.6 1413.1 486 1413.4 490.5 1413.8 493.4 1414.2 494.5 1414.6Z" fill="#FDC086" stroke="#303030" stroke-width="1.1" stroke-linejoin="round"/>
<path d="M508.3 1414.6 509.1 1414.2 509.8 1413.8 510.6 1413.4 511.4 1413.1 511.5 1413 512.1 1412.7 512.9 1412.3 513.6 1411.9 514.4 1411.5 514.7 1411.3 515.1 1411.1 515.9 1410.7 516.6 1410.4 517.4 1410 517.9 1409.7 518.1 1409.6 521 1408.1 521.3 1407.9 524.2 1406.4 527.4 1404.8 530.5 1403.2 533.2 1401.5 533.7 1401.2 535.7 1399.9 538.1 1398.3 540.2 1396.7 541.8 1395 542.2 1394.6 542.9 1393.4 543.6 1391.8 544.3 1390.1 544.6 1389.5 545.1 1388.5 545.9 1386.9 546.6 1385.2 547.4 1383.6 547.6 1383 548.1 1382 548.8 1380.3 549.5 1378.7 550.3 1377.1 550.6 1376.4 551.2 1375.4 552.3 1373.8 553.3 1372.2 553.7 1371.3 553.9 1370.6 554.2 1368.9 554.4 1367.3 554.7 1365.7 554.9 1364.7 555.1 1364 555.7 1362.4 556.4 1360.8 557.3 1359.1 557.9 1358 558.2 1357.5 559.2 1355.9 560.3 1354.2 561.5 1352.8 561.7 1352.6 564 1351 573.6 1351 575.9 1352.6 576.1 1352.8 577.3 1354.2 578.4 1355.9 579.4 1357.5 579.7 1358 580.3 1359.1 581.2 1360.8 581.9 1362.4 582.5 1364 582.7 1364.7 582.9 1365.7 583.2 1367.3 583.4 1368.9 583.7 1370.6 583.9 1371.3 584.3 1372.2 585.3 1373.8 586.4 1375.4 586.9 1376.4 587.3 1377.1 588.1 1378.7 588.8 1380.3 589.5 1382 590 1383 590.2 1383.6 591 1385.2 591.7 1386.9 592.5 1388.5 593 1389.5 593.3 1390.1 594 1391.8 594.7 1393.4 595.4 1394.6 595.8 1395 597.4 1396.7 599.5 1398.3 601.9 1399.9 603.9 1401.2 604.4 1401.5 607.1 1403.2 610.2 1404.8 613.4 1406.4 616.3 1407.9 616.6 1408.1 619.5 1409.6 619.7 1409.7 620.2 1410 621 1410.4 621.7 1410.7 622.5 1411.1 622.9 1411.3 623.2 1411.5 624 1411.9 624.7 1412.3 625.5 1412.7 626.1 1413 626.2 1413.1 627 1413.4 627.8 1413.8 628.5 1414.2 629.3 1414.6Z" fill="#386CB0" stroke="#303030" stroke-width="1.1" stroke-linejoin="round"/>
<path d="M646.8 1414.6 646 1414.2 645.2 1413.8 644.5 1413.4 643.9 1413.1 643.8 1413 643.4 1412.7 643.1 1412.3 642.8 1411.9 642.6 1411.5 642.6 1411.3 642.6 1411.3 642.6 1411.1 642.7 1410.7 643 1410.4 643.4 1410 643.8 1409.7 644 1409.6 647 1408.1 650.9 1406.4 654.4 1404.8 654.7 1404.6 657.3 1403.1 660.5 1401.5 663.2 1399.9 664.8 1398.2 665 1397.9 665.4 1396.6 665.8 1395 666.1 1393.3 666.2 1391.7 666.2 1391.2 666 1390.1 665.3 1388.4 664.6 1386.8 664.4 1386.4 663.8 1385.1 662.9 1383.5 662 1381.9 661.2 1380.2 660.8 1378.6 660.8 1378 661 1377 662.2 1375.3 664 1373.7 666 1372 666.8 1371.3 668 1370.4 670.4 1368.8 673.1 1367.1 675.5 1365.5 676.5 1364.7 677.3 1363.9 678.9 1362.2 680.2 1360.6 681.5 1359 682.9 1357.3 683.7 1356.3 684.3 1355.7 685.8 1354 687.4 1352.4 689 1350.8 690.5 1349.1 691.6 1348 692 1347.5 693.5 1345.9 695 1344.2 696.4 1342.6 697.8 1341 708.4 1341 709.8 1342.6 711.2 1344.2 712.7 1345.9 714.2 1347.5 714.6 1348 715.7 1349.1 717.2 1350.8 718.8 1352.4 720.4 1354 721.9 1355.7 722.5 1356.3 723.3 1357.3 724.7 1359 726 1360.6 727.3 1362.2 728.9 1363.9 729.7 1364.7 730.7 1365.5 733.1 1367.1 735.8 1368.8 738.2 1370.4 739.4 1371.3 740.2 1372 742.2 1373.7 744 1375.3 745.2 1377 745.5 1378 745.4 1378.6 745 1380.2 744.2 1381.9 743.3 1383.5 742.4 1385.1 741.8 1386.4 741.6 1386.8 740.9 1388.4 740.2 1390.1 740 1391.2 740 1391.7 740.1 1393.3 740.4 1395 740.8 1396.6 741.2 1397.9 741.4 1398.2 743 1399.9 745.7 1401.5 748.9 1403.1 751.5 1404.6 751.8 1404.8 755.3 1406.4 759.2 1408.1 762.2 1409.6 762.4 1409.7 762.8 1410 763.2 1410.4 763.5 1410.7 763.6 1411.1 763.6 1411.3 763.6 1411.3 763.6 1411.5 763.4 1411.9 763.1 1412.3 762.8 1412.7 762.4 1413 762.3 1413.1 761.7 1413.4 761 1413.8 760.2 1414.2 759.4 1414.6Z" fill="#F0027F" stroke="#303030" stroke-width="1.1" stroke-linejoin="round"/>
<line x1="83.1" y1="1303.3" x2="83.1" y2="1420.55" stroke="#000" stroke-width="1.9"/>
<line x1="82.15" y1="1419.6" x2="783.5" y2="1419.6" stroke="#000" stroke-width="1.9"/>
<line x1="79.9" y1="1414.6" x2="83.1" y2="1414.6" stroke="#000" stroke-width="1.2"/>
<text x="74.8" y="1418.06" font-size="9.6" text-anchor="end" stroke="#000" stroke-width="0.25">0</text>
<line x1="79.9" y1="1381.2" x2="83.1" y2="1381.2" stroke="#000" stroke-width="1.2"/>
<text x="74.8" y="1384.66" font-size="9.6" text-anchor="end" stroke="#000" stroke-width="0.25">2</text>
<line x1="79.9" y1="1347.8" x2="83.1" y2="1347.8" stroke="#000" stroke-width="1.2"/>
<text x="74.8" y="1351.26" font-size="9.6" text-anchor="end" stroke="#000" stroke-width="0.25">4</text>
<line x1="79.9" y1="1314.4" x2="83.1" y2="1314.4" stroke="#000" stroke-width="1.2"/>
<text x="74.8" y="1317.86" font-size="9.6" text-anchor="end" stroke="#000" stroke-width="0.25">6</text>
<line x1="164.8" y1="1419.6" x2="164.8" y2="1422.8" stroke="#000" stroke-width="1.2"/>
<text x="165.8" y="1432.6" font-size="9.6" text-anchor="middle" transform="rotate(-45 165.8 1432.6)" dominant-baseline="central" stroke="#000" stroke-width="0.25">1</text>
<line x1="299.2" y1="1419.6" x2="299.2" y2="1422.8" stroke="#000" stroke-width="1.2"/>
<text x="300.2" y="1432.6" font-size="9.6" text-anchor="middle" transform="rotate(-45 300.2 1432.6)" dominant-baseline="central" stroke="#000" stroke-width="0.25">2</text>
<line x1="434" y1="1419.6" x2="434" y2="1422.8" stroke="#000" stroke-width="1.2"/>
<text x="435" y="1432.6" font-size="9.6" text-anchor="middle" transform="rotate(-45 435 1432.6)" dominant-baseline="central" stroke="#000" stroke-width="0.25">3</text>
<line x1="568.8" y1="1419.6" x2="568.8" y2="1422.8" stroke="#000" stroke-width="1.2"/>
<text x="569.8" y="1432.6" font-size="9.6" text-anchor="middle" transform="rotate(-45 569.8 1432.6)" dominant-baseline="central" stroke="#000" stroke-width="0.25">4</text>
<line x1="703.1" y1="1419.6" x2="703.1" y2="1422.8" stroke="#000" stroke-width="1.2"/>
<text x="704.1" y="1432.6" font-size="9.6" text-anchor="middle" transform="rotate(-45 704.1 1432.6)" dominant-baseline="central" stroke="#000" stroke-width="0.25">5</text>
<text x="55.4" y="1362.4" font-size="16.5" text-anchor="middle" font-weight="bold" transform="rotate(-90 55.4 1362.4)" dominant-baseline="central">THBS1</text>
<path d="M104.3 1607.3H225.3M164.8 1607.3V1502.59" stroke="#262626" stroke-width="1.0" fill="none"/>
<path d="M238.7 1607.3 239.2 1606.8 241.6 1606.3 245.4 1605.8 247 1605.7 250 1605.3 254.9 1604.8 259.5 1604.4 262.4 1604 263.5 1603.9 266.6 1603.4 269 1602.9 270.7 1602.4 270.7 1602.4 271.6 1602 271.7 1601.9 272.5 1601.4 273.2 1600.9 273.5 1600.7 275.5 1599.1 276.8 1597.4 276.8 1597.1 276.2 1595.8 274.2 1594.2 271.6 1592.5 269.3 1590.9 268.9 1590.5 267.7 1589.2 266.2 1587.6 264.8 1585.9 263.5 1584.3 262.3 1582.7 261.2 1581 261.1 1580.8 260.3 1579.4 259.3 1577.7 258.4 1576.1 257.5 1574.4 256.8 1572.8 256.2 1571.2 255.8 1569.5 255.6 1567.9 255.6 1567.8 255.8 1566.2 256.4 1564.6 257.2 1562.9 258.1 1561.4 258.1 1561.3 259.4 1559.7 261.1 1558 263.1 1556.4 265.2 1554.7 267.3 1553.1 268.9 1551.7 269.2 1551.4 271 1549.8 272.8 1548.2 274.6 1546.5 276.3 1544.9 277.9 1543.2 279.2 1541.9 279.5 1541.6 281 1539.9 282.4 1538.3 283.8 1536.7 285.1 1535 286.3 1533.4 287.1 1532.3 287.5 1531.7 288.6 1530.1 289.7 1528.4 290.7 1526.8 291.7 1525.2 292.6 1523.5 293.1 1522.6 293.5 1521.9 294.5 1520.2 295.4 1518.6 296.2 1516.9 296.8 1515.3 297.1 1514.5 297.3 1513.7 297.7 1512 298 1510.4 298.3 1508.7 298.6 1507.1 298.8 1505.4 298.9 1503.8 299 1502.2 299.4 1502.2 299.5 1503.8 299.6 1505.4 299.8 1507.1 300.1 1508.7 300.4 1510.4 300.7 1512 301.1 1513.7 301.3 1514.5 301.6 1515.3 302.2 1516.9 303 1518.6 303.9 1520.2 304.9 1521.9 305.2 1522.6 305.8 1523.5 306.7 1525.2 307.7 1526.8 308.7 1528.4 309.8 1530.1 310.9 1531.7 311.3 1532.3 312.1 1533.4 313.3 1535 314.6 1536.7 316 1538.3 317.4 1539.9 318.9 1541.6 319.2 1541.9 320.5 1543.2 322.1 1544.9 323.8 1546.5 325.6 1548.2 327.4 1549.8 329.2 1551.4 329.4 1551.7 331.1 1553.1 333.2 1554.7 335.3 1556.4 337.3 1558 339 1559.7 340.3 1561.3 340.3 1561.4 341.2 1562.9 342 1564.6 342.6 1566.2 342.8 1567.8 342.8 1567.9 342.6 1569.5 342.2 1571.2 341.6 1572.8 340.9 1574.4 340 1576.1 339.1 1577.7 338.1 1579.4 337.3 1580.8 337.2 1581 336.1 1582.7 334.9 1584.3 333.6 1585.9 332.2 1587.6 330.7 1589.2 329.5 1590.5 329.1 1590.9 326.8 1592.5 324.2 1594.2 322.2 1595.8 321.6 1597.1 321.6 1597.4 322.9 1599.1 324.9 1600.7 325.2 1600.9 325.9 1601.4 326.7 1601.9 326.8 1602 327.7 1602.4 327.7 1602.4 329.4 1602.9 331.8 1603.4 334.9 1603.9 336 1604 338.9 1604.4 343.5 1604.8 348.4 1605.3 351.4 1605.7 353 1605.8 356.8 1606.3 359.2 1606.8 359.7 1607.3Z" fill="#BEAED4" stroke="#303030" stroke-width="1.1" stroke-linejoin="round"/>
<path d="M373.5 1607.3H494.5M434 1607.3V1539.97" stroke="#262626" stroke-width="1.0" fill="none"/>
<path d="M508.3 1607.3 509.6 1606.8 513.4 1606.3 515.5 1606.1 519.1 1605.8 525.9 1605.3 531.6 1604.9 533 1604.8 539.6 1604.4 545.3 1603.9 546.3 1603.8 549.9 1603.4 553.2 1602.9 554.8 1602.6 555.6 1602.4 556.9 1602 557.1 1601.9 558 1601.4 558 1601.4 558.4 1600.9 558.6 1600.2 558.3 1599.1 558 1597.9 557.9 1597.1 558 1596.7 559.1 1595.5 560.8 1594.4 562.3 1593.2 562.7 1592.2 562.7 1592 562.7 1590.8 562.5 1589.7 562.2 1588.5 561.9 1587.3 561.7 1586.1 561.6 1584.9 561.5 1584.1 561.6 1583.8 561.7 1582.6 562.1 1581.4 562.6 1580.2 563.1 1579.1 563.7 1577.9 564.3 1576.7 564.6 1576.1 564.8 1575.5 565.3 1574.4 565.9 1573.2 566.4 1572 566.7 1571.2 566.8 1570.8 567.1 1569.7 567.4 1568.5 567.7 1567.3 568 1566.1 568.2 1565 568.4 1563.8 568.5 1562.6 568.6 1561.4 569 1561.4 569.1 1562.6 569.2 1563.8 569.4 1565 569.6 1566.1 569.9 1567.3 570.2 1568.5 570.5 1569.7 570.8 1570.8 570.9 1571.2 571.2 1572 571.7 1573.2 572.3 1574.4 572.8 1575.5 573 1576.1 573.3 1576.7 573.9 1577.9 574.5 1579.1 575 1580.2 575.5 1581.4 575.9 1582.6 576 1583.8 576.1 1584.1 576 1584.9 575.9 1586.1 575.7 1587.3 575.4 1588.5 575.1 1589.7 574.9 1590.8 574.9 1592 574.9 1592.2 575.3 1593.2 576.8 1594.4 578.5 1595.5 579.6 1596.7 579.7 1597.1 579.6 1597.9 579.3 1599.1 579 1600.2 579.2 1600.9 579.6 1601.4 579.6 1601.4 580.5 1601.9 580.7 1602 582 1602.4 582.8 1602.6 584.4 1602.9 587.7 1603.4 591.3 1603.8 592.3 1603.9 598 1604.4 604.6 1604.8 606 1604.9 611.7 1605.3 618.5 1605.8 622.1 1606.1 624.2 1606.3 628 1606.8 629.3 1607.3Z" fill="#386CB0" stroke="#303030" stroke-width="1.1" stroke-linejoin="round"/>
<path d="M642.6 1607.3 643.5 1606.8 646.7 1606.3 651.6 1605.8 653.9 1605.6 657.5 1605.3 663.7 1604.8 669.5 1604.4 673.7 1604 674.5 1603.9 678.5 1603.4 681.5 1602.9 683.6 1602.4 684 1602.3 684.8 1602 685 1601.9 685.9 1601.4 686.5 1600.9 686.9 1600.6 688.7 1598.9 690.6 1597.3 692.1 1595.6 692.8 1593.9 692.8 1593.9 692.7 1592.2 692.4 1590.6 692 1588.9 691.7 1587.2 691.6 1585.6 691.6 1585.5 692.1 1583.9 693.1 1582.2 694.4 1580.5 695.7 1578.9 696.4 1577.6 696.6 1577.2 697.4 1575.5 698.1 1573.8 698.8 1572.2 699.4 1570.5 699.9 1568.8 700.1 1567.8 700.2 1567.1 700.5 1565.5 700.7 1563.8 700.9 1562.1 701.1 1560.4 701.2 1558.8 701.3 1558.2 701.4 1557.1 701.6 1555.4 701.7 1553.8 701.9 1552.1 702 1550.4 702.2 1548.7 702.3 1547.1 702.4 1545.4 702.6 1543.7 702.7 1542 702.8 1540.4 702.9 1538.7 703.3 1538.7 703.4 1540.4 703.5 1542 703.6 1543.7 703.8 1545.4 703.9 1547.1 704 1548.7 704.2 1550.4 704.3 1552.1 704.5 1553.8 704.6 1555.4 704.8 1557.1 704.9 1558.2 705 1558.8 705.1 1560.4 705.3 1562.1 705.5 1563.8 705.7 1565.5 706 1567.1 706.1 1567.8 706.3 1568.8 706.8 1570.5 707.4 1572.2 708.1 1573.8 708.8 1575.5 709.6 1577.2 709.8 1577.6 710.5 1578.9 711.8 1580.5 713.1 1582.2 714.1 1583.9 714.6 1585.5 714.6 1585.6 714.5 1587.2 714.2 1588.9 713.8 1590.6 713.5 1592.2 713.4 1593.9 713.4 1593.9 714.1 1595.6 715.6 1597.3 717.5 1598.9 719.3 1600.6 719.7 1600.9 720.3 1601.4 721.2 1601.9 721.4 1602 722.2 1602.3 722.6 1602.4 724.7 1602.9 727.7 1603.4 731.7 1603.9 732.5 1604 736.7 1604.4 742.5 1604.8 748.7 1605.3 752.3 1605.6 754.6 1605.8 759.5 1606.3 762.7 1606.8 763.6 1607.3Z" fill="#F0027F" stroke="#303030" stroke-width="1.1" stroke-linejoin="round"/>
<line x1="83.1" y1="1495.5" x2="83.1" y2="1612.85" stroke="#000" stroke-width="1.9"/>
<line x1="82.15" y1="1611.9" x2="783.5" y2="1611.9" stroke="#000" stroke-width="1.9"/>
<line x1="79.9" y1="1607.3" x2="83.1" y2="1607.3" stroke="#000" stroke-width="1.2"/>
<text x="74.8" y="1610.76" font-size="9.6" text-anchor="end" stroke="#000" stroke-width="0.25">0</text>
<line x1="79.9" y1="1586.06" x2="83.1" y2="1586.06" stroke="#000" stroke-width="1.2"/>
<text x="74.8" y="1589.52" font-size="9.6" text-anchor="end" stroke="#000" stroke-width="0.25">1</text>
<line x1="79.9" y1="1564.82" x2="83.1" y2="1564.82" stroke="#000" stroke-width="1.2"/>
<text x="74.8" y="1568.28" font-size="9.6" text-anchor="end" stroke="#000" stroke-width="0.25">2</text>
<line x1="79.9" y1="1543.58" x2="83.1" y2="1543.58" stroke="#000" stroke-width="1.2"/>
<text x="74.8" y="1547.04" font-size="9.6" text-anchor="end" stroke="#000" stroke-width="0.25">3</text>
<line x1="79.9" y1="1522.34" x2="83.1" y2="1522.34" stroke="#000" stroke-width="1.2"/>
<text x="74.8" y="1525.8" font-size="9.6" text-anchor="end" stroke="#000" stroke-width="0.25">4</text>
<line x1="79.9" y1="1501.1" x2="83.1" y2="1501.1" stroke="#000" stroke-width="1.2"/>
<text x="74.8" y="1504.56" font-size="9.6" text-anchor="end" stroke="#000" stroke-width="0.25">5</text>
<line x1="164.8" y1="1611.9" x2="164.8" y2="1615.1" stroke="#000" stroke-width="1.2"/>
<text x="165.8" y="1624.9" font-size="9.6" text-anchor="middle" transform="rotate(-45 165.8 1624.9)" dominant-baseline="central" stroke="#000" stroke-width="0.25">1</text>
<line x1="299.2" y1="1611.9" x2="299.2" y2="1615.1" stroke="#000" stroke-width="1.2"/>
<text x="300.2" y="1624.9" font-size="9.6" text-anchor="middle" transform="rotate(-45 300.2 1624.9)" dominant-baseline="central" stroke="#000" stroke-width="0.25">2</text>
<line x1="434" y1="1611.9" x2="434" y2="1615.1" stroke="#000" stroke-width="1.2"/>
<text x="435" y="1624.9" font-size="9.6" text-anchor="middle" transform="rotate(-45 435 1624.9)" dominant-baseline="central" stroke="#000" stroke-width="0.25">3</text>
<line x1="568.8" y1="1611.9" x2="568.8" y2="1615.1" stroke="#000" stroke-width="1.2"/>
<text x="569.8" y="1624.9" font-size="9.6" text-anchor="middle" transform="rotate(-45 569.8 1624.9)" dominant-baseline="central" stroke="#000" stroke-width="0.25">4</text>
<line x1="703.1" y1="1611.9" x2="703.1" y2="1615.1" stroke="#000" stroke-width="1.2"/>
<text x="704.1" y="1624.9" font-size="9.6" text-anchor="middle" transform="rotate(-45 704.1 1624.9)" dominant-baseline="central" stroke="#000" stroke-width="0.25">5</text>
<text x="55.4" y="1555.6" font-size="16.5" text-anchor="middle" font-weight="bold" transform="rotate(-90 55.4 1555.6)" dominant-baseline="central">VCAN</text>
<path d="M104.3 1799.3 105.6 1799.1 109.2 1798.9 114.6 1798.7 121.1 1798.4 127.8 1798.2 134.1 1798 139.5 1797.8 142.7 1797.7 143.8 1797.6 147 1797.4 149.2 1797.2 150.6 1797 151.5 1796.7 152 1796.5 152.3 1796 152.3 1795.9 150.9 1794.4 147.7 1792.7 144.8 1791.3 144.4 1791.1 140.9 1789.4 137 1787.8 133.4 1786.1 130.7 1784.5 130.3 1784.2 128.9 1782.9 127.4 1781.2 126.7 1779.6 126.7 1779.4 127.1 1777.9 128.3 1776.3 129.7 1774.7 129.7 1774.6 131.4 1773 133.6 1771.3 136 1769.7 138.2 1768.1 138.8 1767.6 140.2 1766.4 142.1 1764.8 143.9 1763.1 145.6 1761.5 146.7 1760.5 147.3 1759.8 149 1758.2 150.6 1756.5 152.1 1754.9 153.6 1753.3 154.9 1751.6 155.3 1751.1 156.2 1750 157.4 1748.3 158.6 1746.7 159.7 1745 160.6 1743.4 161.4 1741.7 161.5 1741.5 162.1 1740.1 162.7 1738.5 163.2 1736.8 163.5 1735.2 163.6 1734.5 163.7 1733.5 163.8 1731.9 163.9 1730.2 164 1728.6 164.1 1726.9 164.2 1725.3 164.3 1723.7 164.3 1722 164.4 1720.4 164.4 1718.7 164.5 1717.1 164.5 1715.4 164.6 1713.8 164.6 1712.1 164.6 1710.5 164.6 1708.9 164.6 1707.2 165 1707.2 165 1708.9 165 1710.5 165 1712.1 165 1713.8 165.1 1715.4 165.1 1717.1 165.2 1718.7 165.2 1720.4 165.3 1722 165.3 1723.7 165.4 1725.3 165.5 1726.9 165.6 1728.6 165.7 1730.2 165.8 1731.9 165.9 1733.5 166 1734.5 166.1 1735.2 166.4 1736.8 166.9 1738.5 167.5 1740.1 168.1 1741.5 168.2 1741.7 169 1743.4 169.9 1745 171 1746.7 172.2 1748.3 173.4 1750 174.3 1751.1 174.7 1751.6 176 1753.3 177.5 1754.9 179 1756.5 180.6 1758.2 182.3 1759.8 183 1760.5 184 1761.5 185.7 1763.1 187.5 1764.8 189.4 1766.4 190.8 1767.6 191.4 1768.1 193.6 1769.7 196 1771.3 198.2 1773 199.9 1774.6 199.9 1774.7 201.3 1776.3 202.5 1777.9 202.9 1779.4 202.9 1779.6 202.2 1781.2 200.7 1782.9 199.3 1784.2 198.9 1784.5 196.2 1786.1 192.6 1787.8 188.7 1789.4 185.2 1791.1 184.8 1791.3 181.9 1792.7 178.7 1794.4 177.3 1795.9 177.3 1796 177.6 1796.5 178.1 1796.7 179 1797 180.4 1797.2 182.6 1797.4 185.8 1797.6 186.9 1797.7 190.1 1797.8 195.5 1798 201.8 1798.2 208.5 1798.4 215 1798.7 220.4 1798.9 224 1799.1 225.3 1799.3Z" fill="#7FC97F" stroke="#303030" stroke-width="1.1" stroke-linejoin="round"/>
<path d="M290.7 1799.3 291.4 1798.9 292 1798.6 292.5 1798.2 293 1797.9 293.1 1797.8 293.3 1797.7 293.5 1797.5 293.9 1797.2 294.4 1796.8 294.7 1796.5 294.9 1796.1 295 1796 295 1795.9 295 1795.7 294.9 1795.4 294.8 1795 294.6 1794.7 294.4 1794.4 292.9 1792.7 291.3 1791.3 291.1 1791.1 288.6 1789.4 285.3 1787.8 281.6 1786.1 278 1784.5 277.4 1784.2 274.3 1782.8 270.4 1781.2 266.3 1779.5 262.3 1777.9 258.9 1776.2 256.2 1774.7 256.1 1774.6 253.9 1772.9 251.8 1771.3 249.9 1769.6 248.2 1768 246.7 1766.3 245.4 1764.7 244.3 1763 244.1 1762.8 243.3 1761.4 242.5 1759.7 241.6 1758.1 240.9 1756.4 240.3 1754.8 239.8 1753.1 239.4 1751.5 239.3 1751.1 239.1 1749.9 238.8 1748.2 238.7 1746.6 238.7 1746.3 239 1744.9 240.1 1743.3 241.6 1741.6 243.4 1740 244.1 1739.2 245.2 1738.3 247.6 1736.7 250.4 1735 253.5 1733.4 256.8 1731.7 260.1 1730.1 263.4 1728.4 265.3 1727.4 266.4 1726.8 269.4 1725.1 272.5 1723.5 275.5 1721.8 278.5 1720.2 281.3 1718.5 282.3 1718 284.2 1716.9 287.1 1715.2 289.9 1713.6 292.3 1711.9 293.8 1710.8 294.2 1710.3 295.8 1708.6 297 1707 297.4 1706.1 297.6 1705.3 297.9 1703.7 298.2 1702.1 298.5 1700.4 298.7 1698.8 298.8 1697.1 298.9 1695.5 299 1693.8 299.4 1693.8 299.5 1695.5 299.6 1697.1 299.7 1698.8 299.9 1700.4 300.2 1702.1 300.5 1703.7 300.8 1705.3 301 1706.1 301.4 1707 302.6 1708.6 304.2 1710.3 304.6 1710.8 306.1 1711.9 308.5 1713.6 311.3 1715.2 314.2 1716.9 316.1 1718 317.1 1718.5 319.9 1720.2 322.9 1721.8 325.9 1723.5 329 1725.1 332 1726.8 333.1 1727.4 335 1728.4 338.3 1730.1 341.6 1731.7 344.9 1733.4 348 1735 350.8 1736.7 353.2 1738.3 354.3 1739.2 355 1740 356.8 1741.6 358.3 1743.3 359.4 1744.9 359.7 1746.3 359.7 1746.6 359.6 1748.2 359.3 1749.9 359.1 1751.1 359 1751.5 358.6 1753.1 358.1 1754.8 357.5 1756.4 356.8 1758.1 355.9 1759.7 355.1 1761.4 354.3 1762.8 354.1 1763 353 1764.7 351.7 1766.3 350.2 1768 348.5 1769.6 346.6 1771.3 344.5 1772.9 342.3 1774.6 342.2 1774.7 339.5 1776.2 336.1 1777.9 332.1 1779.5 328 1781.2 324.1 1782.8 321 1784.2 320.4 1784.5 316.8 1786.1 313.1 1787.8 309.8 1789.4 307.3 1791.1 307.1 1791.3 305.5 1792.7 304 1794.4 303.8 1794.7 303.6 1795 303.5 1795.4 303.4 1795.7 303.4 1795.9 303.4 1796 303.5 1796.1 303.7 1796.5 304 1796.8 304.5 1797.2 304.9 1797.5 305.1 1797.7 305.2 1797.8 305.4 1797.9 305.9 1798.2 306.4 1798.6 307 1798.9 307.7 1799.3Z" fill="#BEAED4" stroke="#303030" stroke-width="1.1" stroke-linejoin="round"/>
<path d="M377.1 1799.3 380.2 1798.9 383.2 1798.6 386 1798.2 388.5 1797.9 389.5 1797.7 390.8 1797.5 392.7 1797.2 393.5 1797 394.2 1796.8 395.6 1796.5 396.8 1796.2 397 1796.1 398.3 1795.7 399.4 1795.4 400.4 1795 401.3 1794.7 401.5 1794.6 402.5 1793.9 403.5 1793 404.3 1791.4 404.4 1791.3 399.9 1789.9 389.6 1788.3 381.3 1786.7 380.8 1786.5 378.1 1785.2 375.6 1783.6 374 1782 373.5 1780.7 373.5 1780.4 375.5 1778.9 379.4 1777.3 384 1775.7 386.8 1774.7 388 1774.2 392 1772.6 396.2 1771 400.2 1769.4 403.8 1767.9 404.4 1767.6 406.9 1766.3 409.9 1764.7 412.7 1763.2 415.3 1761.6 417.6 1760 419.5 1758.4 419.8 1758.2 421.1 1756.9 422.4 1755.3 423.6 1753.7 424.7 1752.2 425.7 1750.6 426.7 1749 426.9 1748.6 427.7 1747.4 428.6 1745.9 429.4 1744.3 430.2 1742.7 430.8 1741.5 431 1741.2 431.6 1739.6 432.2 1738 435.8 1738 436.4 1739.6 437 1741.2 437.2 1741.5 437.8 1742.7 438.6 1744.3 439.4 1745.9 440.3 1747.4 441.1 1748.6 441.3 1749 442.3 1750.6 443.3 1752.2 444.4 1753.7 445.6 1755.3 446.9 1756.9 448.2 1758.2 448.5 1758.4 450.4 1760 452.7 1761.6 455.3 1763.2 458.1 1764.7 461.1 1766.3 463.6 1767.6 464.2 1767.9 467.8 1769.4 471.8 1771 476 1772.6 480 1774.2 481.2 1774.7 484 1775.7 488.6 1777.3 492.5 1778.9 494.5 1780.4 494.5 1780.7 494 1782 492.4 1783.6 489.9 1785.2 487.2 1786.5 486.7 1786.7 478.4 1788.3 468.1 1789.9 463.6 1791.3 463.7 1791.4 464.5 1793 465.5 1793.9 466.5 1794.6 466.7 1794.7 467.6 1795 468.6 1795.4 469.7 1795.7 471 1796.1 471.2 1796.2 472.4 1796.5 473.8 1796.8 474.5 1797 475.3 1797.2 477.2 1797.5 478.5 1797.7 479.5 1797.9 482 1798.2 484.8 1798.6 487.8 1798.9 490.9 1799.3Z" fill="#FDC086" stroke="#303030" stroke-width="1.1" stroke-linejoin="round"/>
<path d="M558.8 1799.3 558.8 1798.9 558.7 1798.6 558.6 1798.2 558.4 1797.9 558.3 1797.7 558.2 1797.5 557.9 1797.2 557.6 1796.8 557.2 1796.5 556.9 1796.1 556.8 1796 556.4 1795.7 556 1795.4 555.6 1795 555.5 1795 554.9 1794.7 554.3 1794.4 547.6 1792.8 542.2 1791.6 540.4 1791.2 533.4 1789.5 526.5 1787.9 522.2 1786.7 521 1786.3 515.8 1784.7 511.2 1783 508.5 1781.4 508.3 1780.8 509.2 1779.8 513.2 1778.2 517.4 1776.7 517.7 1776.5 522.7 1774.9 528.3 1773.3 533.7 1771.6 537.9 1770 538 1770 541.1 1768.4 543.8 1766.8 546.2 1765.1 548.5 1763.5 548.8 1763.3 550.8 1761.9 553 1760.3 555.1 1758.6 556.9 1757 557.3 1756.6 558.5 1755.4 559.9 1753.7 561.2 1752.1 562.6 1750.5 563 1750 564.2 1748.9 566 1747.2 566.7 1745.9 566.8 1745.6 566.9 1744 567 1742.4 567 1742.3 567 1740.7 567.1 1739.1 567.1 1737.5 567.1 1735.9 570.5 1735.9 570.5 1737.5 570.5 1739.1 570.6 1740.7 570.6 1742.3 570.6 1742.4 570.7 1744 570.8 1745.6 570.9 1745.9 571.6 1747.2 573.4 1748.9 574.6 1750 575 1750.5 576.4 1752.1 577.7 1753.7 579.1 1755.4 580.3 1756.6 580.7 1757 582.5 1758.6 584.6 1760.3 586.8 1761.9 588.8 1763.3 589.1 1763.5 591.4 1765.1 593.8 1766.8 596.5 1768.4 599.6 1770 599.7 1770 603.9 1771.6 609.3 1773.3 614.9 1774.9 619.9 1776.5 620.2 1776.7 624.4 1778.2 628.4 1779.8 629.3 1780.8 629.1 1781.4 626.4 1783 621.8 1784.7 616.6 1786.3 615.4 1786.7 611.1 1787.9 604.2 1789.5 597.2 1791.2 595.4 1791.6 590 1792.8 583.3 1794.4 582.7 1794.7 582.1 1795 582 1795 581.6 1795.4 581.2 1795.7 580.8 1796 580.7 1796.1 580.4 1796.5 580 1796.8 579.7 1797.2 579.4 1797.5 579.3 1797.7 579.2 1797.9 579 1798.2 578.9 1798.6 578.8 1798.9 578.8 1799.3Z" fill="#386CB0" stroke="#303030" stroke-width="1.1" stroke-linejoin="round"/>
<path d="M694.3 1799.3 694.5 1798.9 694.7 1798.6 694.8 1798.2 695 1797.9 695 1797.7 695.1 1797.5 695.1 1797.2 695.2 1796.8 695.2 1796.5 695.2 1796.1 695.2 1796 695.2 1795.7 695.2 1795.4 695.2 1795 695.2 1795 695.2 1794.7 695 1794.4 692.1 1792.8 687.4 1791.2 683.7 1789.9 682.6 1789.5 676.8 1787.9 670.1 1786.3 663.8 1784.6 659.5 1783.3 658.8 1783 654.6 1781.4 650.9 1779.7 647.9 1778.1 646.2 1776.7 646.1 1776.5 645 1774.9 644 1773.2 643.3 1771.6 642.8 1770 642.6 1768.3 642.6 1768.3 643.5 1766.7 645.8 1765.1 649 1763.4 652.4 1761.8 652.9 1761.6 656.5 1760.2 662.1 1758.6 667.8 1756.9 672.2 1755.3 672.9 1754.9 674.7 1753.7 676.5 1752 678 1750.4 679.6 1748.8 680.1 1748.3 681.5 1747.2 683.6 1745.5 685.6 1743.9 687.4 1742.3 688 1741.7 688.9 1740.6 690.4 1739 691.7 1737.4 693 1735.7 694.1 1734.1 695.2 1732.5 696 1730.9 696.4 1730 696.8 1729.2 697.5 1727.6 698.1 1726 698.7 1724.3 699.2 1722.7 699.7 1721.1 700 1719.4 700.2 1718.5 700.3 1717.8 700.5 1716.2 700.8 1714.6 701 1712.9 701.1 1711.3 701.2 1709.7 705 1709.7 705.1 1711.3 705.2 1712.9 705.4 1714.6 705.7 1716.2 705.9 1717.8 706 1718.5 706.2 1719.4 706.5 1721.1 707 1722.7 707.5 1724.3 708.1 1726 708.7 1727.6 709.4 1729.2 709.8 1730 710.2 1730.9 711 1732.5 712.1 1734.1 713.2 1735.7 714.5 1737.4 715.8 1739 717.3 1740.6 718.2 1741.7 718.8 1742.3 720.6 1743.9 722.6 1745.5 724.7 1747.2 726.1 1748.3 726.6 1748.8 728.2 1750.4 729.7 1752 731.5 1753.7 733.4 1754.9 734 1755.3 738.4 1756.9 744.1 1758.6 749.7 1760.2 753.3 1761.6 753.8 1761.8 757.2 1763.4 760.4 1765.1 762.7 1766.7 763.6 1768.3 763.6 1768.3 763.4 1770 762.9 1771.6 762.2 1773.2 761.2 1774.9 760.1 1776.5 760 1776.7 758.3 1778.1 755.3 1779.7 751.6 1781.4 747.4 1783 746.7 1783.3 742.4 1784.6 736.1 1786.3 729.4 1787.9 723.6 1789.5 722.5 1789.9 718.8 1791.2 714.1 1792.8 711.2 1794.4 711 1794.7 711 1795 711 1795 711 1795.4 711 1795.7 711 1796 711 1796.1 711 1796.5 711 1796.8 711.1 1797.2 711.1 1797.5 711.2 1797.7 711.2 1797.9 711.4 1798.2 711.5 1798.6 711.7 1798.9 711.9 1799.3Z" fill="#F0027F" stroke="#303030" stroke-width="1.1" stroke-linejoin="round"/>
<line x1="83.1" y1="1687.6" x2="83.1" y2="1805.35" stroke="#000" stroke-width="1.9"/>
<line x1="82.15" y1="1804.4" x2="783.5" y2="1804.4" stroke="#000" stroke-width="1.9"/>
<line x1="79.9" y1="1799.3" x2="83.1" y2="1799.3" stroke="#000" stroke-width="1.2"/>
<text x="74.8" y="1802.76" font-size="9.6" text-anchor="end" stroke="#000" stroke-width="0.25">0</text>
<line x1="79.9" y1="1768.5" x2="83.1" y2="1768.5" stroke="#000" stroke-width="1.2"/>
<text x="74.8" y="1771.96" font-size="9.6" text-anchor="end" stroke="#000" stroke-width="0.25">2</text>
<line x1="79.9" y1="1737.7" x2="83.1" y2="1737.7" stroke="#000" stroke-width="1.2"/>
<text x="74.8" y="1741.16" font-size="9.6" text-anchor="end" stroke="#000" stroke-width="0.25">4</text>
<line x1="79.9" y1="1706.9" x2="83.1" y2="1706.9" stroke="#000" stroke-width="1.2"/>
<text x="74.8" y="1710.36" font-size="9.6" text-anchor="end" stroke="#000" stroke-width="0.25">6</text>
<line x1="164.8" y1="1804.4" x2="164.8" y2="1807.6" stroke="#000" stroke-width="1.2"/>
<text x="165.8" y="1817.4" font-size="9.6" text-anchor="middle" transform="rotate(-45 165.8 1817.4)" dominant-baseline="central" stroke="#000" stroke-width="0.25">1</text>
<line x1="299.2" y1="1804.4" x2="299.2" y2="1807.6" stroke="#000" stroke-width="1.2"/>
<text x="300.2" y="1817.4" font-size="9.6" text-anchor="middle" transform="rotate(-45 300.2 1817.4)" dominant-baseline="central" stroke="#000" stroke-width="0.25">2</text>
<line x1="434" y1="1804.4" x2="434" y2="1807.6" stroke="#000" stroke-width="1.2"/>
<text x="435" y="1817.4" font-size="9.6" text-anchor="middle" transform="rotate(-45 435 1817.4)" dominant-baseline="central" stroke="#000" stroke-width="0.25">3</text>
<line x1="568.8" y1="1804.4" x2="568.8" y2="1807.6" stroke="#000" stroke-width="1.2"/>
<text x="569.8" y="1817.4" font-size="9.6" text-anchor="middle" transform="rotate(-45 569.8 1817.4)" dominant-baseline="central" stroke="#000" stroke-width="0.25">4</text>
<line x1="703.1" y1="1804.4" x2="703.1" y2="1807.6" stroke="#000" stroke-width="1.2"/>
<text x="704.1" y="1817.4" font-size="9.6" text-anchor="middle" transform="rotate(-45 704.1 1817.4)" dominant-baseline="central" stroke="#000" stroke-width="0.25">5</text>
<text x="55.4" y="1753.2" font-size="16.5" text-anchor="middle" font-weight="bold" transform="rotate(-90 55.4 1753.2)" dominant-baseline="central">TIMP1</text>
<path d="M104.5 1992 106 1991.7 110.3 1991.4 116.9 1991.1 124.6 1990.9 132.7 1990.6 138.9 1990.4 140.3 1990.3 146.8 1990 152 1989.7 155.8 1989.4 158.5 1989.2 160.2 1988.9 161 1988.7 161.3 1988.6 161.9 1988.3 162.1 1988.2 162.4 1987.1 162 1985.4 161.5 1983.8 161.5 1983.5 161.3 1982.1 161.1 1980.5 161 1979.1 161 1978.8 161.3 1977.2 161.7 1975.5 161.8 1975 162 1973.9 162.2 1972.2 162.5 1970.6 162.6 1969.7 162.6 1968.9 162.7 1967.3 162.8 1965.6 162.9 1964 163 1962.3 163 1960.7 163.1 1959 163.2 1957.4 163.2 1955.7 163.3 1954.1 163.3 1953.1 163.3 1952.5 163.4 1950.8 163.4 1949.2 163.4 1947.5 163.5 1945.9 163.5 1944.2 163.6 1942.6 163.6 1940.9 163.6 1939.3 163.7 1937.6 163.7 1936.6 163.7 1936 163.8 1934.3 163.8 1932.7 163.9 1931 163.9 1929.4 164 1927.7 164.1 1926.1 164.1 1924.4 164.2 1922.8 164.2 1921.1 164.3 1919.5 164.3 1917.8 164.3 1916.4 164.3 1916.2 164.3 1914.6 164.4 1912.9 164.4 1911.3 164.4 1909.6 164.4 1908 164.5 1906.3 164.5 1904.7 164.5 1903 164.5 1901.4 164.5 1899.7 164.6 1898.1 164.6 1896.4 164.6 1894.8 164.6 1893.1 164.6 1891.5 164.6 1889.8 164.6 1888.2 164.6 1886.5 165 1886.5 165 1888.2 165 1889.8 165 1891.5 165 1893.1 165 1894.8 165 1896.4 165 1898.1 165.1 1899.7 165.1 1901.4 165.1 1903 165.1 1904.7 165.1 1906.3 165.2 1908 165.2 1909.6 165.2 1911.3 165.2 1912.9 165.3 1914.6 165.3 1916.2 165.3 1916.4 165.3 1917.8 165.3 1919.5 165.4 1921.1 165.4 1922.8 165.5 1924.4 165.5 1926.1 165.6 1927.7 165.7 1929.4 165.7 1931 165.8 1932.7 165.8 1934.3 165.9 1936 165.9 1936.6 165.9 1937.6 166 1939.3 166 1940.9 166 1942.6 166.1 1944.2 166.1 1945.9 166.2 1947.5 166.2 1949.2 166.2 1950.8 166.3 1952.5 166.3 1953.1 166.3 1954.1 166.4 1955.7 166.4 1957.4 166.5 1959 166.6 1960.7 166.6 1962.3 166.7 1964 166.8 1965.6 166.9 1967.3 167 1968.9 167 1969.7 167.1 1970.6 167.4 1972.2 167.6 1973.9 167.8 1975 167.9 1975.5 168.3 1977.2 168.6 1978.8 168.6 1979.1 168.5 1980.5 168.3 1982.1 168.1 1983.5 168.1 1983.8 167.6 1985.4 167.2 1987.1 167.5 1988.2 167.7 1988.3 168.3 1988.6 168.6 1988.7 169.4 1988.9 171.1 1989.2 173.8 1989.4 177.6 1989.7 182.8 1990 189.3 1990.3 190.7 1990.4 196.9 1990.6 205 1990.9 212.7 1991.1 219.3 1991.4 223.6 1991.7 225.1 1992Z" fill="#7FC97F" stroke="#303030" stroke-width="1.1" stroke-linejoin="round"/>
<path d="M238.7 1992 239.5 1991.6 242 1991.1 245.8 1990.7 249.3 1990.4 250.5 1990.3 255.3 1989.8 259.8 1989.4 263.7 1988.9 265.4 1988.7 266.8 1988.5 269.1 1988.1 270.7 1987.6 271.8 1987.2 272 1987.1 272.4 1986.8 272.8 1986.3 272.8 1986.3 273.4 1985.4 275.3 1983.8 277.1 1982.2 277.4 1981.6 277.7 1980.5 278.1 1978.9 278.4 1977.3 278.6 1975.6 278.8 1974 279 1972.3 279.1 1970.7 279.2 1969.7 279.3 1969.1 279.5 1967.4 279.7 1965.8 279.9 1964.2 280 1962.5 280.2 1960.9 280.3 1959.2 280.4 1957.6 280.4 1956 280.4 1955.5 280.4 1954.3 280.3 1952.7 280.2 1951 280 1949.4 279.9 1947.8 279.8 1946.1 279.8 1946.1 279.9 1944.5 280 1942.9 280.1 1941.2 280.3 1939.6 280.5 1937.9 280.8 1936.3 281.1 1934.7 281.4 1933 281.7 1931.9 281.8 1931.4 282.5 1929.8 283.4 1928.1 284.5 1926.5 285.6 1924.8 286.7 1923.2 287.1 1922.4 287.5 1921.6 288.4 1919.9 289.1 1918.3 289.9 1916.7 290.7 1915 291.4 1913.4 292.1 1911.7 292.5 1910.5 292.7 1910.1 293.4 1908.5 294 1906.8 294.7 1905.2 295.3 1903.5 295.8 1901.9 296.4 1900.3 296.8 1898.8 296.8 1898.6 297.3 1897 297.7 1895.4 298 1893.7 298.4 1892.1 298.7 1890.4 299 1888.8 299.4 1888.8 299.7 1890.4 300 1892.1 300.4 1893.7 300.7 1895.4 301.1 1897 301.6 1898.6 301.6 1898.8 302 1900.3 302.6 1901.9 303.1 1903.5 303.7 1905.2 304.4 1906.8 305 1908.5 305.7 1910.1 305.9 1910.5 306.3 1911.7 307 1913.4 307.7 1915 308.5 1916.7 309.3 1918.3 310 1919.9 310.9 1921.6 311.3 1922.4 311.7 1923.2 312.8 1924.8 313.9 1926.5 315 1928.1 315.9 1929.8 316.6 1931.4 316.7 1931.9 317 1933 317.3 1934.7 317.6 1936.3 317.9 1937.9 318.1 1939.6 318.3 1941.2 318.4 1942.9 318.5 1944.5 318.6 1946.1 318.6 1946.1 318.5 1947.8 318.4 1949.4 318.2 1951 318.1 1952.7 318 1954.3 318 1955.5 318 1956 318 1957.6 318.1 1959.2 318.2 1960.9 318.4 1962.5 318.5 1964.2 318.7 1965.8 318.9 1967.4 319.1 1969.1 319.2 1969.7 319.3 1970.7 319.4 1972.3 319.6 1974 319.8 1975.6 320 1977.3 320.3 1978.9 320.7 1980.5 321 1981.6 321.3 1982.2 323.1 1983.8 325 1985.4 325.6 1986.3 325.6 1986.3 326 1986.8 326.4 1987.1 326.6 1987.2 327.7 1987.6 329.3 1988.1 331.6 1988.5 333 1988.7 334.7 1988.9 338.6 1989.4 343.1 1989.8 347.9 1990.3 349.1 1990.4 352.6 1990.7 356.4 1991.1 358.9 1991.6 359.7 1992Z" fill="#BEAED4" stroke="#303030" stroke-width="1.1" stroke-linejoin="round"/>
<path d="M373.5 1992 374.9 1991.6 379 1991.1 385.1 1990.7 390.4 1990.4 392.4 1990.3 400 1989.8 407.1 1989.4 413.2 1988.9 415.6 1988.7 418 1988.5 421.7 1988.1 424.2 1987.6 425.8 1987.2 426 1987.1 426.8 1986.8 427.3 1986.3 427.3 1986.3 427.9 1985.5 428.5 1983.9 429.3 1982.2 430 1980.6 430.4 1979.1 430.4 1979 430.6 1977.4 430.8 1975.7 431 1974.1 431.1 1972.5 431.1 1970.9 431.2 1969.7 431.1 1969.2 431 1967.6 430.7 1966 430.5 1964.3 430.4 1962.7 430.4 1962.5 430.4 1961.1 430.6 1959.5 430.8 1957.8 431 1956.2 431.3 1954.6 431.5 1953 431.6 1951.3 431.6 1950.8 431.6 1949.7 431.6 1948.1 431.6 1946.5 431.6 1944.8 431.6 1943.2 431.6 1941.6 431.6 1939.9 431.6 1938.9 431.6 1938.3 431.8 1936.7 432.2 1935.1 432.6 1933.4 432.8 1931.9 432.8 1931.8 432.9 1930.2 433 1928.6 433 1926.9 433.1 1925.3 433.2 1923.7 433.3 1922.1 433.3 1920.4 433.4 1918.8 433.4 1917.2 433.5 1915.5 433.5 1913.9 433.6 1912.3 433.6 1910.7 433.7 1909 433.7 1907.4 433.7 1905.8 433.7 1904.2 433.8 1902.5 433.8 1900.9 433.8 1899.3 433.8 1897.7 433.8 1896 433.8 1894.4 433.8 1892.8 434.2 1892.8 434.2 1894.4 434.2 1896 434.2 1897.7 434.2 1899.3 434.2 1900.9 434.2 1902.5 434.3 1904.2 434.3 1905.8 434.3 1907.4 434.3 1909 434.4 1910.7 434.4 1912.3 434.5 1913.9 434.5 1915.5 434.6 1917.2 434.6 1918.8 434.7 1920.4 434.7 1922.1 434.8 1923.7 434.9 1925.3 435 1926.9 435 1928.6 435.1 1930.2 435.2 1931.8 435.2 1931.9 435.4 1933.4 435.8 1935.1 436.2 1936.7 436.4 1938.3 436.4 1938.9 436.4 1939.9 436.4 1941.6 436.4 1943.2 436.4 1944.8 436.4 1946.5 436.4 1948.1 436.4 1949.7 436.4 1950.8 436.4 1951.3 436.5 1953 436.7 1954.6 437 1956.2 437.2 1957.8 437.4 1959.5 437.6 1961.1 437.6 1962.5 437.6 1962.7 437.5 1964.3 437.3 1966 437 1967.6 436.9 1969.2 436.8 1969.7 436.9 1970.9 436.9 1972.5 437 1974.1 437.2 1975.7 437.4 1977.4 437.6 1979 437.6 1979.1 438 1980.6 438.7 1982.2 439.5 1983.9 440.1 1985.5 440.7 1986.3 440.7 1986.3 441.2 1986.8 442 1987.1 442.2 1987.2 443.8 1987.6 446.3 1988.1 450 1988.5 452.4 1988.7 454.8 1988.9 460.9 1989.4 468 1989.8 475.6 1990.3 477.6 1990.4 482.9 1990.7 489 1991.1 493.1 1991.6 494.5 1992Z" fill="#FDC086" stroke="#303030" stroke-width="1.1" stroke-linejoin="round"/>
<path d="M508.3 1992 510.5 1991.6 512.6 1991.1 514.7 1990.7 516.3 1990.3 516.7 1990.3 517.4 1990.1 518.6 1989.8 520.4 1989.4 522.2 1988.9 523.2 1988.7 524 1988.5 525.2 1988.2 525.9 1988.1 528.2 1987.6 530.7 1987.2 531.8 1987 533.4 1986.8 536.2 1986.3 541.7 1985.4 546.4 1984.1 547 1983.7 548.8 1982.1 550.1 1980.4 551.3 1978.7 551.9 1978.2 553.1 1977.1 555.2 1975.4 557.3 1973.8 557.9 1973.3 559.5 1972.1 561.9 1970.5 563.5 1968.8 563.7 1968.2 563.6 1967.1 563.4 1965.5 563.1 1963.8 562.8 1962.2 562.8 1961.6 562.6 1960.5 562.4 1958.9 562.3 1957.2 562.2 1955.6 562.1 1955 562.3 1953.9 562.8 1952.2 563.6 1950.6 564.4 1948.9 564.6 1948.3 564.9 1947.3 565.5 1945.6 566 1944 566.3 1942.3 566.4 1941.5 566.4 1940.6 566.4 1939 566.5 1937.3 566.5 1935.7 566.5 1934 566.5 1932.4 566.6 1931.7 566.6 1930.7 566.7 1929 566.9 1927.4 567 1925.7 567.1 1924.5 567.1 1924.1 567.2 1922.4 567.3 1920.8 567.4 1919.1 567.5 1917.4 567.5 1915.8 567.6 1914.1 570 1914.1 570.1 1915.8 570.1 1917.4 570.2 1919.1 570.3 1920.8 570.4 1922.4 570.5 1924.1 570.5 1924.5 570.6 1925.7 570.7 1927.4 570.9 1929 571 1930.7 571 1931.7 571.1 1932.4 571.1 1934 571.1 1935.7 571.1 1937.3 571.2 1939 571.2 1940.6 571.2 1941.5 571.3 1942.3 571.6 1944 572.1 1945.6 572.7 1947.3 573 1948.3 573.2 1948.9 574 1950.6 574.8 1952.2 575.3 1953.9 575.5 1955 575.4 1955.6 575.3 1957.2 575.2 1958.9 575 1960.5 574.8 1961.6 574.8 1962.2 574.5 1963.8 574.2 1965.5 574 1967.1 573.9 1968.2 574.1 1968.8 575.7 1970.5 578.1 1972.1 579.7 1973.3 580.3 1973.8 582.4 1975.4 584.5 1977.1 585.7 1978.2 586.3 1978.7 587.5 1980.4 588.8 1982.1 590.6 1983.7 591.2 1984.1 595.9 1985.4 601.4 1986.3 604.2 1986.8 605.8 1987 606.9 1987.2 609.4 1987.6 611.7 1988.1 612.4 1988.2 613.6 1988.5 614.4 1988.7 615.4 1988.9 617.2 1989.4 619 1989.8 620.2 1990.1 620.9 1990.3 621.3 1990.3 622.9 1990.7 625 1991.1 627.1 1991.6 629.3 1992Z" fill="#386CB0" stroke="#303030" stroke-width="1.1" stroke-linejoin="round"/>
<path d="M642.6 1992 645.5 1991.6 648.6 1991.1 651.9 1990.7 653.7 1990.5 655.5 1990.3 658.3 1989.9 659.2 1989.8 663.6 1989.4 668.3 1988.9 668.3 1988.9 672.8 1988.5 675.3 1988.2 676.4 1988.1 679.8 1987.6 681.4 1987.4 682.9 1987.2 685.3 1986.8 686.2 1986.5 686.7 1986.3 687.8 1985.9 690.8 1984.4 692.8 1982.8 694 1981.6 694.3 1981.3 695.7 1979.8 696.9 1978.3 697.9 1976.7 698.5 1975.2 698.6 1975 698.9 1973.7 699.2 1972.2 699.3 1970.6 699.3 1969.9 699.3 1969.1 698.8 1967.6 698.2 1966 698.1 1965 698.1 1964.5 698.5 1963 699.1 1961.5 699.3 1959.9 699.3 1959.9 699.3 1958.4 699 1956.9 698.8 1955.4 698.6 1953.8 698.6 1953.3 698.6 1952.3 698.7 1950.8 698.9 1949.3 699.2 1947.7 699.3 1946.6 699.4 1946.2 699.7 1944.7 700 1943.2 700.4 1941.6 700.7 1940.1 701 1938.6 701 1938.3 701.3 1937 701.5 1935.5 701.7 1934 701.9 1932.5 704.3 1932.5 704.5 1934 704.7 1935.5 704.9 1937 705.2 1938.3 705.2 1938.6 705.5 1940.1 705.8 1941.6 706.2 1943.2 706.5 1944.7 706.8 1946.2 706.9 1946.6 707 1947.7 707.3 1949.3 707.5 1950.8 707.6 1952.3 707.6 1953.3 707.6 1953.8 707.4 1955.4 707.2 1956.9 706.9 1958.4 706.9 1959.9 706.9 1959.9 707.1 1961.5 707.7 1963 708.1 1964.5 708.1 1965 708 1966 707.4 1967.6 706.9 1969.1 706.9 1969.9 706.9 1970.6 707 1972.2 707.3 1973.7 707.6 1975 707.7 1975.2 708.3 1976.7 709.3 1978.3 710.5 1979.8 711.9 1981.3 712.2 1981.6 713.4 1982.8 715.4 1984.4 718.4 1985.9 719.5 1986.3 720 1986.5 720.9 1986.8 723.3 1987.2 724.8 1987.4 726.4 1987.6 729.8 1988.1 730.9 1988.2 733.4 1988.5 737.9 1988.9 737.9 1988.9 742.6 1989.4 747 1989.8 747.9 1989.9 750.7 1990.3 752.5 1990.5 754.3 1990.7 757.6 1991.1 760.7 1991.6 763.6 1992Z" fill="#F0027F" stroke="#303030" stroke-width="1.1" stroke-linejoin="round"/>
<line x1="83.1" y1="1879.9" x2="83.1" y2="1998.05" stroke="#000" stroke-width="1.9"/>
<line x1="82.15" y1="1997.1" x2="783.5" y2="1997.1" stroke="#000" stroke-width="1.9"/>
<line x1="79.9" y1="1992" x2="83.1" y2="1992" stroke="#000" stroke-width="1.2"/>
<text x="74.8" y="1995.46" font-size="9.6" text-anchor="end" stroke="#000" stroke-width="0.25">0</text>
<line x1="79.9" y1="1954.2" x2="83.1" y2="1954.2" stroke="#000" stroke-width="1.2"/>
<text x="74.8" y="1957.66" font-size="9.6" text-anchor="end" stroke="#000" stroke-width="0.25">2</text>
<line x1="79.9" y1="1916.4" x2="83.1" y2="1916.4" stroke="#000" stroke-width="1.2"/>
<text x="74.8" y="1919.86" font-size="9.6" text-anchor="end" stroke="#000" stroke-width="0.25">4</text>
<line x1="164.8" y1="1997.1" x2="164.8" y2="2000.3" stroke="#000" stroke-width="1.2"/>
<text x="165.8" y="2010.1" font-size="9.6" text-anchor="middle" transform="rotate(-45 165.8 2010.1)" dominant-baseline="central" stroke="#000" stroke-width="0.25">1</text>
<line x1="299.2" y1="1997.1" x2="299.2" y2="2000.3" stroke="#000" stroke-width="1.2"/>
<text x="300.2" y="2010.1" font-size="9.6" text-anchor="middle" transform="rotate(-45 300.2 2010.1)" dominant-baseline="central" stroke="#000" stroke-width="0.25">2</text>
<line x1="434" y1="1997.1" x2="434" y2="2000.3" stroke="#000" stroke-width="1.2"/>
<text x="435" y="2010.1" font-size="9.6" text-anchor="middle" transform="rotate(-45 435 2010.1)" dominant-baseline="central" stroke="#000" stroke-width="0.25">3</text>
<line x1="568.8" y1="1997.1" x2="568.8" y2="2000.3" stroke="#000" stroke-width="1.2"/>
<text x="569.8" y="2010.1" font-size="9.6" text-anchor="middle" transform="rotate(-45 569.8 2010.1)" dominant-baseline="central" stroke="#000" stroke-width="0.25">4</text>
<line x1="703.1" y1="1997.1" x2="703.1" y2="2000.3" stroke="#000" stroke-width="1.2"/>
<text x="704.1" y="2010.1" font-size="9.6" text-anchor="middle" transform="rotate(-45 704.1 2010.1)" dominant-baseline="central" stroke="#000" stroke-width="0.25">5</text>
<text x="55.4" y="1939.9" font-size="16.5" text-anchor="middle" font-weight="bold" transform="rotate(-90 55.4 1939.9)" dominant-baseline="central">AREG</text>
<path d="M104.3 2184.6H225.3M164.8 2184.6V2079.22" stroke="#262626" stroke-width="1.0" fill="none"/>
<path d="M238.7 2184.6 241 2184.2 243.1 2183.8 245.2 2183.3 246.9 2183 247.2 2182.9 247.8 2182.8 248.9 2182.5 250.6 2182.1 252.2 2181.7 253.3 2181.3 253.7 2181.2 255.2 2180.8 256.6 2180.4 258 2180 258.9 2179.7 259.4 2179.6 260.9 2179.1 262.9 2178.6 264.9 2178.1 271.7 2176.5 275 2175.5 276.9 2174.8 280.8 2173.2 282.9 2172 283.6 2171.6 285.8 2169.9 287.8 2168.3 289.5 2166.7 290.8 2165 291.8 2163.4 292.2 2162.4 292.4 2161.8 292.9 2160.2 293.4 2158.5 293.8 2156.9 294.1 2155.3 294.4 2153.6 294.5 2152 294.6 2150.4 294.7 2149.3 294.7 2148.7 294.5 2147.1 294.2 2145.5 293.7 2143.9 293.2 2142.2 292.6 2140.6 292.1 2139 291.6 2137.3 291.3 2136.4 291.2 2135.7 290.7 2134.1 290.3 2132.5 289.8 2130.8 289.4 2129.2 289 2127.6 288.7 2125.9 288.4 2124.3 288.3 2123.4 288.2 2122.7 288.1 2121 287.9 2119.4 287.7 2117.8 287.6 2116.2 287.5 2114.5 287.4 2112.9 287.4 2111.3 287.4 2110.5 287.4 2109.6 287.5 2108 287.8 2106.4 288.1 2104.7 288.5 2103.1 288.9 2101.5 289.4 2099.9 289.9 2098.2 290.1 2097.4 290.4 2096.6 291.1 2095 292 2093.3 293 2091.7 294 2090.1 294.8 2088.5 295.1 2087.8 295.6 2086.8 296.2 2085.2 296.9 2083.6 297.5 2081.9 298.1 2080.3 298.6 2078.7 299.8 2078.7 300.3 2080.3 300.9 2081.9 301.5 2083.6 302.2 2085.2 302.8 2086.8 303.3 2087.8 303.6 2088.5 304.4 2090.1 305.4 2091.7 306.4 2093.3 307.3 2095 308 2096.6 308.3 2097.4 308.5 2098.2 309 2099.9 309.5 2101.5 309.9 2103.1 310.3 2104.7 310.6 2106.4 310.9 2108 311 2109.6 311 2110.5 311 2111.3 311 2112.9 310.9 2114.5 310.8 2116.2 310.7 2117.8 310.5 2119.4 310.3 2121 310.2 2122.7 310.1 2123.4 310 2124.3 309.7 2125.9 309.4 2127.6 309 2129.2 308.6 2130.8 308.1 2132.5 307.7 2134.1 307.2 2135.7 307.1 2136.4 306.8 2137.3 306.3 2139 305.8 2140.6 305.2 2142.2 304.7 2143.9 304.2 2145.5 303.9 2147.1 303.7 2148.7 303.7 2149.3 303.8 2150.4 303.9 2152 304 2153.6 304.3 2155.3 304.6 2156.9 305 2158.5 305.5 2160.2 306 2161.8 306.2 2162.4 306.6 2163.4 307.6 2165 308.9 2166.7 310.6 2168.3 312.6 2169.9 314.8 2171.6 315.5 2172 317.6 2173.2 321.5 2174.8 323.4 2175.5 326.7 2176.5 333.5 2178.1 335.5 2178.6 337.5 2179.1 339 2179.6 339.5 2179.7 340.4 2180 341.8 2180.4 343.2 2180.8 344.7 2181.2 345.1 2181.3 346.2 2181.7 347.8 2182.1 349.5 2182.5 350.6 2182.8 351.2 2182.9 351.5 2183 353.2 2183.3 355.3 2183.8 357.4 2184.2 359.7 2184.6Z" fill="#BEAED4" stroke="#303030" stroke-width="1.1" stroke-linejoin="round"/>
<path d="M373.5 2184.6H494.5M434 2184.6V2110.16" stroke="#262626" stroke-width="1.0" fill="none"/>
<path d="M508.3 2184.6 509.6 2184.2 513.4 2183.8 519.1 2183.5 525.9 2183.1 528.4 2183 533 2182.7 539.6 2182.3 545.3 2182 549.9 2181.6 552.4 2181.3 553.2 2181.2 555.6 2180.8 557.1 2180.4 558 2180.1 558.6 2179.7 558.6 2179.7 558.9 2179.1 559.2 2178 559.5 2176.4 560 2174.7 560.6 2173.1 560.9 2172 561.2 2171.4 562 2169.8 562.9 2168.1 563.8 2166.5 564.3 2165.5 564.5 2164.8 565.1 2163.2 565.7 2161.6 566 2159.9 566.1 2159.1 566.1 2158.3 566 2156.6 565.8 2155 565.7 2153.3 565.5 2151.7 565.4 2150 565.4 2149.3 565.4 2148.4 565.6 2146.7 565.9 2145.1 566.2 2143.4 566.4 2141.8 566.6 2140.2 566.7 2139.6 566.7 2138.5 566.8 2136.9 566.9 2135.2 566.9 2133.6 567 2131.9 567 2130.3 567.1 2128.6 567.2 2127 567.2 2126.7 567.2 2125.3 567.3 2123.7 567.4 2122 567.5 2120.4 567.6 2118.8 567.7 2117.1 567.8 2115.5 567.9 2113.8 568.1 2112.2 568.2 2110.5 569.4 2110.5 569.5 2112.2 569.7 2113.8 569.8 2115.5 569.9 2117.1 570 2118.8 570.1 2120.4 570.2 2122 570.3 2123.7 570.4 2125.3 570.4 2126.7 570.4 2127 570.5 2128.6 570.6 2130.3 570.6 2131.9 570.7 2133.6 570.7 2135.2 570.8 2136.9 570.9 2138.5 570.9 2139.6 571 2140.2 571.2 2141.8 571.4 2143.4 571.7 2145.1 572 2146.7 572.2 2148.4 572.2 2149.3 572.2 2150 572.1 2151.7 571.9 2153.3 571.8 2155 571.6 2156.6 571.5 2158.3 571.5 2159.1 571.6 2159.9 571.9 2161.6 572.5 2163.2 573.1 2164.8 573.3 2165.5 573.8 2166.5 574.7 2168.1 575.6 2169.8 576.4 2171.4 576.7 2172 577 2173.1 577.6 2174.7 578.1 2176.4 578.4 2178 578.7 2179.1 579 2179.7 579 2179.7 579.6 2180.1 580.5 2180.4 582 2180.8 584.4 2181.2 585.2 2181.3 587.7 2181.6 592.3 2182 598 2182.3 604.6 2182.7 609.2 2183 611.7 2183.1 618.5 2183.5 624.2 2183.8 628 2184.2 629.3 2184.6Z" fill="#386CB0" stroke="#303030" stroke-width="1.1" stroke-linejoin="round"/>
<path d="M642.6 2184.6 644.8 2184.2 646.9 2183.8 648.9 2183.3 650.7 2183 650.9 2182.9 652.7 2182.5 654.5 2182.1 655.3 2181.9 656.1 2181.7 657.4 2181.3 657.6 2181.2 659.1 2180.8 660.5 2180.4 661.8 2180 662.8 2179.7 663.1 2179.6 664.4 2179.1 664.4 2179.1 667.7 2178 672.1 2176.4 674.7 2175.3 676 2174.7 679.4 2173.1 682.4 2171.4 683.1 2170.9 684.8 2169.8 686.8 2168.2 688.5 2166.5 689.2 2165.7 689.8 2164.9 690.8 2163.2 691.8 2161.6 692.6 2159.9 693.3 2158.3 693.8 2156.6 694 2155.8 694.2 2155 694.5 2153.3 694.7 2151.7 694.9 2150.1 695.1 2148.4 695.4 2146.8 695.5 2146.2 695.8 2145.1 696.5 2143.5 697.3 2141.8 697.7 2140.9 697.9 2140.2 698.5 2138.5 698.9 2136.9 699 2136.4 699.3 2135.2 699.5 2133.6 699.8 2132 700 2130.3 700.2 2128.7 700.4 2127 700.5 2125.4 700.7 2123.7 700.7 2123.4 700.8 2122.1 700.9 2120.4 701 2118.8 701.1 2117.2 701.2 2115.5 701.2 2113.9 701.3 2112.2 701.3 2111.8 701.3 2110.6 701.3 2108.9 701.4 2107.3 701.4 2105.6 701.4 2104 701.5 2102.3 701.5 2100.7 701.5 2099.1 704.7 2099.1 704.7 2100.7 704.7 2102.3 704.8 2104 704.8 2105.6 704.8 2107.3 704.9 2108.9 704.9 2110.6 704.9 2111.8 704.9 2112.2 705 2113.9 705 2115.5 705.1 2117.2 705.2 2118.8 705.3 2120.4 705.4 2122.1 705.5 2123.4 705.5 2123.7 705.7 2125.4 705.8 2127 706 2128.7 706.2 2130.3 706.4 2132 706.7 2133.6 706.9 2135.2 707.2 2136.4 707.3 2136.9 707.7 2138.5 708.3 2140.2 708.5 2140.9 708.9 2141.8 709.7 2143.5 710.4 2145.1 710.7 2146.2 710.8 2146.8 711.1 2148.4 711.3 2150.1 711.5 2151.7 711.7 2153.3 712 2155 712.2 2155.8 712.4 2156.6 712.9 2158.3 713.6 2159.9 714.4 2161.6 715.4 2163.2 716.4 2164.9 717 2165.7 717.7 2166.5 719.4 2168.2 721.4 2169.8 723.1 2170.9 723.8 2171.4 726.8 2173.1 730.2 2174.7 731.5 2175.3 734.1 2176.4 738.5 2178 741.8 2179.1 741.8 2179.1 743.1 2179.6 743.4 2179.7 744.4 2180 745.7 2180.4 747.1 2180.8 748.6 2181.2 748.8 2181.3 750.1 2181.7 750.9 2181.9 751.7 2182.1 753.5 2182.5 755.3 2182.9 755.5 2183 757.3 2183.3 759.3 2183.8 761.4 2184.2 763.6 2184.6Z" fill="#F0027F" stroke="#303030" stroke-width="1.1" stroke-linejoin="round"/>
<line x1="83.1" y1="2072.4" x2="83.1" y2="2190.15" stroke="#000" stroke-width="1.9"/>
<line x1="82.15" y1="2189.2" x2="783.5" y2="2189.2" stroke="#000" stroke-width="1.9"/>
<line x1="79.9" y1="2184.6" x2="83.1" y2="2184.6" stroke="#000" stroke-width="1.2"/>
<text x="74.8" y="2188.06" font-size="9.6" text-anchor="end" stroke="#000" stroke-width="0.25">0</text>
<line x1="79.9" y1="2148.2" x2="83.1" y2="2148.2" stroke="#000" stroke-width="1.2"/>
<text x="74.8" y="2151.66" font-size="9.6" text-anchor="end" stroke="#000" stroke-width="0.25">2</text>
<line x1="79.9" y1="2111.8" x2="83.1" y2="2111.8" stroke="#000" stroke-width="1.2"/>
<text x="74.8" y="2115.26" font-size="9.6" text-anchor="end" stroke="#000" stroke-width="0.25">4</text>
<line x1="79.9" y1="2075.4" x2="83.1" y2="2075.4" stroke="#000" stroke-width="1.2"/>
<text x="74.8" y="2078.86" font-size="9.6" text-anchor="end" stroke="#000" stroke-width="0.25">6</text>
<line x1="164.8" y1="2189.2" x2="164.8" y2="2192.4" stroke="#000" stroke-width="1.2"/>
<text x="165.8" y="2202.2" font-size="9.6" text-anchor="middle" transform="rotate(-45 165.8 2202.2)" dominant-baseline="central" stroke="#000" stroke-width="0.25">1</text>
<line x1="299.2" y1="2189.2" x2="299.2" y2="2192.4" stroke="#000" stroke-width="1.2"/>
<text x="300.2" y="2202.2" font-size="9.6" text-anchor="middle" transform="rotate(-45 300.2 2202.2)" dominant-baseline="central" stroke="#000" stroke-width="0.25">2</text>
<line x1="434" y1="2189.2" x2="434" y2="2192.4" stroke="#000" stroke-width="1.2"/>
<text x="435" y="2202.2" font-size="9.6" text-anchor="middle" transform="rotate(-45 435 2202.2)" dominant-baseline="central" stroke="#000" stroke-width="0.25">3</text>
<line x1="568.8" y1="2189.2" x2="568.8" y2="2192.4" stroke="#000" stroke-width="1.2"/>
<text x="569.8" y="2202.2" font-size="9.6" text-anchor="middle" transform="rotate(-45 569.8 2202.2)" dominant-baseline="central" stroke="#000" stroke-width="0.25">4</text>
<line x1="703.1" y1="2189.2" x2="703.1" y2="2192.4" stroke="#000" stroke-width="1.2"/>
<text x="704.1" y="2202.2" font-size="9.6" text-anchor="middle" transform="rotate(-45 704.1 2202.2)" dominant-baseline="central" stroke="#000" stroke-width="0.25">5</text>
<text x="55.4" y="2132.4" font-size="16.5" text-anchor="middle" font-weight="bold" transform="rotate(-90 55.4 2132.4)" dominant-baseline="central">FN1</text>
<path d="M1070.1 1027.6H1163.3M1116.7 1027.6V956.1" stroke="#262626" stroke-width="1.0" fill="none"/>
<path d="M1173.7 1027.6H1266.9M1220.3 1027.6V958.6" stroke="#262626" stroke-width="1.0" fill="none"/>
<path d="M1277.2 1027.6H1370.4M1323.8 1027.6V1009.85" stroke="#262626" stroke-width="1.0" fill="none"/>
<path d="M1381.2 1027.6H1474.4M1427.8 1027.6V1011.1" stroke="#262626" stroke-width="1.0" fill="none"/>
<path d="M1484.7 1027.6 1486.4 1027 1488.1 1026.4 1489.4 1025.9 1489.6 1025.9 1490.3 1025.6 1491 1025.3 1492.3 1024.7 1493.2 1024.3 1493.5 1024.1 1494.7 1023.6 1496 1023 1496.3 1022.8 1497 1022.6 1497.6 1022.4 1499.7 1021.8 1502 1021.3 1503.1 1021 1504.2 1020.7 1506.3 1020.1 1508.6 1019.3 1509.4 1018.8 1510.7 1017.7 1511.7 1016 1511.7 1015.8 1511.7 1014.3 1511.7 1012.7 1511.7 1011 1511.7 1009.8 1511.8 1009.4 1512.6 1007.7 1513.9 1006.1 1514.1 1005.8 1515.2 1004.4 1516.8 1002.8 1518.5 1001.1 1519.6 999.8 1520 999.4 1521.6 997.8 1523.1 996.1 1524.4 994.5 1524.8 993.8 1525.3 992.8 1526.2 991.2 1526.7 989.5 1526.8 988.8 1526.9 987.8 1527.1 986.2 1527.1 984.5 1527.2 982.9 1527.3 981.8 1527.3 981.2 1527.4 979.6 1527.6 977.9 1527.7 976.3 1527.8 974.8 1527.8 974.6 1528 972.9 1528.3 971.3 1528.5 969.6 1528.8 968 1528.8 967.8 1529.1 966.3 1529.3 964.7 1529.6 963 1529.8 961.8 1529.9 961.3 1530.3 959.7 1530.6 958 1530.6 957.8 1530.7 956.4 1530.9 954.7 1531 953.1 1531 951.4 1531.1 949.8 1531.1 948.1 1531.5 948.1 1531.5 949.8 1531.6 951.4 1531.6 953.1 1531.7 954.7 1531.9 956.4 1532 957.8 1532 958 1532.3 959.7 1532.7 961.3 1532.8 961.8 1533 963 1533.3 964.7 1533.5 966.3 1533.8 967.8 1533.8 968 1534.1 969.6 1534.3 971.3 1534.6 972.9 1534.8 974.6 1534.8 974.8 1534.9 976.3 1535 977.9 1535.2 979.6 1535.3 981.2 1535.3 981.8 1535.4 982.9 1535.5 984.5 1535.5 986.2 1535.7 987.8 1535.8 988.8 1535.9 989.5 1536.4 991.2 1537.3 992.8 1537.8 993.8 1538.2 994.5 1539.5 996.1 1541 997.8 1542.6 999.4 1543 999.8 1544.1 1001.1 1545.8 1002.8 1547.4 1004.4 1548.5 1005.8 1548.7 1006.1 1550 1007.7 1550.8 1009.4 1550.9 1009.8 1550.9 1011 1550.9 1012.7 1550.9 1014.3 1550.9 1015.8 1550.9 1016 1551.9 1017.7 1553.2 1018.8 1554 1019.3 1556.3 1020.1 1558.4 1020.7 1559.5 1021 1560.6 1021.3 1562.9 1021.8 1565 1022.4 1565.6 1022.6 1566.2 1022.8 1566.6 1023 1567.9 1023.6 1569.1 1024.1 1569.4 1024.3 1570.3 1024.7 1571.6 1025.3 1572.3 1025.6 1573 1025.9 1573.2 1025.9 1574.5 1026.4 1576.2 1027 1577.9 1027.6Z" fill="#F0027F" stroke="#303030" stroke-width="0.9" stroke-linejoin="round"/>
<line x1="1054.5" y1="944.7" x2="1054.5" y2="1031.85" stroke="#000" stroke-width="1.7"/>
<line x1="1053.65" y1="1031" x2="1593.6" y2="1031" stroke="#000" stroke-width="1.7"/>
<line x1="1051.3" y1="1027.6" x2="1054.5" y2="1027.6" stroke="#000" stroke-width="1.2"/>
<text x="1048.7" y="1030.55" font-size="8.2" text-anchor="end" stroke="#000" stroke-width="0.25">0</text>
<line x1="1051.3" y1="1002.6" x2="1054.5" y2="1002.6" stroke="#000" stroke-width="1.2"/>
<text x="1048.7" y="1005.55" font-size="8.2" text-anchor="end" stroke="#000" stroke-width="0.25">1</text>
<line x1="1051.3" y1="977.6" x2="1054.5" y2="977.6" stroke="#000" stroke-width="1.2"/>
<text x="1048.7" y="980.55" font-size="8.2" text-anchor="end" stroke="#000" stroke-width="0.25">2</text>
<line x1="1051.3" y1="952.6" x2="1054.5" y2="952.6" stroke="#000" stroke-width="1.2"/>
<text x="1048.7" y="955.55" font-size="8.2" text-anchor="end" stroke="#000" stroke-width="0.25">3</text>
<line x1="1116.7" y1="1031" x2="1116.7" y2="1034.2" stroke="#000" stroke-width="1.2"/>
<text x="1117.7" y="1041.8" font-size="8.2" text-anchor="middle" transform="rotate(-45 1117.7 1041.8)" dominant-baseline="central" stroke="#000" stroke-width="0.25">1</text>
<line x1="1220.3" y1="1031" x2="1220.3" y2="1034.2" stroke="#000" stroke-width="1.2"/>
<text x="1221.3" y="1041.8" font-size="8.2" text-anchor="middle" transform="rotate(-45 1221.3 1041.8)" dominant-baseline="central" stroke="#000" stroke-width="0.25">2</text>
<line x1="1323.8" y1="1031" x2="1323.8" y2="1034.2" stroke="#000" stroke-width="1.2"/>
<text x="1324.8" y="1041.8" font-size="8.2" text-anchor="middle" transform="rotate(-45 1324.8 1041.8)" dominant-baseline="central" stroke="#000" stroke-width="0.25">3</text>
<line x1="1427.8" y1="1031" x2="1427.8" y2="1034.2" stroke="#000" stroke-width="1.2"/>
<text x="1428.8" y="1041.8" font-size="8.2" text-anchor="middle" transform="rotate(-45 1428.8 1041.8)" dominant-baseline="central" stroke="#000" stroke-width="0.25">4</text>
<line x1="1531.3" y1="1031" x2="1531.3" y2="1034.2" stroke="#000" stroke-width="1.2"/>
<text x="1532.3" y="1041.8" font-size="8.2" text-anchor="middle" transform="rotate(-45 1532.3 1041.8)" dominant-baseline="central" stroke="#000" stroke-width="0.25">5</text>
<text x="1032.6" y="988.9" font-size="12.5" text-anchor="middle" font-weight="bold" transform="rotate(-90 1032.6 988.9)" dominant-baseline="central">COL1A1</text>
<path d="M1070.1 1148H1163.3M1116.7 1148V1071.9" stroke="#262626" stroke-width="1.0" fill="none"/>
<path d="M1173.7 1148H1266.9M1220.3 1148V1077.44" stroke="#262626" stroke-width="1.0" fill="none"/>
<path d="M1277.2 1148H1370.4M1323.8 1148V1073.16" stroke="#262626" stroke-width="1.0" fill="none"/>
<path d="M1381.2 1148H1474.4M1427.8 1148V1120.53" stroke="#262626" stroke-width="1.0" fill="none"/>
<path d="M1502.4 1148 1501.8 1147.4 1501.2 1146.8 1500.7 1146.4 1500.6 1146.3 1500 1145.7 1499.3 1145.1 1498.9 1144.7 1498.7 1144.5 1498.1 1143.9 1497.4 1143.3 1497.2 1143.1 1496.8 1142.8 1496.2 1142.2 1495.5 1141.6 1495.3 1141.4 1494.9 1141 1494.2 1140.4 1493.5 1139.8 1491.9 1138.4 1491.6 1138.2 1489.2 1136.5 1486.7 1134.9 1485 1133.3 1484.7 1132.4 1484.9 1131.6 1486.6 1130 1488.9 1128.3 1489.8 1127.6 1490.9 1126.7 1493.1 1125.1 1495.3 1123.4 1497.5 1121.8 1499.4 1120.2 1500.1 1119.5 1501.1 1118.5 1502.8 1116.9 1504.1 1115.2 1504.7 1113.6 1504.7 1113.5 1504.7 1112 1504.7 1110.3 1504.7 1108.7 1504.7 1107 1504.7 1105.4 1504.7 1104.7 1504.8 1103.8 1505.1 1102.1 1505.7 1100.5 1506.4 1098.9 1507.1 1097.6 1507.3 1097.2 1508.7 1095.6 1510.6 1093.9 1512.8 1092.3 1514.8 1090.7 1515.9 1089.5 1516.4 1089 1517.8 1087.4 1519.2 1085.8 1520.4 1084.1 1521.5 1082.5 1522 1081.5 1522.3 1080.8 1523 1079.2 1523.5 1077.6 1524 1075.9 1524.3 1074.7 1524.4 1074.3 1524.7 1072.7 1524.9 1071 1525.1 1069.4 1537.5 1069.4 1537.7 1071 1537.9 1072.7 1538.2 1074.3 1538.3 1074.7 1538.6 1075.9 1539.1 1077.6 1539.6 1079.2 1540.3 1080.8 1540.6 1081.5 1541.1 1082.5 1542.2 1084.1 1543.4 1085.8 1544.8 1087.4 1546.2 1089 1546.7 1089.5 1547.8 1090.7 1549.8 1092.3 1552 1093.9 1553.9 1095.6 1555.3 1097.2 1555.5 1097.6 1556.2 1098.9 1556.9 1100.5 1557.5 1102.1 1557.8 1103.8 1557.9 1104.7 1557.9 1105.4 1557.9 1107 1557.9 1108.7 1557.9 1110.3 1557.9 1112 1557.9 1113.5 1557.9 1113.6 1558.5 1115.2 1559.8 1116.9 1561.5 1118.5 1562.5 1119.5 1563.2 1120.2 1565.1 1121.8 1567.3 1123.4 1569.5 1125.1 1571.7 1126.7 1572.8 1127.6 1573.7 1128.3 1576 1130 1577.7 1131.6 1577.9 1132.4 1577.6 1133.3 1575.9 1134.9 1573.4 1136.5 1571 1138.2 1570.7 1138.4 1569.1 1139.8 1568.4 1140.4 1567.7 1141 1567.3 1141.4 1567.1 1141.6 1566.4 1142.2 1565.8 1142.8 1565.4 1143.1 1565.2 1143.3 1564.5 1143.9 1563.9 1144.5 1563.7 1144.7 1563.3 1145.1 1562.6 1145.7 1562 1146.3 1561.9 1146.4 1561.4 1146.8 1560.8 1147.4 1560.2 1148Z" fill="#F0027F" stroke="#303030" stroke-width="0.9" stroke-linejoin="round"/>
<line x1="1054.5" y1="1064.7" x2="1054.5" y2="1151.85" stroke="#000" stroke-width="1.7"/>
<line x1="1053.65" y1="1151" x2="1593.6" y2="1151" stroke="#000" stroke-width="1.7"/>
<line x1="1051.3" y1="1148" x2="1054.5" y2="1148" stroke="#000" stroke-width="1.2"/>
<text x="1048.7" y="1150.95" font-size="8.2" text-anchor="end" stroke="#000" stroke-width="0.25">0</text>
<line x1="1051.3" y1="1122.8" x2="1054.5" y2="1122.8" stroke="#000" stroke-width="1.2"/>
<text x="1048.7" y="1125.75" font-size="8.2" text-anchor="end" stroke="#000" stroke-width="0.25">1</text>
<line x1="1051.3" y1="1097.6" x2="1054.5" y2="1097.6" stroke="#000" stroke-width="1.2"/>
<text x="1048.7" y="1100.55" font-size="8.2" text-anchor="end" stroke="#000" stroke-width="0.25">2</text>
<line x1="1051.3" y1="1072.4" x2="1054.5" y2="1072.4" stroke="#000" stroke-width="1.2"/>
<text x="1048.7" y="1075.35" font-size="8.2" text-anchor="end" stroke="#000" stroke-width="0.25">3</text>
<line x1="1116.7" y1="1151" x2="1116.7" y2="1154.2" stroke="#000" stroke-width="1.2"/>
<line x1="1220.3" y1="1151" x2="1220.3" y2="1154.2" stroke="#000" stroke-width="1.2"/>
<line x1="1323.8" y1="1151" x2="1323.8" y2="1154.2" stroke="#000" stroke-width="1.2"/>
<line x1="1427.8" y1="1151" x2="1427.8" y2="1154.2" stroke="#000" stroke-width="1.2"/>
<line x1="1531.3" y1="1151" x2="1531.3" y2="1154.2" stroke="#000" stroke-width="1.2"/>
<text x="1032.6" y="1108.9" font-size="12.5" text-anchor="middle" font-weight="bold" transform="rotate(-90 1032.6 1108.9)" dominant-baseline="central">COL1A2</text>
<path d="M1068.9 1275.3H1162.1M1115.5 1275.3V1188.57" stroke="#262626" stroke-width="1.0" fill="none"/>
<path d="M1172 1275.3H1265.2M1218.6 1275.3V1195.36" stroke="#262626" stroke-width="1.0" fill="none"/>
<path d="M1275.1 1275.3H1368.3M1321.7 1275.3V1241.96" stroke="#262626" stroke-width="1.0" fill="none"/>
<path d="M1378.2 1275.3H1471.4M1424.8 1275.3V1239.9" stroke="#262626" stroke-width="1.0" fill="none"/>
<path d="M1481.4 1275.3H1574.6M1528 1275.3V1193.59" stroke="#262626" stroke-width="1.0" fill="none"/>
<line x1="1053.6" y1="1184.4" x2="1053.6" y2="1280.85" stroke="#000" stroke-width="1.7"/>
<line x1="1052.75" y1="1280" x2="1590.2" y2="1280" stroke="#000" stroke-width="1.7"/>
<line x1="1050.4" y1="1275.3" x2="1053.6" y2="1275.3" stroke="#000" stroke-width="1.2"/>
<text x="1047.8" y="1278.25" font-size="8.2" text-anchor="end" stroke="#000" stroke-width="0.25">0</text>
<line x1="1050.4" y1="1245.8" x2="1053.6" y2="1245.8" stroke="#000" stroke-width="1.2"/>
<text x="1047.8" y="1248.75" font-size="8.2" text-anchor="end" stroke="#000" stroke-width="0.25">1</text>
<line x1="1050.4" y1="1216.3" x2="1053.6" y2="1216.3" stroke="#000" stroke-width="1.2"/>
<text x="1047.8" y="1219.25" font-size="8.2" text-anchor="end" stroke="#000" stroke-width="0.25">2</text>
<line x1="1050.4" y1="1186.8" x2="1053.6" y2="1186.8" stroke="#000" stroke-width="1.2"/>
<text x="1047.8" y="1189.75" font-size="8.2" text-anchor="end" stroke="#000" stroke-width="0.25">3</text>
<line x1="1115.5" y1="1280" x2="1115.5" y2="1283.2" stroke="#000" stroke-width="1.2"/>
<text x="1116.5" y="1290.8" font-size="8.2" text-anchor="middle" transform="rotate(-45 1116.5 1290.8)" dominant-baseline="central" stroke="#000" stroke-width="0.25">1</text>
<line x1="1218.6" y1="1280" x2="1218.6" y2="1283.2" stroke="#000" stroke-width="1.2"/>
<text x="1219.6" y="1290.8" font-size="8.2" text-anchor="middle" transform="rotate(-45 1219.6 1290.8)" dominant-baseline="central" stroke="#000" stroke-width="0.25">2</text>
<line x1="1321.7" y1="1280" x2="1321.7" y2="1283.2" stroke="#000" stroke-width="1.2"/>
<text x="1322.7" y="1290.8" font-size="8.2" text-anchor="middle" transform="rotate(-45 1322.7 1290.8)" dominant-baseline="central" stroke="#000" stroke-width="0.25">3</text>
<line x1="1424.8" y1="1280" x2="1424.8" y2="1283.2" stroke="#000" stroke-width="1.2"/>
<text x="1425.8" y="1290.8" font-size="8.2" text-anchor="middle" transform="rotate(-45 1425.8 1290.8)" dominant-baseline="central" stroke="#000" stroke-width="0.25">4</text>
<line x1="1528" y1="1280" x2="1528" y2="1283.2" stroke="#000" stroke-width="1.2"/>
<text x="1529" y="1290.8" font-size="8.2" text-anchor="middle" transform="rotate(-45 1529 1290.8)" dominant-baseline="central" stroke="#000" stroke-width="0.25">5</text>
<text x="1032.6" y="1231.5" font-size="12.5" text-anchor="middle" font-weight="bold" transform="rotate(-90 1032.6 1231.5)" dominant-baseline="central">MYH11</text>
<path d="M1076.6 1429.4H1168.6M1122.6 1429.4V1341.96" stroke="#262626" stroke-width="1.0" fill="none"/>
<path d="M1178 1429.4H1270M1224 1429.4V1392.23" stroke="#262626" stroke-width="1.0" fill="none"/>
<path d="M1279.5 1429.4H1371.5M1325.5 1429.4V1392.23" stroke="#262626" stroke-width="1.0" fill="none"/>
<path d="M1381 1429.4H1473M1427 1429.4V1410.99" stroke="#262626" stroke-width="1.0" fill="none"/>
<path d="M1482.4 1429.4H1574.4M1528.4 1429.4V1355.77" stroke="#262626" stroke-width="1.0" fill="none"/>
<line x1="1061.2" y1="1338" x2="1061.2" y2="1433.55" stroke="#000" stroke-width="1.7"/>
<line x1="1060.35" y1="1432.7" x2="1590.2" y2="1432.7" stroke="#000" stroke-width="1.7"/>
<line x1="1058" y1="1429.4" x2="1061.2" y2="1429.4" stroke="#000" stroke-width="1.2"/>
<text x="1055.4" y="1432.35" font-size="8.2" text-anchor="end" stroke="#000" stroke-width="0.25">0.0</text>
<line x1="1058" y1="1411.7" x2="1061.2" y2="1411.7" stroke="#000" stroke-width="1.2"/>
<text x="1055.4" y="1414.65" font-size="8.2" text-anchor="end" stroke="#000" stroke-width="0.25">0.5</text>
<line x1="1058" y1="1394" x2="1061.2" y2="1394" stroke="#000" stroke-width="1.2"/>
<text x="1055.4" y="1396.95" font-size="8.2" text-anchor="end" stroke="#000" stroke-width="0.25">1.0</text>
<line x1="1058" y1="1376.3" x2="1061.2" y2="1376.3" stroke="#000" stroke-width="1.2"/>
<text x="1055.4" y="1379.25" font-size="8.2" text-anchor="end" stroke="#000" stroke-width="0.25">1.5</text>
<line x1="1058" y1="1358.6" x2="1061.2" y2="1358.6" stroke="#000" stroke-width="1.2"/>
<text x="1055.4" y="1361.55" font-size="8.2" text-anchor="end" stroke="#000" stroke-width="0.25">2.0</text>
<line x1="1058" y1="1340.9" x2="1061.2" y2="1340.9" stroke="#000" stroke-width="1.2"/>
<text x="1055.4" y="1343.85" font-size="8.2" text-anchor="end" stroke="#000" stroke-width="0.25">2.5</text>
<line x1="1122.6" y1="1432.7" x2="1122.6" y2="1435.9" stroke="#000" stroke-width="1.2"/>
<text x="1123.6" y="1443.5" font-size="8.2" text-anchor="middle" transform="rotate(-45 1123.6 1443.5)" dominant-baseline="central" stroke="#000" stroke-width="0.25">1</text>
<line x1="1224" y1="1432.7" x2="1224" y2="1435.9" stroke="#000" stroke-width="1.2"/>
<text x="1225" y="1443.5" font-size="8.2" text-anchor="middle" transform="rotate(-45 1225 1443.5)" dominant-baseline="central" stroke="#000" stroke-width="0.25">2</text>
<line x1="1325.5" y1="1432.7" x2="1325.5" y2="1435.9" stroke="#000" stroke-width="1.2"/>
<text x="1326.5" y="1443.5" font-size="8.2" text-anchor="middle" transform="rotate(-45 1326.5 1443.5)" dominant-baseline="central" stroke="#000" stroke-width="0.25">3</text>
<line x1="1427" y1="1432.7" x2="1427" y2="1435.9" stroke="#000" stroke-width="1.2"/>
<text x="1428" y="1443.5" font-size="8.2" text-anchor="middle" transform="rotate(-45 1428 1443.5)" dominant-baseline="central" stroke="#000" stroke-width="0.25">4</text>
<line x1="1528.4" y1="1432.7" x2="1528.4" y2="1435.9" stroke="#000" stroke-width="1.2"/>
<text x="1529.4" y="1443.5" font-size="8.2" text-anchor="middle" transform="rotate(-45 1529.4 1443.5)" dominant-baseline="central" stroke="#000" stroke-width="0.25">5</text>
<text x="1032.6" y="1387.3" font-size="12.5" text-anchor="middle" font-weight="bold" transform="rotate(-90 1032.6 1387.3)" dominant-baseline="central">CNN1</text>
<rect x="981.2" y="640" width="53.68" height="53.6" fill="#FF6868"/>
<rect x="1034.88" y="640" width="53.68" height="53.6" fill="#0C0CFF"/>
<rect x="1088.56" y="640" width="53.68" height="53.6" fill="#FFA6A6"/>
<rect x="1142.24" y="640" width="53.68" height="53.6" fill="#FFF0F0"/>
<rect x="1195.92" y="640" width="53.68" height="53.6" fill="#FCFCFF"/>
<rect x="981.2" y="693.6" width="53.68" height="53.6" fill="#4444FF"/>
<rect x="1034.88" y="693.6" width="53.68" height="53.6" fill="#FF1E1E"/>
<rect x="1088.56" y="693.6" width="53.68" height="53.6" fill="#C0C0FF"/>
<rect x="1142.24" y="693.6" width="53.68" height="53.6" fill="#FFE0E0"/>
<rect x="1195.92" y="693.6" width="53.68" height="53.6" fill="#FCFCFF"/>
<rect x="981.2" y="747.2" width="53.68" height="53.6" fill="#4444FF"/>
<rect x="1034.88" y="747.2" width="53.68" height="53.6" fill="#FF2525"/>
<rect x="1088.56" y="747.2" width="53.68" height="53.6" fill="#B8B8FF"/>
<rect x="1142.24" y="747.2" width="53.68" height="53.6" fill="#FFE5E5"/>
<rect x="1195.92" y="747.2" width="53.68" height="53.6" fill="#FFF2F2"/>
<rect x="981.2" y="800.8" width="53.68" height="53.6" fill="#4848FF"/>
<rect x="1034.88" y="800.8" width="53.68" height="53.6" fill="#FF2E2E"/>
<rect x="1088.56" y="800.8" width="53.68" height="53.6" fill="#9C9CFF"/>
<rect x="1142.24" y="800.8" width="53.68" height="53.6" fill="#FFE5E5"/>
<rect x="1195.92" y="800.8" width="53.68" height="53.6" fill="#FFC2C2"/>
<rect x="981.2" y="854.4" width="53.68" height="53.6" fill="#E5E5FF"/>
<rect x="1034.88" y="854.4" width="53.68" height="53.6" fill="#FF0000"/>
<rect x="1088.56" y="854.4" width="53.68" height="53.6" fill="#8888FF"/>
<rect x="1142.24" y="854.4" width="53.68" height="53.6" fill="#9C9CFF"/>
<rect x="1195.92" y="854.4" width="53.68" height="53.6" fill="#ECECFF"/>
<line x1="1034.88" y1="640" x2="1034.88" y2="908" stroke="#fff" stroke-width="1.3"/>
<line x1="1088.56" y1="640" x2="1088.56" y2="908" stroke="#fff" stroke-width="1.3"/>
<line x1="1142.24" y1="640" x2="1142.24" y2="908" stroke="#fff" stroke-width="1.3"/>
<line x1="1195.92" y1="640" x2="1195.92" y2="908" stroke="#fff" stroke-width="1.3"/>
<line x1="981.2" y1="693.6" x2="1249.6" y2="693.6" stroke="#fff" stroke-width="1.3"/>
<line x1="981.2" y1="747.2" x2="1249.6" y2="747.2" stroke="#fff" stroke-width="1.3"/>
<line x1="981.2" y1="800.8" x2="1249.6" y2="800.8" stroke="#fff" stroke-width="1.3"/>
<line x1="981.2" y1="854.4" x2="1249.6" y2="854.4" stroke="#fff" stroke-width="1.3"/>
<text x="1254.5" y="674" font-size="20">Proliferation</text>
<text x="1254.5" y="727.6" font-size="20">Anti-inflammatory</text>
<text x="1254.5" y="781.2" font-size="20">M1-Polarization</text>
<text x="1254.5" y="834.8" font-size="20">Pro-inflammatory</text>
<text x="1254.5" y="888.4" font-size="20">M2-Polarization</text>
<text x="1008.04" y="913.3" font-size="20" transform="rotate(90 1008.04 913.3)" dominant-baseline="central">1</text>
<text x="1061.72" y="913.3" font-size="20" transform="rotate(90 1061.72 913.3)" dominant-baseline="central">2</text>
<text x="1115.4" y="913.3" font-size="20" transform="rotate(90 1115.4 913.3)" dominant-baseline="central">3</text>
<text x="1169.08" y="913.3" font-size="20" transform="rotate(90 1169.08 913.3)" dominant-baseline="central">4</text>
<text x="1222.76" y="913.3" font-size="20" transform="rotate(90 1222.76 913.3)" dominant-baseline="central">5</text>
<defs><linearGradient id="gE" x1="0" y1="1" x2="0" y2="0"><stop offset="0" stop-color="#0000ff"/><stop offset="0.5" stop-color="#ffffff"/><stop offset="1" stop-color="#ff0000"/></linearGradient><linearGradient id="gH" x1="0" y1="1" x2="0" y2="0"><stop offset="0" stop-color="#0000ff"/><stop offset="0.5" stop-color="#ffffff"/><stop offset="1" stop-color="#ff0000"/></linearGradient></defs>
<rect x="1421.4" y="639.8" width="12.6" height="201.6" fill="url(#gE)"/>
<text x="1440" y="659.8" font-size="20">1.5</text>
<text x="1440" y="689.6" font-size="20">1</text>
<text x="1440" y="718.7" font-size="20">0.5</text>
<text x="1440" y="748.5" font-size="20">0</text>
<text x="1440" y="778.3" font-size="20">-0.5</text>
<text x="1440" y="807.4" font-size="20">-1</text>
<text x="1440" y="837.2" font-size="20">-1.5</text>
<rect x="1108" y="1508" width="25.96" height="26.1" fill="#F4F5FF"/>
<rect x="1133.66" y="1508" width="25.96" height="26.1" fill="#FF1010"/>
<rect x="1159.32" y="1508" width="25.96" height="26.1" fill="#6B6BFF"/>
<rect x="1184.98" y="1508" width="25.96" height="26.1" fill="#9898FF"/>
<rect x="1210.64" y="1508" width="25.96" height="26.1" fill="#ABABFF"/>
<rect x="1108" y="1533.8" width="25.96" height="26.1" fill="#FFEEEE"/>
<rect x="1133.66" y="1533.8" width="25.96" height="26.1" fill="#FF1818"/>
<rect x="1159.32" y="1533.8" width="25.96" height="26.1" fill="#8282FF"/>
<rect x="1184.98" y="1533.8" width="25.96" height="26.1" fill="#A8A8FF"/>
<rect x="1210.64" y="1533.8" width="25.96" height="26.1" fill="#7E7EFF"/>
<rect x="1108" y="1559.6" width="25.96" height="26.1" fill="#FFDDDD"/>
<rect x="1133.66" y="1559.6" width="25.96" height="26.1" fill="#FF1818"/>
<rect x="1159.32" y="1559.6" width="25.96" height="26.1" fill="#8686FF"/>
<rect x="1184.98" y="1559.6" width="25.96" height="26.1" fill="#8686FF"/>
<rect x="1210.64" y="1559.6" width="25.96" height="26.1" fill="#8A8AFF"/>
<rect x="1108" y="1585.4" width="25.96" height="26.1" fill="#8C8CFF"/>
<rect x="1133.66" y="1585.4" width="25.96" height="26.1" fill="#FF0000"/>
<rect x="1159.32" y="1585.4" width="25.96" height="26.1" fill="#AFAFFF"/>
<rect x="1184.98" y="1585.4" width="25.96" height="26.1" fill="#A4A4FF"/>
<rect x="1210.64" y="1585.4" width="25.96" height="26.1" fill="#B5B5FF"/>
<rect x="1108" y="1611.2" width="25.96" height="26.1" fill="#A0A0FF"/>
<rect x="1133.66" y="1611.2" width="25.96" height="26.1" fill="#FF0000"/>
<rect x="1159.32" y="1611.2" width="25.96" height="26.1" fill="#A2A2FF"/>
<rect x="1184.98" y="1611.2" width="25.96" height="26.1" fill="#A2A2FF"/>
<rect x="1210.64" y="1611.2" width="25.96" height="26.1" fill="#A2A2FF"/>
<rect x="1108" y="1637" width="25.96" height="26.1" fill="#ABABFF"/>
<rect x="1133.66" y="1637" width="25.96" height="26.1" fill="#FF0000"/>
<rect x="1159.32" y="1637" width="25.96" height="26.1" fill="#D5D5FF"/>
<rect x="1184.98" y="1637" width="25.96" height="26.1" fill="#9595FF"/>
<rect x="1210.64" y="1637" width="25.96" height="26.1" fill="#8080FF"/>
<rect x="1108" y="1662.8" width="25.96" height="26.1" fill="#DADAFF"/>
<rect x="1133.66" y="1662.8" width="25.96" height="26.1" fill="#FF0000"/>
<rect x="1159.32" y="1662.8" width="25.96" height="26.1" fill="#9C9CFF"/>
<rect x="1184.98" y="1662.8" width="25.96" height="26.1" fill="#9C9CFF"/>
<rect x="1210.64" y="1662.8" width="25.96" height="26.1" fill="#9C9CFF"/>
<rect x="1108" y="1688.6" width="25.96" height="26.1" fill="#D5D5FF"/>
<rect x="1133.66" y="1688.6" width="25.96" height="26.1" fill="#FF0000"/>
<rect x="1159.32" y="1688.6" width="25.96" height="26.1" fill="#9C9CFF"/>
<rect x="1184.98" y="1688.6" width="25.96" height="26.1" fill="#9C9CFF"/>
<rect x="1210.64" y="1688.6" width="25.96" height="26.1" fill="#9C9CFF"/>
<rect x="1108" y="1714.4" width="25.96" height="26.1" fill="#FF6A6A"/>
<rect x="1133.66" y="1714.4" width="25.96" height="26.1" fill="#FF8E8E"/>
<rect x="1159.32" y="1714.4" width="25.96" height="26.1" fill="#4444FF"/>
<rect x="1184.98" y="1714.4" width="25.96" height="26.1" fill="#FBFBFF"/>
<rect x="1210.64" y="1714.4" width="25.96" height="26.1" fill="#6060FF"/>
<rect x="1108" y="1740.2" width="25.96" height="26.1" fill="#FF9090"/>
<rect x="1133.66" y="1740.2" width="25.96" height="26.1" fill="#FF4444"/>
<rect x="1159.32" y="1740.2" width="25.96" height="26.1" fill="#4444FF"/>
<rect x="1184.98" y="1740.2" width="25.96" height="26.1" fill="#9090FF"/>
<rect x="1210.64" y="1740.2" width="25.96" height="26.1" fill="#A8A8FF"/>
<rect x="1108" y="1766" width="25.96" height="26.1" fill="#FF7A7A"/>
<rect x="1133.66" y="1766" width="25.96" height="26.1" fill="#FF5858"/>
<rect x="1159.32" y="1766" width="25.96" height="26.1" fill="#4444FF"/>
<rect x="1184.98" y="1766" width="25.96" height="26.1" fill="#9595FF"/>
<rect x="1210.64" y="1766" width="25.96" height="26.1" fill="#A8A8FF"/>
<rect x="1108" y="1791.8" width="25.96" height="26.1" fill="#FF6A6A"/>
<rect x="1133.66" y="1791.8" width="25.96" height="26.1" fill="#FFB0B0"/>
<rect x="1159.32" y="1791.8" width="25.96" height="26.1" fill="#FFF2F2"/>
<rect x="1184.98" y="1791.8" width="25.96" height="26.1" fill="#B8B8FF"/>
<rect x="1210.64" y="1791.8" width="25.96" height="26.1" fill="#0000FF"/>
<rect x="1108" y="1817.6" width="25.96" height="26.1" fill="#FF0000"/>
<rect x="1133.66" y="1817.6" width="25.96" height="26.1" fill="#E0E0FF"/>
<rect x="1159.32" y="1817.6" width="25.96" height="26.1" fill="#9595FF"/>
<rect x="1184.98" y="1817.6" width="25.96" height="26.1" fill="#9595FF"/>
<rect x="1210.64" y="1817.6" width="25.96" height="26.1" fill="#9595FF"/>
<rect x="1108" y="1843.4" width="25.96" height="26.1" fill="#FF1414"/>
<rect x="1133.66" y="1843.4" width="25.96" height="26.1" fill="#FFDEDE"/>
<rect x="1159.32" y="1843.4" width="25.96" height="26.1" fill="#8A8AFF"/>
<rect x="1184.98" y="1843.4" width="25.96" height="26.1" fill="#8A8AFF"/>
<rect x="1210.64" y="1843.4" width="25.96" height="26.1" fill="#8A8AFF"/>
<rect x="1108" y="1869.2" width="25.96" height="26.1" fill="#B0B0FF"/>
<rect x="1133.66" y="1869.2" width="25.96" height="26.1" fill="#1414FF"/>
<rect x="1159.32" y="1869.2" width="25.96" height="26.1" fill="#FF6A6A"/>
<rect x="1184.98" y="1869.2" width="25.96" height="26.1" fill="#FF8A8A"/>
<rect x="1210.64" y="1869.2" width="25.96" height="26.1" fill="#C8C8FF"/>
<rect x="1108" y="1895" width="25.96" height="26.1" fill="#ABABFF"/>
<rect x="1133.66" y="1895" width="25.96" height="26.1" fill="#6060FF"/>
<rect x="1159.32" y="1895" width="25.96" height="26.1" fill="#FF4A4A"/>
<rect x="1184.98" y="1895" width="25.96" height="26.1" fill="#FF8E8E"/>
<rect x="1210.64" y="1895" width="25.96" height="26.1" fill="#6868FF"/>
<rect x="1108" y="1920.8" width="25.96" height="26.1" fill="#9E9EFF"/>
<rect x="1133.66" y="1920.8" width="25.96" height="26.1" fill="#7070FF"/>
<rect x="1159.32" y="1920.8" width="25.96" height="26.1" fill="#FF2020"/>
<rect x="1184.98" y="1920.8" width="25.96" height="26.1" fill="#FFCFCF"/>
<rect x="1210.64" y="1920.8" width="25.96" height="26.1" fill="#8080FF"/>
<rect x="1108" y="1946.6" width="25.96" height="26.1" fill="#FFB8B8"/>
<rect x="1133.66" y="1946.6" width="25.96" height="26.1" fill="#8E8EFF"/>
<rect x="1159.32" y="1946.6" width="25.96" height="26.1" fill="#FF4848"/>
<rect x="1184.98" y="1946.6" width="25.96" height="26.1" fill="#F0F0FF"/>
<rect x="1210.64" y="1946.6" width="25.96" height="26.1" fill="#2020FF"/>
<rect x="1108" y="1972.4" width="25.96" height="26.1" fill="#9090FF"/>
<rect x="1133.66" y="1972.4" width="25.96" height="26.1" fill="#7878FF"/>
<rect x="1159.32" y="1972.4" width="25.96" height="26.1" fill="#FF0000"/>
<rect x="1184.98" y="1972.4" width="25.96" height="26.1" fill="#DCDCFF"/>
<rect x="1210.64" y="1972.4" width="25.96" height="26.1" fill="#B4B4FF"/>
<rect x="1108" y="1998.2" width="25.96" height="26.1" fill="#C8C8FF"/>
<rect x="1133.66" y="1998.2" width="25.96" height="26.1" fill="#9C9CFF"/>
<rect x="1159.32" y="1998.2" width="25.96" height="26.1" fill="#FF0000"/>
<rect x="1184.98" y="1998.2" width="25.96" height="26.1" fill="#D2D2FF"/>
<rect x="1210.64" y="1998.2" width="25.96" height="26.1" fill="#7070FF"/>
<rect x="1108" y="2024" width="25.96" height="26.1" fill="#8888FF"/>
<rect x="1133.66" y="2024" width="25.96" height="26.1" fill="#D4D4FF"/>
<rect x="1159.32" y="2024" width="25.96" height="26.1" fill="#FF0000"/>
<rect x="1184.98" y="2024" width="25.96" height="26.1" fill="#B5B5FF"/>
<rect x="1210.64" y="2024" width="25.96" height="26.1" fill="#8A8AFF"/>
<rect x="1108" y="2049.8" width="25.96" height="26.1" fill="#A4A4FF"/>
<rect x="1133.66" y="2049.8" width="25.96" height="26.1" fill="#A4A4FF"/>
<rect x="1159.32" y="2049.8" width="25.96" height="26.1" fill="#FF0000"/>
<rect x="1184.98" y="2049.8" width="25.96" height="26.1" fill="#A4A4FF"/>
<rect x="1210.64" y="2049.8" width="25.96" height="26.1" fill="#A4A4FF"/>
<rect x="1108" y="2075.6" width="25.96" height="26.1" fill="#FF8888"/>
<rect x="1133.66" y="2075.6" width="25.96" height="26.1" fill="#8484FF"/>
<rect x="1159.32" y="2075.6" width="25.96" height="26.1" fill="#7575FF"/>
<rect x="1184.98" y="2075.6" width="25.96" height="26.1" fill="#FF4848"/>
<rect x="1210.64" y="2075.6" width="25.96" height="26.1" fill="#7575FF"/>
<rect x="1108" y="2101.4" width="25.96" height="26.1" fill="#A4A4FF"/>
<rect x="1133.66" y="2101.4" width="25.96" height="26.1" fill="#A4A4FF"/>
<rect x="1159.32" y="2101.4" width="25.96" height="26.1" fill="#A4A4FF"/>
<rect x="1184.98" y="2101.4" width="25.96" height="26.1" fill="#FF0000"/>
<rect x="1210.64" y="2101.4" width="25.96" height="26.1" fill="#A4A4FF"/>
<rect x="1108" y="2127.2" width="25.96" height="26.1" fill="#D2D2FF"/>
<rect x="1133.66" y="2127.2" width="25.96" height="26.1" fill="#7272FF"/>
<rect x="1159.32" y="2127.2" width="25.96" height="26.1" fill="#C8C8FF"/>
<rect x="1184.98" y="2127.2" width="25.96" height="26.1" fill="#FF0000"/>
<rect x="1210.64" y="2127.2" width="25.96" height="26.1" fill="#8484FF"/>
<rect x="1108" y="2153" width="25.96" height="26.1" fill="#5050FF"/>
<rect x="1133.66" y="2153" width="25.96" height="26.1" fill="#4040FF"/>
<rect x="1159.32" y="2153" width="25.96" height="26.1" fill="#FFFFFF"/>
<rect x="1184.98" y="2153" width="25.96" height="26.1" fill="#FF7A7A"/>
<rect x="1210.64" y="2153" width="25.96" height="26.1" fill="#FF7E7E"/>
<rect x="1108" y="2178.8" width="25.96" height="26.1" fill="#A4A4FF"/>
<rect x="1133.66" y="2178.8" width="25.96" height="26.1" fill="#A4A4FF"/>
<rect x="1159.32" y="2178.8" width="25.96" height="26.1" fill="#A4A4FF"/>
<rect x="1184.98" y="2178.8" width="25.96" height="26.1" fill="#A4A4FF"/>
<rect x="1210.64" y="2178.8" width="25.96" height="26.1" fill="#FF0000"/>
<text x="1240.8" y="1527.8" font-size="19.6">RUNX3 (206g)</text>
<text x="1240.8" y="1553.6" font-size="19.6">FOSL1 (29g)</text>
<text x="1240.8" y="1579.4" font-size="19.6">STAT1 (65g)</text>
<text x="1240.8" y="1605.2" font-size="19.6">ATF3 (30g)</text>
<text x="1240.8" y="1631" font-size="19.6">IRF1 (116g)</text>
<text x="1240.8" y="1656.8" font-size="19.6">CEBPD (211g)</text>
<text x="1240.8" y="1682.6" font-size="19.6">NFIA (63g)</text>
<text x="1240.8" y="1708.4" font-size="19.6">MYLK (79g)</text>
<text x="1240.8" y="1734.2" font-size="19.6">MAFF (19g)</text>
<text x="1240.8" y="1760" font-size="19.6">JUND (313g)</text>
<text x="1240.8" y="1785.8" font-size="19.6">KLF2 (15g)</text>
<text x="1240.8" y="1811.6" font-size="19.6">ETS1 (423g)</text>
<text x="1240.8" y="1837.4" font-size="19.6">ERG (174g)</text>
<text x="1240.8" y="1863.2" font-size="19.6">FOXP1 (83g)</text>
<text x="1240.8" y="1889" font-size="19.6">HIF1A (75g)</text>
<text x="1240.8" y="1914.8" font-size="19.6">NFKB1 (288g)</text>
<text x="1240.8" y="1940.6" font-size="19.6">CEBPB (483g)</text>
<text x="1240.8" y="1966.4" font-size="19.6">ETS2 (50g)</text>
<text x="1240.8" y="1992.2" font-size="19.6">NFKB2 (40g)</text>
<text x="1240.8" y="2018" font-size="19.6">FOSL2 (46g)</text>
<text x="1240.8" y="2043.8" font-size="19.6">CREM (193g)</text>
<text x="1240.8" y="2069.6" font-size="19.6">XBP1 (30g)</text>
<text x="1240.8" y="2095.4" font-size="19.6">NR1H3 (29g)</text>
<text x="1240.8" y="2121.2" font-size="19.6">MAFG (11g)</text>
<text x="1240.8" y="2147" font-size="19.6">REL (243g)</text>
<text x="1240.8" y="2172.8" font-size="19.6">SPI1 (1046g)</text>
<text x="1240.8" y="2198.6" font-size="19.6">E2F1 (150g)</text>
<text x="1120.33" y="2208.5" font-size="19.6" text-anchor="end" transform="rotate(-45 1120.33 2208.5)" dominant-baseline="hanging">4</text>
<text x="1145.99" y="2208.5" font-size="19.6" text-anchor="end" transform="rotate(-45 1145.99 2208.5)" dominant-baseline="hanging">5</text>
<text x="1171.65" y="2208.5" font-size="19.6" text-anchor="end" transform="rotate(-45 1171.65 2208.5)" dominant-baseline="hanging">2</text>
<text x="1197.31" y="2208.5" font-size="19.6" text-anchor="end" transform="rotate(-45 1197.31 2208.5)" dominant-baseline="hanging">1</text>
<text x="1222.97" y="2208.5" font-size="19.6" text-anchor="end" transform="rotate(-45 1222.97 2208.5)" dominant-baseline="hanging">3</text>
<rect x="1383.5" y="1508" width="14.3" height="214.8" fill="url(#gH)"/>
<text x="1404.6" y="1533.6" font-size="18.3">1.5</text>
<text x="1404.6" y="1565" font-size="18.3">1</text>
<text x="1404.6" y="1597.9" font-size="18.3">0.5</text>
<text x="1404.6" y="1630" font-size="18.3">0</text>
<text x="1404.6" y="1662.9" font-size="18.3">−0.5</text>
<text x="1404.6" y="1695" font-size="18.3">−1</text>
<text x="1404.6" y="1727.2" font-size="18.3">−1.5</text>
<path d="M1120.83 1507.5L1120.83 1486.3M1146.49 1507.5L1146.49 1486.3M1120.83 1486.3L1146.49 1486.3M1197.81 1507.5L1197.81 1489.5M1223.47 1507.5L1223.47 1489.5M1197.81 1489.5L1223.47 1489.5M1172.15 1507.5L1172.15 1483.7M1210.64 1489.5L1210.64 1483.7M1172.15 1483.7L1210.64 1483.7M1133.66 1486.3L1133.66 1473.7M1191.39 1483.7L1191.39 1473.7M1133.66 1473.7L1191.39 1473.7M1107.5 1546.7L1105.5 1546.7M1107.5 1572.5L1105.5 1572.5M1105.5 1546.7L1105.5 1572.5M1107.5 1520.9L1103.8 1520.9M1105.5 1559.6L1103.8 1559.6M1103.8 1520.9L1103.8 1559.6M1107.5 1598.3L1106 1598.3M1107.5 1624.1L1106 1624.1M1106 1598.3L1106 1624.1M1107.5 1675.7L1106.8 1675.7M1107.5 1701.5L1106.8 1701.5M1106.8 1675.7L1106.8 1701.5M1107.5 1649.9L1103.5 1649.9M1106.8 1688.6L1103.5 1688.6M1103.5 1649.9L1103.5 1688.6M1106 1611.2L1103.1 1611.2M1103.5 1669.25L1103.1 1669.25M1103.1 1611.2L1103.1 1669.25M1103.8 1540.25L1098.4 1540.25M1103.1 1640.22L1098.4 1640.22M1098.4 1540.25L1098.4 1640.22M1107.5 1753.1L1105.5 1753.1M1107.5 1778.9L1105.5 1778.9M1105.5 1753.1L1105.5 1778.9M1107.5 1727.3L1098.8 1727.3M1105.5 1766L1098.8 1766M1098.8 1727.3L1098.8 1766M1107.5 1830.5L1104.3 1830.5M1107.5 1856.3L1104.3 1856.3M1104.3 1830.5L1104.3 1856.3M1107.5 1804.7L1093.8 1804.7M1104.3 1843.4L1093.8 1843.4M1093.8 1804.7L1093.8 1843.4M1098.8 1746.65L1090.9 1746.65M1093.8 1824.05L1090.9 1824.05M1090.9 1746.65L1090.9 1824.05M1098.4 1590.24L1081.2 1590.24M1090.9 1785.35L1081.2 1785.35M1081.2 1590.24L1081.2 1785.35M1107.5 1907.9L1102.6 1907.9M1107.5 1933.7L1102.6 1933.7M1102.6 1907.9L1102.6 1933.7M1107.5 1882.1L1098.8 1882.1M1102.6 1920.8L1098.8 1920.8M1098.8 1882.1L1098.8 1920.8M1107.5 2036.9L1103.4 2036.9M1107.5 2062.7L1103.4 2062.7M1103.4 2036.9L1103.4 2062.7M1107.5 2011.1L1102.6 2011.1M1103.4 2049.8L1102.6 2049.8M1102.6 2011.1L1102.6 2049.8M1107.5 1985.3L1101.5 1985.3M1102.6 2030.45L1101.5 2030.45M1101.5 1985.3L1101.5 2030.45M1107.5 1959.5L1094.3 1959.5M1101.5 2007.88L1094.3 2007.88M1094.3 1959.5L1094.3 2007.88M1098.8 1901.45L1090.9 1901.45M1094.3 1983.69L1090.9 1983.69M1090.9 1901.45L1090.9 1983.69M1107.5 2114.3L1103.1 2114.3M1107.5 2140.1L1103.1 2140.1M1103.1 2114.3L1103.1 2140.1M1107.5 2088.5L1094.8 2088.5M1103.1 2127.2L1094.8 2127.2M1094.8 2088.5L1094.8 2127.2M1107.5 2165.9L1090.6 2165.9M1107.5 2191.7L1090.6 2191.7M1090.6 2165.9L1090.6 2191.7M1094.8 2107.85L1078 2107.85M1090.6 2178.8L1078 2178.8M1078 2107.85L1078 2178.8M1090.9 1942.57L1075 1942.57M1078 2143.32L1075 2143.32M1075 1942.57L1075 2143.32M1081.2 1687.79L1073.4 1687.79M1075 2042.95L1073.4 2042.95M1073.4 1687.79L1073.4 2042.95" stroke="#000" stroke-width="1.3" fill="none" stroke-linecap="square"/></svg></body></html>
